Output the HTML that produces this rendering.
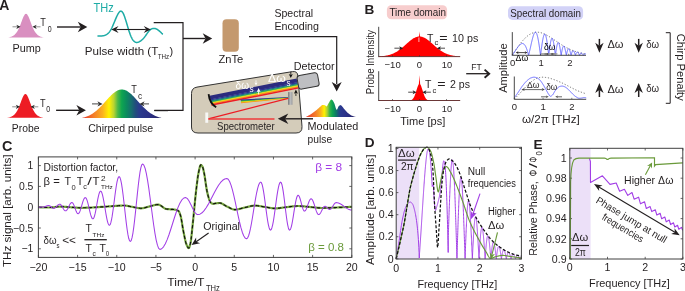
<!DOCTYPE html>
<html><head><meta charset="utf-8"><style>
html,body{margin:0;padding:0;background:#fff;width:685px;height:291px;overflow:hidden}
svg{display:block;will-change:transform}
text{font-family:"Liberation Sans",sans-serif}
</style></head><body>
<svg width="685" height="291" viewBox="0 0 685 291">
<defs><linearGradient id="rb" x1="82" y1="0" x2="161.5" y2="0" gradientUnits="userSpaceOnUse">
<stop offset="0" stop-color="#e6332a"/><stop offset="0.15" stop-color="#f4802a"/><stop offset="0.26" stop-color="#fbb21f"/>
<stop offset="0.34" stop-color="#fff200"/><stop offset="0.4" stop-color="#b9d432"/><stop offset="0.45" stop-color="#4cb848"/>
<stop offset="0.5" stop-color="#0ea550"/><stop offset="0.56" stop-color="#0b8b5d"/><stop offset="0.62" stop-color="#176e6e"/>
<stop offset="0.67" stop-color="#214f7c"/><stop offset="0.72" stop-color="#2a3b8d"/><stop offset="0.85" stop-color="#2b2f84"/>
<stop offset="1" stop-color="#262462"/></linearGradient>
<linearGradient id="gm" x1="0" y1="0" x2="1" y2="0"><stop offset="0" stop-color="#77787a"/><stop offset="0.55" stop-color="#b9babc"/><stop offset="1" stop-color="#9a9b9e"/></linearGradient>
<linearGradient id="rb2" x1="305.9" y1="0" x2="355.6" y2="0" gradientUnits="userSpaceOnUse">
<stop offset="0" stop-color="#e6332a"/><stop offset="0.2" stop-color="#f4802a"/><stop offset="0.3" stop-color="#fbb21f"/>
<stop offset="0.37" stop-color="#fff200"/><stop offset="0.43" stop-color="#a6cf38"/><stop offset="0.48" stop-color="#39b54a"/>
<stop offset="0.53" stop-color="#0ea550"/><stop offset="0.6" stop-color="#0b7d64"/><stop offset="0.66" stop-color="#1f4f80"/>
<stop offset="0.7" stop-color="#2b3990"/><stop offset="0.85" stop-color="#2b2f84"/>
<stop offset="1" stop-color="#262462"/></linearGradient></defs>
<text x="-0.8" y="9.5" font-size="14" fill="#231f20" font-weight="bold" >A</text>
<path d="M8.00 37.48 L8.30 37.43 L8.61 37.38 L8.91 37.33 L9.21 37.27 L9.51 37.20 L9.82 37.13 L10.12 37.05 L10.42 36.96 L10.72 36.87 L11.03 36.77 L11.33 36.66 L11.63 36.54 L11.93 36.41 L12.24 36.27 L12.54 36.12 L12.84 35.96 L13.14 35.78 L13.45 35.58 L13.75 35.38 L14.05 35.15 L14.35 34.91 L14.66 34.64 L14.96 34.36 L15.26 34.05 L15.56 33.73 L15.87 33.37 L16.17 33.00 L16.47 32.59 L16.77 32.16 L17.08 31.70 L17.38 31.21 L17.68 30.69 L17.98 30.14 L18.29 29.56 L18.59 28.94 L18.89 28.30 L19.19 27.63 L19.50 26.92 L19.80 26.20 L20.10 25.44 L20.40 24.67 L20.71 23.88 L21.01 23.07 L21.31 22.26 L21.61 21.44 L21.92 20.63 L22.22 19.83 L22.52 19.04 L22.82 18.28 L23.13 17.56 L23.43 16.87 L23.73 16.24 L24.03 15.66 L24.34 15.15 L24.64 14.72 L24.94 14.36 L25.24 14.09 L25.55 13.90 L25.85 13.81 L26.15 13.81 L26.45 13.90 L26.76 14.09 L27.06 14.36 L27.36 14.72 L27.66 15.15 L27.97 15.66 L28.27 16.24 L28.57 16.87 L28.87 17.56 L29.18 18.28 L29.48 19.04 L29.78 19.83 L30.08 20.63 L30.39 21.44 L30.69 22.26 L30.99 23.07 L31.29 23.88 L31.60 24.67 L31.90 25.44 L32.20 26.20 L32.50 26.92 L32.81 27.63 L33.11 28.30 L33.41 28.94 L33.71 29.56 L34.02 30.14 L34.32 30.69 L34.62 31.21 L34.92 31.70 L35.23 32.16 L35.53 32.59 L35.83 33.00 L36.13 33.37 L36.44 33.73 L36.74 34.05 L37.04 34.36 L37.34 34.64 L37.65 34.91 L37.95 35.15 L38.25 35.38 L38.55 35.58 L38.86 35.78 L39.16 35.96 L39.46 36.12 L39.76 36.27 L40.07 36.41 L40.37 36.54 L40.67 36.66 L40.97 36.77 L41.28 36.87 L41.58 36.96 L41.88 37.05 L42.18 37.13 L42.49 37.20 L42.79 37.27 L43.09 37.33 L43.39 37.38 L43.70 37.43 L44.00 37.48 Z" fill="#d98fc0" stroke="none" stroke-width="1" />
<line x1="12.5" y1="26.8" x2="17.5" y2="26.8" stroke="#777" stroke-width="0.8" />
<path d="M20.5 26.8 L16.3 28.9 L17.56 26.8 L16.3 24.7 Z" fill="#222" stroke="none" stroke-width="1" />
<line x1="40.5" y1="26.8" x2="35.5" y2="26.8" stroke="#777" stroke-width="0.8" />
<path d="M32.5 26.8 L36.7 24.7 L35.44 26.8 L36.7 28.9 Z" fill="#222" stroke="none" stroke-width="1" />
<text x="40.2" y="26.4" font-size="10.8" fill="#231f20" textLength="5.6" lengthAdjust="spacingAndGlyphs" >T</text>
<text x="47.7" y="31.8" font-size="8.2" fill="#231f20" textLength="3.9" lengthAdjust="spacingAndGlyphs" >0</text>
<text x="12.6" y="51.9" font-size="11.4" fill="#231f20" textLength="28.3" lengthAdjust="spacingAndGlyphs" >Pump</text>
<line x1="57" y1="27" x2="80.65" y2="27" stroke="#231f20" stroke-width="1.4" />
<path d="M87.3 27 L77.8 32.25 L80.65 27 L77.8 21.75 Z" fill="#231f20" stroke="none" stroke-width="1" />
<text x="93.6" y="11.9" font-size="12.2" fill="#1eaca6" textLength="20.2" lengthAdjust="spacingAndGlyphs" >THz</text>
<path d="M98.00 35.90 L98.32 35.91 L98.65 35.93 L98.97 35.94 L99.29 35.95 L99.62 35.96 L99.94 35.97 L100.27 35.97 L100.59 35.97 L100.91 35.97 L101.24 35.96 L101.56 35.95 L101.88 35.93 L102.21 35.90 L102.53 35.87 L102.85 35.82 L103.18 35.77 L103.50 35.71 L103.83 35.63 L104.15 35.55 L104.47 35.45 L104.80 35.34 L105.12 35.22 L105.44 35.08 L105.77 34.93 L106.09 34.76 L106.41 34.58 L106.74 34.38 L107.06 34.16 L107.38 33.92 L107.71 33.66 L108.03 33.38 L108.36 33.08 L108.68 32.75 L109.00 32.40 L109.33 32.01 L109.65 31.60 L109.97 31.15 L110.30 30.67 L110.62 30.15 L110.94 29.60 L111.27 29.01 L111.59 28.38 L111.92 27.71 L112.24 27.02 L112.56 26.31 L112.89 25.57 L113.21 24.82 L113.53 24.05 L113.86 23.27 L114.18 22.49 L114.50 21.70 L114.83 20.92 L115.15 20.13 L115.48 19.36 L115.80 18.60 L116.12 17.86 L116.45 17.13 L116.77 16.43 L117.09 15.75 L117.42 15.09 L117.74 14.47 L118.06 13.89 L118.39 13.34 L118.71 12.84 L119.04 12.38 L119.36 11.99 L119.68 11.66 L120.01 11.41 L120.33 11.23 L120.65 11.13 L120.98 11.12 L121.30 11.20 L121.62 11.36 L121.95 11.61 L122.27 11.94 L122.59 12.36 L122.92 12.86 L123.24 13.45 L123.57 14.11 L123.89 14.85 L124.21 15.66 L124.54 16.52 L124.86 17.44 L125.18 18.41 L125.51 19.41 L125.83 20.45 L126.15 21.51 L126.48 22.59 L126.80 23.69 L127.13 24.80 L127.45 25.90 L127.77 27.00 L128.10 28.09 L128.42 29.15 L128.74 30.20 L129.07 31.21 L129.39 32.18 L129.71 33.12 L130.04 34.02 L130.36 34.87 L130.69 35.68 L131.01 36.45 L131.33 37.17 L131.66 37.84 L131.98 38.46 L132.30 39.03 L132.63 39.55 L132.95 40.02 L133.27 40.45 L133.60 40.83 L133.92 41.16 L134.25 41.45 L134.57 41.70 L134.89 41.91 L135.22 42.09 L135.54 42.22 L135.86 42.33 L136.19 42.40 L136.51 42.44 L136.83 42.45 L137.16 42.43 L137.48 42.38 L137.81 42.31 L138.13 42.22 L138.45 42.10 L138.78 41.97 L139.10 41.81 L139.42 41.64 L139.75 41.45 L140.07 41.26 L140.39 41.04 L140.72 40.82 L141.04 40.58 L141.36 40.33 L141.69 40.07 L142.01 39.79 L142.34 39.49 L142.66 39.19 L142.98 38.87 L143.31 38.53 L143.63 38.17 L143.95 37.81 L144.28 37.42 L144.60 37.02 L144.92 36.60 L145.25 36.16 L145.57 35.71 L145.90 35.25 L146.22 34.79 L146.54 34.31 L146.87 33.84 L147.19 33.38 L147.51 32.92 L147.84 32.47 L148.16 32.03 L148.48 31.62 L148.81 31.22 L149.13 30.85 L149.46 30.51 L149.78 30.20 L150.10 29.91 L150.43 29.65 L150.75 29.42 L151.07 29.21 L151.40 29.02 L151.72 28.86 L152.04 28.72 L152.37 28.61 L152.69 28.52 L153.02 28.45 L153.34 28.41 L153.66 28.38 L153.99 28.38 L154.31 28.40 L154.63 28.44 L154.96 28.49 L155.28 28.57 L155.60 28.67 L155.93 28.79 L156.25 28.92 L156.57 29.07 L156.90 29.24 L157.22 29.43 L157.55 29.63 L157.87 29.85 L158.19 30.09 L158.52 30.33 L158.84 30.59 L159.16 30.86 L159.49 31.14 L159.81 31.43 L160.13 31.72 L160.46 32.02 L160.78 32.33 L161.11 32.64 L161.43 32.95 L161.75 33.27 L162.08 33.58 L162.40 33.90" fill="none" stroke="#1eaca6" stroke-width="1.5" stroke-linecap="round" stroke-linejoin="round"/>
<line x1="116.34" y1="29.5" x2="145.86" y2="29.5" stroke="#231f20" stroke-width="1.1" />
<path d="M150.9 29.5 L143.7 32.9 L146.22 29.5 L143.7 26.1 Z" fill="#231f20" stroke="none" stroke-width="1" />
<path d="M111.3 29.5 L118.5 26.1 L115.98 29.5 L118.5 32.9 Z" fill="#231f20" stroke="none" stroke-width="1" />
<text x="84.7" y="54.7" font-size="10.9" fill="#231f20" textLength="73.6" lengthAdjust="spacingAndGlyphs" >Pulse width (T</text>
<text x="157.8" y="58.6" font-size="6.9" fill="#231f20" textLength="11.4" lengthAdjust="spacingAndGlyphs" >THz</text>
<text x="169.4" y="54.7" font-size="10.9" fill="#231f20" >)</text>
<path d="M153.7 22.7 L183 22.7 L183 110.4 L154.3 110.4" fill="none" stroke="#231f20" stroke-width="1.2" />
<line x1="183" y1="38.5" x2="205.55" y2="38.5" stroke="#231f20" stroke-width="1.4" />
<path d="M212.2 38.5 L202.7 43.75 L205.55 38.5 L202.7 33.25 Z" fill="#231f20" stroke="none" stroke-width="1" />
<path d="M7.50 117.67 L7.80 117.62 L8.11 117.56 L8.41 117.51 L8.71 117.44 L9.01 117.38 L9.32 117.30 L9.62 117.22 L9.92 117.13 L10.22 117.04 L10.53 116.94 L10.83 116.82 L11.13 116.70 L11.43 116.57 L11.74 116.42 L12.04 116.27 L12.34 116.10 L12.64 115.92 L12.95 115.72 L13.25 115.50 L13.55 115.27 L13.85 115.02 L14.16 114.75 L14.46 114.46 L14.76 114.15 L15.06 113.81 L15.37 113.45 L15.67 113.06 L15.97 112.65 L16.27 112.21 L16.58 111.74 L16.88 111.24 L17.18 110.71 L17.48 110.15 L17.79 109.56 L18.09 108.93 L18.39 108.28 L18.69 107.60 L19.00 106.89 L19.30 106.15 L19.60 105.39 L19.90 104.61 L20.21 103.81 L20.51 103.00 L20.81 102.19 L21.11 101.37 L21.42 100.56 L21.72 99.77 L22.02 98.99 L22.32 98.24 L22.63 97.53 L22.93 96.86 L23.23 96.24 L23.53 95.69 L23.84 95.20 L24.14 94.79 L24.44 94.46 L24.74 94.22 L25.05 94.06 L25.35 94.00 L25.65 94.03 L25.95 94.16 L26.26 94.37 L26.56 94.67 L26.86 95.05 L27.16 95.51 L27.47 96.05 L27.77 96.64 L28.07 97.29 L28.37 97.99 L28.68 98.73 L28.98 99.50 L29.28 100.29 L29.58 101.10 L29.89 101.91 L30.19 102.73 L30.49 103.54 L30.79 104.34 L31.10 105.13 L31.40 105.90 L31.70 106.64 L32.00 107.36 L32.31 108.05 L32.61 108.72 L32.91 109.35 L33.21 109.95 L33.52 110.52 L33.82 111.06 L34.12 111.57 L34.42 112.05 L34.73 112.51 L35.03 112.93 L35.33 113.32 L35.63 113.69 L35.94 114.04 L36.24 114.36 L36.54 114.66 L36.84 114.93 L37.15 115.19 L37.45 115.43 L37.75 115.65 L38.05 115.85 L38.36 116.04 L38.66 116.21 L38.96 116.37 L39.26 116.52 L39.57 116.66 L39.87 116.78 L40.17 116.90 L40.47 117.01 L40.78 117.10 L41.08 117.19 L41.38 117.28 L41.68 117.35 L41.99 117.42 L42.29 117.49 L42.59 117.55 L42.89 117.60 L43.20 117.65 L43.50 117.70 Z" fill="#ed1c24" stroke="none" stroke-width="1" />
<line x1="12.2" y1="106.8" x2="17" y2="106.8" stroke="#777" stroke-width="0.8" />
<path d="M20 106.8 L15.8 108.9 L17.06 106.8 L15.8 104.7 Z" fill="#222" stroke="none" stroke-width="1" />
<line x1="38.3" y1="106.8" x2="33.6" y2="106.8" stroke="#777" stroke-width="0.8" />
<path d="M30.6 106.8 L34.8 104.7 L33.54 106.8 L34.8 108.9 Z" fill="#222" stroke="none" stroke-width="1" />
<text x="40" y="106.6" font-size="10.8" fill="#231f20" textLength="5.6" lengthAdjust="spacingAndGlyphs" >T</text>
<text x="46.3" y="112.2" font-size="8.2" fill="#231f20" textLength="3.9" lengthAdjust="spacingAndGlyphs" >0</text>
<text x="11.8" y="132" font-size="11" fill="#231f20" textLength="27.6" lengthAdjust="spacingAndGlyphs" >Probe</text>
<line x1="56.1" y1="110.3" x2="79.25" y2="110.3" stroke="#231f20" stroke-width="1.4" />
<path d="M85.9 110.3 L76.4 115.55 L79.25 110.3 L76.4 105.05 Z" fill="#231f20" stroke="none" stroke-width="1" />
<path d="M82.00 117.94 L82.67 117.78 L83.34 117.62 L84.00 117.43 L84.67 117.24 L85.34 117.02 L86.01 116.80 L86.68 116.55 L87.34 116.29 L88.01 116.00 L88.68 115.70 L89.35 115.38 L90.02 115.04 L90.68 114.67 L91.35 114.29 L92.02 113.88 L92.69 113.45 L93.36 113.00 L94.03 112.52 L94.69 112.03 L95.36 111.51 L96.03 110.96 L96.70 110.40 L97.37 109.81 L98.03 109.21 L98.70 108.58 L99.37 107.93 L100.04 107.27 L100.71 106.59 L101.37 105.90 L102.04 105.19 L102.71 104.47 L103.38 103.74 L104.05 103.00 L104.71 102.26 L105.38 101.51 L106.05 100.76 L106.72 100.01 L107.39 99.27 L108.05 98.54 L108.72 97.81 L109.39 97.10 L110.06 96.41 L110.73 95.73 L111.39 95.07 L112.06 94.44 L112.73 93.84 L113.40 93.26 L114.07 92.72 L114.74 92.21 L115.40 91.74 L116.07 91.31 L116.74 90.92 L117.41 90.58 L118.08 90.28 L118.74 90.03 L119.41 89.82 L120.08 89.67 L120.75 89.56 L121.42 89.51 L122.08 89.50 L122.75 89.55 L123.42 89.65 L124.09 89.80 L124.76 89.99 L125.42 90.24 L126.09 90.53 L126.76 90.87 L127.43 91.25 L128.10 91.68 L128.76 92.14 L129.43 92.64 L130.10 93.18 L130.77 93.75 L131.44 94.35 L132.11 94.98 L132.77 95.63 L133.44 96.30 L134.11 97.00 L134.78 97.71 L135.45 98.43 L136.11 99.16 L136.78 99.90 L137.45 100.65 L138.12 101.40 L138.79 102.14 L139.45 102.89 L140.12 103.63 L140.79 104.36 L141.46 105.08 L142.13 105.79 L142.79 106.49 L143.46 107.17 L144.13 107.84 L144.80 108.48 L145.47 109.11 L146.13 109.72 L146.80 110.31 L147.47 110.88 L148.14 111.43 L148.81 111.95 L149.47 112.45 L150.14 112.93 L150.81 113.38 L151.48 113.82 L152.15 114.23 L152.82 114.62 L153.48 114.98 L154.15 115.33 L154.82 115.65 L155.49 115.96 L156.16 116.24 L156.82 116.51 L157.49 116.76 L158.16 116.99 L158.83 117.21 L159.50 117.41 L160.16 117.59 L160.83 117.76 L161.50 117.92 Z" fill="url(#rb)" stroke="none" stroke-width="1" />
<line x1="92" y1="103.9" x2="98.96" y2="103.9" stroke="#333" stroke-width="0.9" />
<path d="M102.6 103.9 L97.4 106.6 L98.96 103.9 L97.4 101.2 Z" fill="#333" stroke="none" stroke-width="1" />
<line x1="149" y1="103.9" x2="143.04" y2="103.9" stroke="#333" stroke-width="0.9" />
<path d="M139.4 103.9 L144.6 101.2 L143.04 103.9 L144.6 106.6 Z" fill="#333" stroke="none" stroke-width="1" />
<text x="131.2" y="92.8" font-size="10.8" fill="#231f20" textLength="5.6" lengthAdjust="spacingAndGlyphs" >T</text>
<text x="137.9" y="99.2" font-size="8.6" fill="#231f20" textLength="4.2" lengthAdjust="spacingAndGlyphs" >c</text>
<text x="88.2" y="132" font-size="11" fill="#231f20" textLength="65" lengthAdjust="spacingAndGlyphs" >Chirped pulse</text>
<line x1="154.3" y1="110.6" x2="168" y2="110.6" stroke="#231f20" stroke-width="1.2" />
<rect x="222.5" y="19.2" width="16.3" height="32.5" rx="4" fill="#c4996e"/>
<text x="218.4" y="63" font-size="10.8" fill="#231f20" textLength="24.8" lengthAdjust="spacingAndGlyphs" >ZnTe</text>
<path d="M249 36.6 L336.7 36.6 L336.7 84" fill="none" stroke="#231f20" stroke-width="1.2" />
<path d="M336.7 91.4 L331.7 81.9 L336.7 84.75 L341.7 81.9 Z" fill="#231f20" stroke="none" stroke-width="1" />
<text x="274.4" y="16.8" font-size="11" fill="#231f20" textLength="38.8" lengthAdjust="spacingAndGlyphs" >Spectral</text>
<text x="274.4" y="30.2" font-size="11" fill="#231f20" textLength="44.6" lengthAdjust="spacingAndGlyphs" >Encoding</text>
<text x="293.8" y="70" font-size="11" fill="#231f20" textLength="40.8" lengthAdjust="spacingAndGlyphs" >Detector</text>
<path d="M197 87.1 L292.5 71.6 Q297.6 70.9 297.9 76 L302 126.5 Q302.4 133 296 133 L198 133 Q191.5 133 191.5 127 L191.5 93.5 Q191.5 88 197 87.1 Z" fill="#d4ccba" stroke="#333" stroke-width="1" />
<g transform="translate(210.5 100.6) rotate(-11.17)">
<rect x="0" y="-5" width="88.78" height="3.9" fill="#2b2b7e"/>
<rect x="0" y="-1.4" width="88.78" height="1.4" fill="#2e3192"/>
<rect x="0" y="-0.3" width="88.78" height="1.1" fill="#1f5f8f"/>
<rect x="0" y="0.5" width="88.78" height="1.1" fill="#1d9a6c"/>
<rect x="0" y="1.3" width="88.78" height="0.9" fill="#39b54a"/>
<rect x="0" y="1.9" width="88.78" height="0.8" fill="#d7df23"/>
<rect x="0" y="2.4" width="88.78" height="0.7" fill="#fff200"/>
<rect x="0" y="2.8" width="88.78" height="1.3" fill="#f7941d"/>
<rect x="0" y="3.8" width="88.78" height="1.5" fill="#ed1c24"/>
</g>
<path d="M208.6 94.2 Q209.5 103.5 216.2 107.2" fill="none" stroke="#111" stroke-width="1.8" />
<rect x="288.0" y="92.1" width="4.5" height="12.7" fill="url(#gm)"/>
<path d="M240.5 99.6 L288 97.0 L288 97.8 L241 101.6 Z" fill="#2e3192" stroke="none" stroke-width="1" />
<path d="M241 100.6 L288 97.6 L288 98.2 L241 102.2 Z" fill="#39b54a" stroke="none" stroke-width="1" />
<path d="M241 101.5 L288 98.0 L288 98.4 L241 102.8 Z" fill="#fff200" stroke="none" stroke-width="1" opacity="0.9"/>
<path d="M241 102.2 L288 98.3 L288 98.6 L241 103.3 Z" fill="#f7941d" stroke="none" stroke-width="1" />
<line x1="208.2" y1="118.9" x2="288.2" y2="98.4" stroke="#ed1c24" stroke-width="1.1" />
<line x1="208.2" y1="118.9" x2="274.5" y2="118.9" stroke="#ef3b3b" stroke-width="1.5" />
<rect x="205.3" y="112.5" width="2.9" height="10.3" fill="#f7f7f5"/>
<text x="235.6" y="88.5" font-size="10.5" fill="#fff" textLength="13.4" lengthAdjust="spacingAndGlyphs" >δω</text>
<text x="249.6" y="92.2" font-size="8.8" fill="#fff" textLength="4.2" lengthAdjust="spacingAndGlyphs" >s</text>
<text x="268" y="81.6" font-size="10.5" fill="#fff" textLength="17.8" lengthAdjust="spacingAndGlyphs" >Δω</text>
<text x="286.4" y="85.7" font-size="8.8" fill="#fff" textLength="4" lengthAdjust="spacingAndGlyphs" >s</text>
<line x1="256" y1="80.3" x2="256" y2="83.36" stroke="#fff" stroke-width="0.8" />
<path d="M256 85.6 L254.4 82.4 L256 83.2 L257.6 82.4 Z" fill="#fff" stroke="none" stroke-width="1" />
<line x1="258.6" y1="94.5" x2="258.6" y2="90.94" stroke="#fff" stroke-width="0.9" />
<path d="M258.6 88 L260.6 92.2 L258.6 91.15 L256.6 92.2 Z" fill="#fff" stroke="none" stroke-width="1" />
<line x1="290.8" y1="71.8" x2="290.8" y2="75.1" stroke="#111" stroke-width="0.8" />
<path d="M290.8 77.9 L288.8 73.9 L290.8 74.9 L292.8 73.9 Z" fill="#111" stroke="none" stroke-width="1" />
<line x1="295.9" y1="96" x2="295.9" y2="92.54" stroke="#111" stroke-width="0.8" />
<path d="M295.9 89.6 L297.9 93.8 L295.9 92.75 L293.9 93.8 Z" fill="#111" stroke="none" stroke-width="1" />
<rect x="-10.4" y="-6.9" width="20.8" height="13.8" rx="2.8" transform="translate(308.1 80.9) rotate(-10.5)" fill="#bebfc2" stroke="#333" stroke-width="1"/>
<text x="217" y="129.8" font-size="10.2" fill="#231f20" textLength="57.6" lengthAdjust="spacingAndGlyphs" >Spectrometer</text>
<path d="M305.90 116.90 L306.23 116.75 L306.57 116.59 L306.90 116.43 L307.23 116.26 L307.57 116.09 L307.90 115.92 L308.23 115.74 L308.57 115.56 L308.90 115.37 L309.24 115.18 L309.57 114.99 L309.90 114.79 L310.24 114.60 L310.57 114.39 L310.90 114.19 L311.24 113.98 L311.57 113.76 L311.90 113.54 L312.24 113.32 L312.57 113.08 L312.90 112.85 L313.24 112.60 L313.57 112.36 L313.91 112.11 L314.24 111.85 L314.57 111.59 L314.91 111.33 L315.24 111.07 L315.57 110.80 L315.91 110.54 L316.24 110.27 L316.57 109.99 L316.91 109.70 L317.24 109.41 L317.57 109.10 L317.91 108.80 L318.24 108.50 L318.58 108.19 L318.91 107.90 L319.24 107.61 L319.58 107.34 L319.91 107.04 L320.24 106.71 L320.58 106.38 L320.91 106.04 L321.24 105.73 L321.58 105.44 L321.91 105.20 L322.24 105.03 L322.58 104.92 L322.91 104.90 L323.24 104.92 L323.58 104.97 L323.91 105.03 L324.25 105.11 L324.58 105.20 L324.91 105.30 L325.25 105.50 L325.58 105.80 L325.91 106.11 L326.25 106.34 L326.58 106.39 L326.91 106.17 L327.25 105.71 L327.58 105.11 L327.91 104.43 L328.25 103.78 L328.58 103.23 L328.92 102.73 L329.25 102.18 L329.58 101.61 L329.92 101.06 L330.25 100.54 L330.58 100.10 L330.92 99.76 L331.25 99.55 L331.58 99.51 L331.92 99.64 L332.25 99.91 L332.58 100.31 L332.92 100.79 L333.25 101.32 L333.59 101.88 L333.92 102.43 L334.25 103.14 L334.59 104.09 L334.92 105.20 L335.25 106.35 L335.59 107.48 L335.92 108.47 L336.25 109.25 L336.59 109.71 L336.92 109.76 L337.25 109.31 L337.59 108.53 L337.92 107.65 L338.26 106.87 L338.59 106.41 L338.92 106.07 L339.26 105.75 L339.59 105.47 L339.92 105.26 L340.26 105.13 L340.59 105.10 L340.92 105.20 L341.26 105.39 L341.59 105.68 L341.92 106.03 L342.26 106.44 L342.59 106.88 L342.92 107.35 L343.26 107.81 L343.59 108.27 L343.93 108.69 L344.26 109.06 L344.59 109.43 L344.93 109.81 L345.26 110.19 L345.59 110.58 L345.93 110.96 L346.26 111.34 L346.59 111.72 L346.93 112.08 L347.26 112.42 L347.59 112.74 L347.93 113.04 L348.26 113.32 L348.60 113.59 L348.93 113.85 L349.26 114.10 L349.60 114.35 L349.93 114.58 L350.26 114.80 L350.60 115.01 L350.93 115.21 L351.26 115.39 L351.60 115.55 L351.93 115.70 L352.26 115.85 L352.60 115.99 L352.93 116.12 L353.27 116.25 L353.60 116.37 L353.93 116.49 L354.27 116.59 L354.60 116.69 L354.93 116.77 L355.27 116.84 L355.60 116.90 Z" fill="url(#rb2)" stroke="none" stroke-width="1" />
<line x1="313" y1="118.8" x2="285.15" y2="118.8" stroke="#231f20" stroke-width="1.4" />
<path d="M277.8 118.8 L288.3 113.55 L285.15 118.8 L288.3 124.05 Z" fill="#231f20" stroke="none" stroke-width="1" />
<text x="307.6" y="129.7" font-size="11" fill="#231f20" textLength="50.6" lengthAdjust="spacingAndGlyphs" >Modulated</text>
<text x="307.6" y="143" font-size="11" fill="#231f20" textLength="24.5" lengthAdjust="spacingAndGlyphs" >pulse</text>
<text x="364.6" y="13.6" font-size="13.6" fill="#231f20" font-weight="bold" >B</text>
<rect x="386.9" y="5.2" width="60.2" height="14.1" rx="4.5" fill="#f7cdcd"/>
<text x="389.4" y="16.2" font-size="10.6" fill="#231f20" textLength="56.6" lengthAdjust="spacingAndGlyphs" >Time domain</text>
<rect x="508" y="6.2" width="75.1" height="13.7" rx="4.5" fill="#d2d2f7"/>
<text x="510.2" y="17" font-size="10.8" fill="#231f20" textLength="70.7" lengthAdjust="spacingAndGlyphs" >Spectral domain</text>
<path d="M378.70 56.38 L379.11 56.36 L379.52 56.33 L379.93 56.31 L380.34 56.28 L380.75 56.25 L381.16 56.22 L381.57 56.19 L381.98 56.15 L382.39 56.11 L382.80 56.07 L383.21 56.03 L383.61 55.98 L384.02 55.93 L384.43 55.88 L384.84 55.82 L385.25 55.76 L385.66 55.69 L386.07 55.62 L386.48 55.55 L386.89 55.47 L387.30 55.38 L387.71 55.29 L388.12 55.20 L388.53 55.10 L388.94 54.99 L389.35 54.88 L389.76 54.76 L390.17 54.64 L390.58 54.51 L390.99 54.37 L391.40 54.22 L391.81 54.07 L392.22 53.91 L392.62 53.75 L393.03 53.57 L393.44 53.39 L393.85 53.20 L394.26 53.01 L394.67 52.80 L395.08 52.59 L395.49 52.37 L395.90 52.14 L396.31 51.90 L396.72 51.66 L397.13 51.40 L397.54 51.14 L397.95 50.87 L398.36 50.60 L398.77 50.31 L399.18 50.02 L399.59 49.72 L400.00 49.41 L400.41 49.10 L400.82 48.78 L401.23 48.45 L401.63 48.12 L402.04 47.78 L402.45 47.44 L402.86 47.09 L403.27 46.74 L403.68 46.38 L404.09 46.02 L404.50 45.66 L404.91 45.29 L405.32 44.93 L405.73 44.56 L406.14 44.19 L406.55 43.83 L406.96 43.46 L407.37 43.10 L407.78 42.74 L408.19 42.38 L408.60 42.02 L409.01 41.67 L409.42 41.33 L409.83 40.99 L410.24 40.66 L410.64 40.34 L411.05 40.03 L411.46 39.72 L411.87 39.42 L412.28 39.14 L412.69 38.87 L413.10 38.61 L413.51 38.36 L413.92 38.12 L414.33 37.90 L414.74 37.69 L415.15 37.50 L415.56 37.33 L415.97 37.17 L416.38 37.02 L416.79 36.90 L417.20 36.79 L417.61 36.69 L418.02 36.62 L418.43 36.56 L418.84 36.52 L419.25 36.50 L419.65 36.50 L420.06 36.52 L420.47 36.55 L420.88 36.60 L421.29 36.67 L421.70 36.76 L422.11 36.87 L422.52 36.99 L422.93 37.13 L423.34 37.29 L423.75 37.46 L424.16 37.65 L424.57 37.85 L424.98 38.07 L425.39 38.30 L425.80 38.54 L426.21 38.80 L426.62 39.07 L427.03 39.35 L427.44 39.65 L427.85 39.95 L428.26 40.26 L428.66 40.58 L429.07 40.91 L429.48 41.25 L429.89 41.59 L430.30 41.94 L430.71 42.29 L431.12 42.65 L431.53 43.01 L431.94 43.37 L432.35 43.74 L432.76 44.10 L433.17 44.47 L433.58 44.84 L433.99 45.20 L434.40 45.57 L434.81 45.93 L435.22 46.29 L435.63 46.65 L436.04 47.00 L436.45 47.35 L436.86 47.70 L437.27 48.04 L437.67 48.37 L438.08 48.70 L438.49 49.02 L438.90 49.34 L439.31 49.64 L439.72 49.95 L440.13 50.24 L440.54 50.53 L440.95 50.81 L441.36 51.08 L441.77 51.34 L442.18 51.60 L442.59 51.84 L443.00 52.08 L443.41 52.31 L443.82 52.54 L444.23 52.75 L444.64 52.96 L445.05 53.16 L445.46 53.35 L445.87 53.53 L446.28 53.71 L446.68 53.87 L447.09 54.03 L447.50 54.19 L447.91 54.33 L448.32 54.47 L448.73 54.61 L449.14 54.73 L449.55 54.85 L449.96 54.96 L450.37 55.07 L450.78 55.17 L451.19 55.27 L451.60 55.36 L452.01 55.45 L452.42 55.53 L452.83 55.60 L453.24 55.67 L453.65 55.74 L454.06 55.80 L454.47 55.86 L454.88 55.92 L455.29 55.97 L455.69 56.02 L456.10 56.06 L456.51 56.10 L456.92 56.14 L457.33 56.18 L457.74 56.21 L458.15 56.25 L458.56 56.28 L458.97 56.30 L459.38 56.33 L459.79 56.35 L460.20 56.37 Z" fill="#ff0000" stroke="none" stroke-width="1" />
<path d="M418.6 40.5 L419.5 31.4 L420.4 40.5 Z" fill="#ff0000" stroke="none" stroke-width="1" />
<line x1="378.7" y1="26.8" x2="378.7" y2="57.1" stroke="#333" stroke-width="0.9" />
<line x1="378.7" y1="56.6" x2="460.2" y2="56.6" stroke="#5a2020" stroke-width="0.9" />
<line x1="392.5" y1="56.6" x2="392.5" y2="55.1" stroke="#333" stroke-width="0.6" />
<line x1="419.5" y1="56.6" x2="419.5" y2="55.1" stroke="#333" stroke-width="0.6" />
<line x1="446.5" y1="56.6" x2="446.5" y2="55.1" stroke="#333" stroke-width="0.6" />
<path d="M378.70 100.50 L379.11 100.50 L379.52 100.50 L379.93 100.50 L380.34 100.50 L380.75 100.50 L381.16 100.50 L381.57 100.50 L381.98 100.50 L382.39 100.50 L382.80 100.50 L383.21 100.50 L383.61 100.50 L384.02 100.50 L384.43 100.50 L384.84 100.50 L385.25 100.50 L385.66 100.50 L386.07 100.50 L386.48 100.50 L386.89 100.50 L387.30 100.50 L387.71 100.50 L388.12 100.50 L388.53 100.50 L388.94 100.50 L389.35 100.50 L389.76 100.50 L390.17 100.50 L390.58 100.50 L390.99 100.50 L391.40 100.50 L391.81 100.50 L392.22 100.50 L392.62 100.50 L393.03 100.50 L393.44 100.50 L393.85 100.50 L394.26 100.50 L394.67 100.50 L395.08 100.50 L395.49 100.50 L395.90 100.50 L396.31 100.50 L396.72 100.50 L397.13 100.50 L397.54 100.50 L397.95 100.50 L398.36 100.50 L398.77 100.50 L399.18 100.50 L399.59 100.50 L400.00 100.50 L400.41 100.50 L400.82 100.50 L401.23 100.50 L401.63 100.50 L402.04 100.50 L402.45 100.50 L402.86 100.50 L403.27 100.50 L403.68 100.50 L404.09 100.50 L404.50 100.50 L404.91 100.50 L405.32 100.50 L405.73 100.50 L406.14 100.50 L406.55 100.50 L406.96 100.50 L407.37 100.49 L407.78 100.49 L408.19 100.48 L408.60 100.47 L409.01 100.45 L409.42 100.42 L409.83 100.37 L410.24 100.31 L410.64 100.22 L411.05 100.10 L411.46 99.93 L411.87 99.70 L412.28 99.40 L412.69 99.02 L413.10 98.54 L413.51 97.95 L413.92 97.23 L414.33 96.39 L414.74 95.42 L415.15 94.34 L415.56 93.14 L415.97 91.88 L416.38 90.56 L416.79 89.25 L417.20 87.98 L417.61 86.81 L418.02 85.78 L418.43 84.96 L418.84 84.37 L419.25 84.06 L419.65 84.02 L420.06 84.27 L420.47 84.79 L420.88 85.56 L421.29 86.54 L421.70 87.68 L422.11 88.93 L422.52 90.24 L422.93 91.56 L423.34 92.84 L423.75 94.05 L424.16 95.17 L424.57 96.17 L424.98 97.04 L425.39 97.78 L425.80 98.40 L426.21 98.91 L426.62 99.32 L427.03 99.63 L427.44 99.88 L427.85 100.06 L428.26 100.19 L428.66 100.29 L429.07 100.36 L429.48 100.41 L429.89 100.44 L430.30 100.46 L430.71 100.48 L431.12 100.49 L431.53 100.49 L431.94 100.49 L432.35 100.50 L432.76 100.50 L433.17 100.50 L433.58 100.50 L433.99 100.50 L434.40 100.50 L434.81 100.50 L435.22 100.50 L435.63 100.50 L436.04 100.50 L436.45 100.50 L436.86 100.50 L437.27 100.50 L437.67 100.50 L438.08 100.50 L438.49 100.50 L438.90 100.50 L439.31 100.50 L439.72 100.50 L440.13 100.50 L440.54 100.50 L440.95 100.50 L441.36 100.50 L441.77 100.50 L442.18 100.50 L442.59 100.50 L443.00 100.50 L443.41 100.50 L443.82 100.50 L444.23 100.50 L444.64 100.50 L445.05 100.50 L445.46 100.50 L445.87 100.50 L446.28 100.50 L446.68 100.50 L447.09 100.50 L447.50 100.50 L447.91 100.50 L448.32 100.50 L448.73 100.50 L449.14 100.50 L449.55 100.50 L449.96 100.50 L450.37 100.50 L450.78 100.50 L451.19 100.50 L451.60 100.50 L452.01 100.50 L452.42 100.50 L452.83 100.50 L453.24 100.50 L453.65 100.50 L454.06 100.50 L454.47 100.50 L454.88 100.50 L455.29 100.50 L455.69 100.50 L456.10 100.50 L456.51 100.50 L456.92 100.50 L457.33 100.50 L457.74 100.50 L458.15 100.50 L458.56 100.50 L458.97 100.50 L459.38 100.50 L459.79 100.50 L460.20 100.50 Z" fill="#ff0000" stroke="none" stroke-width="1" />
<path d="M418.6 88 L419.5 75.3 L420.4 88 Z" fill="#ff0000" stroke="none" stroke-width="1" />
<line x1="378.7" y1="71.2" x2="378.7" y2="101" stroke="#333" stroke-width="0.9" />
<line x1="378.7" y1="100.5" x2="460.2" y2="100.5" stroke="#5a2020" stroke-width="0.9" />
<line x1="392.5" y1="100.5" x2="392.5" y2="99" stroke="#333" stroke-width="0.6" />
<line x1="419.5" y1="100.5" x2="419.5" y2="99" stroke="#333" stroke-width="0.6" />
<line x1="446.5" y1="100.5" x2="446.5" y2="99" stroke="#333" stroke-width="0.6" />
<line x1="418.9" y1="37.5" x2="418.9" y2="42" stroke="#fff" stroke-width="0.7" />
<text x="392.6" y="67.6" font-size="9.5" fill="#231f20" text-anchor="middle" textLength="16.2" lengthAdjust="spacingAndGlyphs" >−10</text>
<text x="419.5" y="67.6" font-size="9.5" fill="#231f20" text-anchor="middle" >0</text>
<text x="446.9" y="67.6" font-size="9.5" fill="#231f20" text-anchor="middle" textLength="10.3" lengthAdjust="spacingAndGlyphs" >10</text>
<text x="392.6" y="112" font-size="9.5" fill="#231f20" text-anchor="middle" textLength="16.2" lengthAdjust="spacingAndGlyphs" >−10</text>
<text x="419.5" y="112" font-size="9.5" fill="#231f20" text-anchor="middle" >0</text>
<text x="446.9" y="112" font-size="9.5" fill="#231f20" text-anchor="middle" textLength="10.3" lengthAdjust="spacingAndGlyphs" >10</text>
<line x1="394.4" y1="48.2" x2="400.4" y2="48.2" stroke="#231f20" stroke-width="0.8" />
<path d="M403.2 48.2 L399.2 50.2 L400.2 48.2 L399.2 46.2 Z" fill="#231f20" stroke="none" stroke-width="1" />
<line x1="445" y1="48.2" x2="439.7" y2="48.2" stroke="#231f20" stroke-width="0.8" />
<path d="M436.9 48.2 L440.9 46.2 L439.9 48.2 L440.9 50.2 Z" fill="#231f20" stroke="none" stroke-width="1" />
<line x1="408.2" y1="92.2" x2="413.8" y2="92.2" stroke="#231f20" stroke-width="0.8" />
<path d="M416.6 92.2 L412.6 94.2 L413.6 92.2 L412.6 90.2 Z" fill="#231f20" stroke="none" stroke-width="1" />
<line x1="430.9" y1="92.2" x2="425.2" y2="92.2" stroke="#231f20" stroke-width="0.8" />
<path d="M422.4 92.2 L426.4 90.2 L425.4 92.2 L426.4 94.2 Z" fill="#231f20" stroke="none" stroke-width="1" />
<text x="426.9" y="41.7" font-size="10.8" fill="#231f20" textLength="6.4" lengthAdjust="spacingAndGlyphs" >T</text>
<text x="434.6" y="45.1" font-size="8" fill="#231f20" textLength="3.8" lengthAdjust="spacingAndGlyphs" >c</text>
<text x="439.3" y="41.9" font-size="11" fill="#231f20" textLength="8.4" lengthAdjust="spacingAndGlyphs" >=</text>
<text x="452.1" y="41.9" font-size="11" fill="#231f20" textLength="26.2" lengthAdjust="spacingAndGlyphs" >10 ps</text>
<text x="424.9" y="88" font-size="10.8" fill="#231f20" textLength="6.4" lengthAdjust="spacingAndGlyphs" >T</text>
<text x="432.6" y="92.6" font-size="8" fill="#231f20" textLength="3.8" lengthAdjust="spacingAndGlyphs" >c</text>
<text x="437.3" y="88.2" font-size="11" fill="#231f20" textLength="8.4" lengthAdjust="spacingAndGlyphs" >=</text>
<text x="450" y="88.2" font-size="11" fill="#231f20" textLength="20" lengthAdjust="spacingAndGlyphs" >2 ps</text>
<text x="400.2" y="124.6" font-size="11.2" fill="#231f20" textLength="45.1" lengthAdjust="spacingAndGlyphs" >Time [ps]</text>
<text x="0" y="0" font-size="10.4" fill="#231f20" text-anchor="middle" textLength="64.2" lengthAdjust="spacingAndGlyphs" transform="translate(373.8 62.1) rotate(-90)">Probe Intensity</text>
<text x="471.2" y="70.2" font-size="9.2" fill="#231f20" textLength="10.4" lengthAdjust="spacingAndGlyphs" >FT</text>
<line x1="466.2" y1="73.7" x2="488.6" y2="73.7" stroke="#231f20" stroke-width="1.3" />
<path d="M484.6 69.6 L489.2 73.7 L484.6 77.8" fill="none" stroke="#231f20" stroke-width="1.9" />
<text x="0" y="0" font-size="11" fill="#231f20" text-anchor="middle" textLength="49.4" lengthAdjust="spacingAndGlyphs" transform="translate(507.2 68.1) rotate(-90)">Amplitude</text>
<path d="M512.30 55.30 L512.41 55.14 L512.51 54.98 L512.62 54.81 L512.72 54.65 L512.83 54.49 L512.93 54.33 L513.04 54.17 L513.14 54.01 L513.25 53.85 L513.35 53.68 L513.46 53.52 L513.57 53.36 L513.67 53.20 L513.78 53.04 L513.88 52.88 L513.99 52.72 L514.09 52.56 L514.20 52.40 L514.30 52.24 L514.41 52.08 L514.51 51.92 L514.62 51.76 L514.73 51.60 L514.83 51.44 L514.94 51.28 L515.04 51.12 L515.15 50.96 L515.25 50.80 L515.36 50.65 L515.46 50.49 L515.57 50.33 L515.67 50.17 L515.78 50.02 L515.88 49.86 L515.99 49.70 L516.10 49.55 L516.20 49.39 L516.31 49.23 L516.41 49.08 L516.52 48.92 L516.62 48.77 L516.73 48.62 L516.83 48.46 L516.94 48.31 L517.04 48.16 L517.15 48.00 L517.26 47.85 L517.36 47.70 L517.47 47.55 L517.57 47.40 L517.68 47.24 L517.78 47.09 L517.89 46.94 L517.99 46.79 L518.10 46.65 L518.20 46.50 L518.31 46.35 L518.42 46.20 L518.52 46.05 L518.63 45.91 L518.73 45.76 L518.84 45.62 L518.94 45.47 L519.05 45.33 L519.15 45.18 L519.26 45.04 L519.36 44.90 L519.47 44.75 L519.58 44.61 L519.68 44.47 L519.79 44.33 L519.89 44.19 L520.00 44.05 L520.10 43.91 L520.21 43.77 L520.31 43.63 L520.42 43.50 L520.52 43.36 L520.63 43.23 L520.73 43.09 L520.84 42.96 L520.95 42.82 L521.05 42.69 L521.16 42.56 L521.26 42.42 L521.37 42.29 L521.47 42.16 L521.58 42.03 L521.68 41.90 L521.79 41.77 L521.89 41.64 L522.00 41.52 L522.11 41.39 L522.21 41.27 L522.32 41.14 L522.42 41.02 L522.53 40.89 L522.63 40.77 L522.74 40.65 L522.84 40.53 L522.95 40.40 L523.05 40.28 L523.16 40.17 L523.27 40.05 L523.37 39.93 L523.48 39.81 L523.58 39.70 L523.69 39.58 L523.79 39.47 L523.90 39.35 L524.00 39.24 L524.11 39.13 L524.21 39.02 L524.32 38.91 L524.43 38.80 L524.53 38.69 L524.64 38.58 L524.74 38.47 L524.85 38.37 L524.95 38.26 L525.06 38.16 L525.16 38.05 L525.27 37.95 L525.37 37.85 L525.48 37.75 L525.58 37.65 L525.69 37.55 L525.80 37.45 L525.90 37.35 L526.01 37.25 L526.11 37.16 L526.22 37.06 L526.32 36.97 L526.43 36.87 L526.53 36.78 L526.64 36.69 L526.74 36.60 L526.85 36.51 L526.96 36.42 L527.06 36.33 L527.17 36.25 L527.27 36.16 L527.38 36.07 L527.48 35.99 L527.59 35.91 L527.69 35.82 L527.80 35.74 L527.90 35.66 L528.01 35.58 L528.12 35.50 L528.22 35.42 L528.33 35.35 L528.43 35.27 L528.54 35.20 L528.64 35.12 L528.75 35.05 L528.85 34.98 L528.96 34.91 L529.06 34.83 L529.17 34.77 L529.28 34.70 L529.38 34.63 L529.49 34.56 L529.59 34.50 L529.70 34.43 L529.80 34.37 L529.91 34.31 L530.01 34.24 L530.12 34.18 L530.22 34.12 L530.33 34.06 L530.44 34.00 L530.54 33.95 L530.65 33.89 L530.75 33.84 L530.86 33.78 L530.96 33.73 L531.07 33.68 L531.17 33.62 L531.28 33.57 L531.38 33.52 L531.49 33.48 L531.59 33.43 L531.70 33.38 L531.81 33.34 L531.91 33.29 L532.02 33.25 L532.12 33.20 L532.23 33.16 L532.33 33.12 L532.44 33.08 L532.54 33.04 L532.65 33.00 L532.75 32.96 L532.86 32.93 L532.97 32.89 L533.07 32.86 L533.18 32.82 L533.28 32.79 L533.39 32.76 L533.49 32.73 L533.60 32.70 L533.70 32.67 L533.81 32.64 L533.91 32.62 L534.02 32.59 L534.13 32.56 L534.23 32.54 L534.34 32.52 L534.44 32.49 L534.55 32.47 L534.65 32.45 L534.76 32.43 L534.86 32.41 L534.97 32.39 L535.07 32.38 L535.18 32.36 L535.29 32.34 L535.39 32.33 L535.50 32.32 L535.60 32.30 L535.71 32.29 L535.81 32.28 L535.92 32.27 L536.02 32.26 L536.13 32.25 L536.23 32.25 L536.34 32.24 L536.44 32.23 L536.55 32.23 L536.66 32.22 L536.76 32.22 L536.87 32.22 L536.97 32.22 L537.08 32.22 L537.18 32.22 L537.29 32.22 L537.39 32.22 L537.50 32.22 L537.60 32.22 L537.71 32.23 L537.82 32.23 L537.92 32.24 L538.03 32.25 L538.13 32.25 L538.24 32.26 L538.34 32.27 L538.45 32.28 L538.55 32.29 L538.66 32.30 L538.76 32.32 L538.87 32.33 L538.98 32.34 L539.08 32.36 L539.19 32.37 L539.29 32.39 L539.40 32.40 L539.50 32.42 L539.61 32.44 L539.71 32.46 L539.82 32.48 L539.92 32.50 L540.03 32.52 L540.14 32.54 L540.24 32.57 L540.35 32.59 L540.45 32.61 L540.56 32.64 L540.66 32.66 L540.77 32.69 L540.87 32.72 L540.98 32.74 L541.08 32.77 L541.19 32.80 L541.29 32.83 L541.40 32.86 L541.51 32.89 L541.61 32.92 L541.72 32.95 L541.82 32.99 L541.93 33.02 L542.03 33.05 L542.14 33.09 L542.24 33.12 L542.35 33.16 L542.45 33.20 L542.56 33.23 L542.67 33.27 L542.77 33.31 L542.88 33.35 L542.98 33.39 L543.09 33.43 L543.19 33.47 L543.30 33.51 L543.40 33.55 L543.51 33.59 L543.61 33.64 L543.72 33.68 L543.83 33.73 L543.93 33.77 L544.04 33.81 L544.14 33.86 L544.25 33.91 L544.35 33.95 L544.46 34.00 L544.56 34.05 L544.67 34.10 L544.77 34.14 L544.88 34.19 L544.99 34.24 L545.09 34.29 L545.20 34.34 L545.30 34.40 L545.41 34.45 L545.51 34.50 L545.62 34.55 L545.72 34.60 L545.83 34.66 L545.93 34.71 L546.04 34.77 L546.15 34.82 L546.25 34.88 L546.36 34.93 L546.46 34.99 L546.57 35.04 L546.67 35.10 L546.78 35.16 L546.88 35.21 L546.99 35.27 L547.09 35.33 L547.20 35.39 L547.30 35.45 L547.41 35.51 L547.52 35.57 L547.62 35.63 L547.73 35.69 L547.83 35.75 L547.94 35.81 L548.04 35.87 L548.15 35.93 L548.25 36.00 L548.36 36.06 L548.46 36.12 L548.57 36.18 L548.68 36.25 L548.78 36.31 L548.89 36.37 L548.99 36.44 L549.10 36.50 L549.20 36.57 L549.31 36.63 L549.41 36.70 L549.52 36.76 L549.62 36.83 L549.73 36.89 L549.84 36.96 L549.94 37.03 L550.05 37.09 L550.15 37.16 L550.26 37.23 L550.36 37.30 L550.47 37.36 L550.57 37.43 L550.68 37.50 L550.78 37.57 L550.89 37.64 L551.00 37.70 L551.10 37.77 L551.21 37.84 L551.31 37.91 L551.42 37.98 L551.52 38.05 L551.63 38.12 L551.73 38.19 L551.84 38.26 L551.94 38.33 L552.05 38.40 L552.15 38.47 L552.26 38.54 L552.37 38.61 L552.47 38.68 L552.58 38.75 L552.68 38.82 L552.79 38.89 L552.89 38.96 L553.00 39.03 L553.10 39.11 L553.21 39.18 L553.31 39.25 L553.42 39.32 L553.53 39.39 L553.63 39.46 L553.74 39.54 L553.84 39.61 L553.95 39.68 L554.05 39.75 L554.16 39.82 L554.26 39.89 L554.37 39.97 L554.47 40.04 L554.58 40.11 L554.69 40.18 L554.79 40.25 L554.90 40.33 L555.00 40.40 L555.11 40.47 L555.21 40.54 L555.32 40.62 L555.42 40.69 L555.53 40.76 L555.63 40.83 L555.74 40.90 L555.85 40.98 L555.95 41.05 L556.06 41.12 L556.16 41.19 L556.27 41.26 L556.37 41.34 L556.48 41.41 L556.58 41.48 L556.69 41.55 L556.79 41.62 L556.90 41.70 L557.01 41.77 L557.11 41.84 L557.22 41.91 L557.32 41.98 L557.43 42.05 L557.53 42.12 L557.64 42.20 L557.74 42.27 L557.85 42.34 L557.95 42.41 L558.06 42.48 L558.16 42.55 L558.27 42.62 L558.38 42.69 L558.48 42.76 L558.59 42.83 L558.69 42.90 L558.80 42.97 L558.90 43.04 L559.01 43.11 L559.11 43.18 L559.22 43.25 L559.32 43.32 L559.43 43.39 L559.54 43.46 L559.64 43.53 L559.75 43.60 L559.85 43.67 L559.96 43.74 L560.06 43.81 L560.17 43.88 L560.27 43.94 L560.38 44.01 L560.48 44.08 L560.59 44.15 L560.70 44.22 L560.80 44.28 L560.91 44.35 L561.01 44.42 L561.12 44.49 L561.22 44.55 L561.33 44.62 L561.43 44.69 L561.54 44.75 L561.64 44.82 L561.75 44.88 L561.86 44.95 L561.96 45.02 L562.07 45.08 L562.17 45.15 L562.28 45.21 L562.38 45.28 L562.49 45.34 L562.59 45.41 L562.70 45.47 L562.80 45.53 L562.91 45.60 L563.01 45.66 L563.12 45.73 L563.23 45.79 L563.33 45.85 L563.44 45.92 L563.54 45.98 L563.65 46.04 L563.75 46.10 L563.86 46.17 L563.96 46.23 L564.07 46.29 L564.17 46.35 L564.28 46.41 L564.39 46.47 L564.49 46.53 L564.60 46.59 L564.70 46.65 L564.81 46.71 L564.91 46.77 L565.02 46.83 L565.12 46.89 L565.23 46.95 L565.33 47.01 L565.44 47.07 L565.55 47.13 L565.65 47.19 L565.76 47.24 L565.86 47.30 L565.97 47.36 L566.07 47.42 L566.18 47.47 L566.28 47.53 L566.39 47.59 L566.49 47.64 L566.60 47.70 L566.71 47.75 L566.81 47.81 L566.92 47.87 L567.02 47.92 L567.13 47.98 L567.23 48.03 L567.34 48.08 L567.44 48.14 L567.55 48.19 L567.65 48.25 L567.76 48.30 L567.86 48.35 L567.97 48.40 L568.08 48.46 L568.18 48.51 L568.29 48.56 L568.39 48.61 L568.50 48.66 L568.60 48.72 L568.71 48.77 L568.81 48.82 L568.92 48.87 L569.02 48.92 L569.13 48.97 L569.24 49.02 L569.34 49.07 L569.45 49.12 L569.55 49.17 L569.66 49.21 L569.76 49.26 L569.87 49.31 L569.97 49.36 L570.08 49.41 L570.18 49.45 L570.29 49.50 L570.40 49.55 L570.50 49.59 L570.61 49.64 L570.71 49.69 L570.82 49.73 L570.92 49.78 L571.03 49.82 L571.13 49.87 L571.24 49.91 L571.34 49.96 L571.45 50.00 L571.56 50.05 L571.66 50.09 L571.77 50.13 L571.87 50.18 L571.98 50.22 L572.08 50.26 L572.19 50.31 L572.29 50.35 L572.40 50.39 L572.50 50.43 L572.61 50.47 L572.72 50.52 L572.82 50.56 L572.93 50.60 L573.03 50.64 L573.14 50.68 L573.24 50.72 L573.35 50.76 L573.45 50.80 L573.56 50.84 L573.66 50.88 L573.77 50.91 L573.87 50.95 L573.98 50.99 L574.09 51.03 L574.19 51.07 L574.30 51.10 L574.40 51.14 L574.51 51.18 L574.61 51.22 L574.72 51.25 L574.82 51.29 L574.93 51.32 L575.03 51.36 L575.14 51.40 L575.25 51.43 L575.35 51.47 L575.46 51.50 L575.56 51.54 L575.67 51.57 L575.77 51.60 L575.88 51.64 L575.98 51.67 L576.09 51.70 L576.19 51.74 L576.30 51.77 L576.41 51.80 L576.51 51.84 L576.62 51.87 L576.72 51.90 L576.83 51.93 L576.93 51.96 L577.04 52.00 L577.14 52.03 L577.25 52.06 L577.35 52.09 L577.46 52.12 L577.57 52.15 L577.67 52.18 L577.78 52.21 L577.88 52.24 L577.99 52.27 L578.09 52.30 L578.20 52.33 L578.30 52.35 L578.41 52.38 L578.51 52.41 L578.62 52.44 L578.72 52.47 L578.83 52.49 L578.94 52.52 L579.04 52.55 L579.15 52.58 L579.25 52.60 L579.36 52.63 L579.46 52.66 L579.57 52.68 L579.67 52.71 L579.78 52.73 L579.88 52.76 L579.99 52.78 L580.10 52.81 L580.20 52.83 L580.31 52.86 L580.41 52.88 L580.52 52.91 L580.62 52.93 L580.73 52.96 L580.83 52.98 L580.94 53.00 L581.04 53.03 L581.15 53.05 L581.26 53.07 L581.36 53.10 L581.47 53.12 L581.57 53.14 L581.68 53.16 L581.78 53.19 L581.89 53.21 L581.99 53.23 L582.10 53.25 L582.20 53.27 L582.31 53.29 L582.42 53.31 L582.52 53.33 L582.63 53.35 L582.73 53.38 L582.84 53.40 L582.94 53.42 L583.05 53.44 L583.15 53.46 L583.26 53.47 L583.36 53.49 L583.47 53.51 L583.57 53.53 L583.68 53.55 L583.79 53.57 L583.89 53.59 L584.00 53.61 L584.10 53.63 L584.21 53.64 L584.31 53.66 L584.42 53.68 L584.52 53.70 L584.63 53.71 L584.73 53.73 L584.84 53.75 L584.95 53.77 L585.05 53.78 L585.16 53.80 L585.26 53.81 L585.37 53.83 L585.47 53.85 L585.58 53.86 L585.68 53.88 L585.79 53.90 L585.89 53.91 L586.00 53.93" fill="none" stroke="#444" stroke-width="0.8" stroke-dasharray="1.2 1.8"/>
<path d="M512.30 55.30 L512.41 55.14 L512.51 54.97 L512.62 54.81 L512.72 54.65 L512.83 54.49 L512.93 54.33 L513.04 54.16 L513.14 54.00 L513.25 53.84 L513.35 53.68 L513.46 53.51 L513.57 53.35 L513.67 53.19 L513.78 53.03 L513.88 52.87 L513.99 52.71 L514.09 52.54 L514.20 52.38 L514.30 52.22 L514.41 52.06 L514.51 51.90 L514.62 51.74 L514.73 51.58 L514.83 51.42 L514.94 51.26 L515.04 51.10 L515.15 50.95 L515.25 50.79 L515.36 50.63 L515.46 50.47 L515.57 50.32 L515.67 50.16 L515.78 50.00 L515.88 49.85 L515.99 49.69 L516.10 49.54 L516.20 49.38 L516.31 49.23 L516.41 49.08 L516.52 48.93 L516.62 48.78 L516.73 48.63 L516.83 48.48 L516.94 48.33 L517.04 48.18 L517.15 48.04 L517.26 47.89 L517.36 47.75 L517.47 47.60 L517.57 47.46 L517.68 47.32 L517.78 47.18 L517.89 47.05 L517.99 46.91 L518.10 46.77 L518.20 46.64 L518.31 46.51 L518.42 46.38 L518.52 46.25 L518.63 46.12 L518.73 46.00 L518.84 45.88 L518.94 45.76 L519.05 45.64 L519.15 45.52 L519.26 45.41 L519.36 45.30 L519.47 45.19 L519.58 45.08 L519.68 44.98 L519.79 44.87 L519.89 44.78 L520.00 44.68 L520.10 44.59 L520.21 44.50 L520.31 44.41 L520.42 44.33 L520.52 44.25 L520.63 44.17 L520.73 44.10 L520.84 44.03 L520.95 43.96 L521.05 43.90 L521.16 43.84 L521.26 43.79 L521.37 43.74 L521.47 43.70 L521.58 43.65 L521.68 43.62 L521.79 43.59 L521.89 43.56 L522.00 43.54 L522.11 43.52 L522.21 43.51 L522.32 43.50 L522.42 43.50 L522.53 43.50 L522.63 43.51 L522.74 43.52 L522.84 43.54 L522.95 43.57 L523.05 43.60 L523.16 43.64 L523.27 43.68 L523.37 43.73 L523.48 43.79 L523.58 43.85 L523.69 43.92 L523.79 44.00 L523.90 44.08 L524.00 44.17 L524.11 44.27 L524.21 44.37 L524.32 44.48 L524.43 44.60 L524.53 44.72 L524.64 44.85 L524.74 44.99 L524.85 45.14 L524.95 45.29 L525.06 45.45 L525.16 45.62 L525.27 45.80 L525.37 45.98 L525.48 46.17 L525.58 46.37 L525.69 46.58 L525.80 46.79 L525.90 47.02 L526.01 47.25 L526.11 47.49 L526.22 47.73 L526.32 47.99 L526.43 48.25 L526.53 48.52 L526.64 48.80 L526.74 49.08 L526.85 49.38 L526.96 49.68 L527.06 49.99 L527.17 50.30 L527.27 50.63 L527.38 50.96 L527.48 51.29 L527.59 51.64 L527.69 51.99 L527.80 52.35 L527.90 52.72 L528.01 53.09 L528.12 53.47 L528.22 53.86 L528.33 54.25 L528.43 54.65 L528.54 55.06 L528.64 55.13 L528.75 54.72 L528.85 54.29 L528.96 53.87 L529.06 53.43 L529.17 53.00 L529.28 52.56 L529.38 52.11 L529.49 51.66 L529.59 51.21 L529.70 50.75 L529.80 50.29 L529.91 49.83 L530.01 49.36 L530.12 48.90 L530.22 48.43 L530.33 47.96 L530.44 47.49 L530.54 47.02 L530.65 46.54 L530.75 46.07 L530.86 45.60 L530.96 45.13 L531.07 44.66 L531.17 44.19 L531.28 43.72 L531.38 43.26 L531.49 42.80 L531.59 42.34 L531.70 41.89 L531.81 41.44 L531.91 41.00 L532.02 40.56 L532.12 40.13 L532.23 39.70 L532.33 39.28 L532.44 38.87 L532.54 38.46 L532.65 38.06 L532.75 37.68 L532.86 37.30 L532.97 36.93 L533.07 36.57 L533.18 36.22 L533.28 35.88 L533.39 35.56 L533.49 35.24 L533.60 34.94 L533.70 34.66 L533.81 34.38 L533.91 34.12 L534.02 33.88 L534.13 33.65 L534.23 33.43 L534.34 33.23 L534.44 33.05 L534.55 32.89 L534.65 32.74 L534.76 32.61 L534.86 32.50 L534.97 32.40 L535.07 32.33 L535.18 32.27 L535.29 32.23 L535.39 32.22 L535.50 32.22 L535.60 32.24 L535.71 32.29 L535.81 32.35 L535.92 32.44 L536.02 32.54 L536.13 32.67 L536.23 32.82 L536.34 32.99 L536.44 33.19 L536.55 33.40 L536.66 33.64 L536.76 33.90 L536.87 34.18 L536.97 34.49 L537.08 34.81 L537.18 35.16 L537.29 35.53 L537.39 35.92 L537.50 36.33 L537.60 36.76 L537.71 37.21 L537.82 37.68 L537.92 38.18 L538.03 38.69 L538.13 39.22 L538.24 39.78 L538.34 40.35 L538.45 40.94 L538.55 41.54 L538.66 42.17 L538.76 42.81 L538.87 43.46 L538.98 44.13 L539.08 44.82 L539.19 45.52 L539.29 46.23 L539.40 46.95 L539.50 47.69 L539.61 48.44 L539.71 49.19 L539.82 49.96 L539.92 50.73 L540.03 51.52 L540.14 52.30 L540.24 53.09 L540.35 53.89 L540.45 54.69 L540.56 55.11 L540.66 54.31 L540.77 53.50 L540.87 52.70 L540.98 51.90 L541.08 51.11 L541.19 50.32 L541.29 49.53 L541.40 48.75 L541.51 47.98 L541.61 47.22 L541.72 46.47 L541.82 45.74 L541.93 45.01 L542.03 44.30 L542.14 43.60 L542.24 42.92 L542.35 42.26 L542.45 41.61 L542.56 40.99 L542.67 40.38 L542.77 39.80 L542.88 39.24 L542.98 38.71 L543.09 38.19 L543.19 37.71 L543.30 37.25 L543.40 36.82 L543.51 36.42 L543.61 36.04 L543.72 35.70 L543.83 35.39 L543.93 35.11 L544.04 34.86 L544.14 34.64 L544.25 34.46 L544.35 34.31 L544.46 34.20 L544.56 34.12 L544.67 34.07 L544.77 34.06 L544.88 34.09 L544.99 34.15 L545.09 34.25 L545.20 34.38 L545.30 34.55 L545.41 34.75 L545.51 34.99 L545.62 35.26 L545.72 35.57 L545.83 35.91 L545.93 36.28 L546.04 36.69 L546.15 37.13 L546.25 37.61 L546.36 38.11 L546.46 38.64 L546.57 39.21 L546.67 39.80 L546.78 40.42 L546.88 41.06 L546.99 41.73 L547.09 42.43 L547.20 43.15 L547.30 43.88 L547.41 44.64 L547.52 45.42 L547.62 46.21 L547.73 47.02 L547.83 47.84 L547.94 48.68 L548.04 49.52 L548.15 50.37 L548.25 51.23 L548.36 52.10 L548.46 52.97 L548.57 53.84 L548.68 54.71 L548.78 55.02 L548.89 54.16 L548.99 53.30 L549.10 52.45 L549.20 51.60 L549.31 50.77 L549.41 49.96 L549.52 49.15 L549.62 48.37 L549.73 47.60 L549.84 46.85 L549.94 46.13 L550.05 45.43 L550.15 44.75 L550.26 44.10 L550.36 43.48 L550.47 42.89 L550.57 42.33 L550.68 41.80 L550.78 41.31 L550.89 40.85 L551.00 40.43 L551.10 40.05 L551.21 39.70 L551.31 39.39 L551.42 39.12 L551.52 38.89 L551.63 38.71 L551.73 38.56 L551.84 38.45 L551.94 38.39 L552.05 38.37 L552.15 38.39 L552.26 38.46 L552.37 38.56 L552.47 38.71 L552.58 38.90 L552.68 39.13 L552.79 39.39 L552.89 39.70 L553.00 40.05 L553.10 40.43 L553.21 40.85 L553.31 41.31 L553.42 41.80 L553.53 42.32 L553.63 42.88 L553.74 43.46 L553.84 44.07 L553.95 44.71 L554.05 45.37 L554.16 46.06 L554.26 46.76 L554.37 47.49 L554.47 48.23 L554.58 48.98 L554.69 49.75 L554.79 50.53 L554.90 51.32 L555.00 52.11 L555.11 52.91 L555.21 53.70 L555.32 54.50 L555.42 55.29 L555.53 54.52 L555.63 53.74 L555.74 52.98 L555.85 52.22 L555.95 51.48 L556.06 50.76 L556.16 50.05 L556.27 49.37 L556.37 48.71 L556.48 48.08 L556.58 47.47 L556.69 46.89 L556.79 46.35 L556.90 45.83 L557.01 45.35 L557.11 44.90 L557.22 44.49 L557.32 44.12 L557.43 43.79 L557.53 43.49 L557.64 43.24 L557.74 43.03 L557.85 42.86 L557.95 42.73 L558.06 42.64 L558.16 42.59 L558.27 42.59 L558.38 42.63 L558.48 42.71 L558.59 42.83 L558.69 43.00 L558.80 43.20 L558.90 43.44 L559.01 43.72 L559.11 44.04 L559.22 44.39 L559.32 44.78 L559.43 45.20 L559.54 45.65 L559.64 46.14 L559.75 46.64 L559.85 47.18 L559.96 47.74 L560.06 48.32 L560.17 48.92 L560.27 49.53 L560.38 50.16 L560.48 50.80 L560.59 51.46 L560.70 52.12 L560.80 52.78 L560.91 53.45 L561.01 54.12 L561.12 54.79 L561.22 55.15 L561.33 54.50 L561.43 53.85 L561.54 53.22 L561.64 52.60 L561.75 52.00 L561.86 51.42 L561.96 50.86 L562.07 50.32 L562.17 49.81 L562.28 49.33 L562.38 48.87 L562.49 48.44 L562.59 48.05 L562.70 47.68 L562.80 47.35 L562.91 47.06 L563.01 46.81 L563.12 46.59 L563.23 46.40 L563.33 46.26 L563.44 46.16 L563.54 46.09 L563.65 46.06 L563.75 46.07 L563.86 46.12 L563.96 46.21 L564.07 46.33 L564.17 46.49 L564.28 46.68 L564.39 46.91 L564.49 47.17 L564.60 47.47 L564.70 47.79 L564.81 48.14 L564.91 48.52 L565.02 48.92 L565.12 49.35 L565.23 49.80 L565.33 50.26 L565.44 50.75 L565.55 51.24 L565.65 51.75 L565.76 52.27 L565.86 52.80 L565.97 53.33 L566.07 53.86 L566.18 54.39 L566.28 54.92 L566.39 55.16 L566.49 54.64 L566.60 54.13 L566.71 53.63 L566.81 53.15 L566.92 52.69 L567.02 52.24 L567.13 51.81 L567.23 51.40 L567.34 51.02 L567.44 50.67 L567.55 50.34 L567.65 50.03 L567.76 49.76 L567.86 49.52 L567.97 49.31 L568.08 49.13 L568.18 48.98 L568.29 48.87 L568.39 48.78 L568.50 48.74 L568.60 48.72 L568.71 48.74 L568.81 48.79 L568.92 48.87 L569.02 48.98 L569.13 49.13 L569.24 49.30 L569.34 49.50 L569.45 49.73 L569.55 49.98 L569.66 50.26 L569.76 50.56 L569.87 50.87 L569.97 51.21 L570.08 51.57 L570.18 51.93 L570.29 52.31 L570.40 52.71 L570.50 53.10 L570.61 53.51 L570.71 53.92 L570.82 54.33 L570.92 54.74 L571.03 55.14 L571.13 55.06 L571.24 54.66 L571.34 54.28 L571.45 53.90 L571.56 53.54 L571.66 53.20 L571.77 52.87 L571.87 52.56 L571.98 52.27 L572.08 52.00 L572.19 51.75 L572.29 51.53 L572.40 51.33 L572.50 51.16 L572.61 51.01 L572.72 50.89 L572.82 50.80 L572.93 50.73 L573.03 50.69 L573.14 50.68 L573.24 50.70 L573.35 50.74 L573.45 50.81 L573.56 50.90 L573.66 51.02 L573.77 51.16 L573.87 51.32 L573.98 51.50 L574.09 51.71 L574.19 51.93 L574.30 52.17 L574.40 52.42 L574.51 52.69 L574.61 52.97 L574.72 53.25 L574.82 53.55 L574.93 53.85 L575.03 54.16 L575.14 54.46 L575.25 54.77 L575.35 55.08 L575.46 55.22 L575.56 54.92 L575.67 54.63 L575.77 54.35 L575.88 54.08 L575.98 53.82 L576.09 53.58 L576.19 53.35 L576.30 53.14 L576.41 52.94 L576.51 52.77 L576.62 52.61 L576.72 52.47 L576.83 52.35 L576.93 52.26 L577.04 52.18 L577.14 52.13 L577.25 52.10 L577.35 52.09 L577.46 52.10 L577.57 52.14 L577.67 52.19 L577.78 52.26 L577.88 52.36 L577.99 52.47 L578.09 52.60 L578.20 52.74 L578.30 52.90 L578.41 53.07 L578.51 53.25 L578.62 53.45 L578.72 53.65 L578.83 53.87 L578.94 54.08 L579.04 54.31 L579.15 54.53 L579.25 54.76 L579.36 54.99 L579.46 55.21 L579.57 55.17 L579.67 54.95 L579.78 54.74 L579.88 54.54 L579.99 54.35 L580.10 54.16 L580.20 53.99 L580.31 53.83 L580.41 53.69 L580.52 53.56 L580.62 53.44 L580.73 53.34 L580.83 53.26 L580.94 53.19 L581.04 53.14 L581.15 53.11 L581.26 53.09 L581.36 53.09 L581.47 53.11 L581.57 53.14 L581.68 53.19 L581.78 53.25 L581.89 53.33 L581.99 53.42 L582.10 53.52 L582.20 53.64 L582.31 53.76 L582.42 53.90 L582.52 54.04 L582.63 54.19 L582.73 54.35 L582.84 54.51 L582.94 54.67 L583.05 54.83 L583.15 55.00 L583.26 55.16 L583.36 55.28 L583.47 55.12 L583.57 54.96 L583.68 54.81 L583.79 54.67 L583.89 54.54 L584.00 54.41 L584.10 54.30 L584.21 54.19 L584.31 54.10 L584.42 54.02 L584.52 53.95 L584.63 53.89 L584.73 53.84 L584.84 53.81 L584.95 53.79 L585.05 53.79 L585.16 53.79 L585.26 53.81 L585.37 53.84 L585.47 53.88 L585.58 53.94 L585.68 54.00 L585.79 54.07 L585.89 54.15 L586.00 54.24" fill="none" stroke="#5d5fff" stroke-width="0.95" />
<line x1="512.3" y1="32.1" x2="512.3" y2="55.3" stroke="#333" stroke-width="0.9" />
<line x1="512.3" y1="55.3" x2="586" y2="55.3" stroke="#333" stroke-width="0.9" />
<line x1="512.3" y1="55.3" x2="512.3" y2="53.8" stroke="#333" stroke-width="0.6" />
<line x1="540.5" y1="55.3" x2="540.5" y2="53.8" stroke="#333" stroke-width="0.6" />
<line x1="568.7" y1="55.3" x2="568.7" y2="53.8" stroke="#333" stroke-width="0.6" />
<path d="M514.30 99.00 L514.54 98.76 L514.78 98.53 L515.02 98.29 L515.26 98.05 L515.50 97.81 L515.74 97.57 L515.98 97.33 L516.22 97.09 L516.46 96.85 L516.70 96.61 L516.95 96.36 L517.19 96.12 L517.43 95.88 L517.67 95.63 L517.91 95.38 L518.15 95.13 L518.39 94.89 L518.63 94.64 L518.87 94.39 L519.11 94.14 L519.35 93.88 L519.59 93.63 L519.83 93.38 L520.07 93.12 L520.31 92.87 L520.55 92.61 L520.79 92.34 L521.03 92.08 L521.27 91.81 L521.51 91.54 L521.75 91.27 L521.99 91.00 L522.24 90.72 L522.48 90.45 L522.72 90.17 L522.96 89.90 L523.20 89.63 L523.44 89.35 L523.68 89.08 L523.92 88.81 L524.16 88.54 L524.40 88.28 L524.64 88.02 L524.88 87.76 L525.12 87.50 L525.36 87.25 L525.60 87.00 L525.84 86.76 L526.08 86.52 L526.32 86.28 L526.56 86.04 L526.80 85.80 L527.04 85.57 L527.29 85.33 L527.53 85.09 L527.77 84.86 L528.01 84.63 L528.25 84.39 L528.49 84.16 L528.73 83.94 L528.97 83.71 L529.21 83.49 L529.45 83.27 L529.69 83.06 L529.93 82.84 L530.17 82.64 L530.41 82.43 L530.65 82.23 L530.89 82.04 L531.13 81.84 L531.37 81.66 L531.61 81.48 L531.85 81.30 L532.09 81.13 L532.34 80.96 L532.58 80.80 L532.82 80.63 L533.06 80.46 L533.30 80.30 L533.54 80.13 L533.78 79.97 L534.02 79.81 L534.26 79.66 L534.50 79.51 L534.74 79.36 L534.98 79.22 L535.22 79.09 L535.46 78.96 L535.70 78.83 L535.94 78.72 L536.18 78.61 L536.42 78.51 L536.66 78.42 L536.90 78.33 L537.14 78.25 L537.38 78.18 L537.63 78.10 L537.87 78.03 L538.11 77.95 L538.35 77.88 L538.59 77.81 L538.83 77.74 L539.07 77.67 L539.31 77.61 L539.55 77.55 L539.79 77.49 L540.03 77.44 L540.27 77.39 L540.51 77.35 L540.75 77.31 L540.99 77.27 L541.23 77.25 L541.47 77.22 L541.71 77.21 L541.95 77.20 L542.19 77.20 L542.43 77.20 L542.68 77.21 L542.92 77.22 L543.16 77.23 L543.40 77.24 L543.64 77.26 L543.88 77.27 L544.12 77.29 L544.36 77.32 L544.60 77.34 L544.84 77.36 L545.08 77.39 L545.32 77.42 L545.56 77.45 L545.80 77.48 L546.04 77.51 L546.28 77.55 L546.52 77.58 L546.76 77.61 L547.00 77.65 L547.24 77.69 L547.48 77.72 L547.73 77.76 L547.97 77.79 L548.21 77.83 L548.45 77.88 L548.69 77.92 L548.93 77.97 L549.17 78.03 L549.41 78.09 L549.65 78.15 L549.89 78.22 L550.13 78.29 L550.37 78.36 L550.61 78.43 L550.85 78.51 L551.09 78.59 L551.33 78.67 L551.57 78.75 L551.81 78.83 L552.05 78.91 L552.29 79.00 L552.53 79.08 L552.77 79.17 L553.02 79.26 L553.26 79.34 L553.50 79.43 L553.74 79.51 L553.98 79.59 L554.22 79.68 L554.46 79.76 L554.70 79.85 L554.94 79.93 L555.18 80.02 L555.42 80.11 L555.66 80.20 L555.90 80.29 L556.14 80.39 L556.38 80.48 L556.62 80.58 L556.86 80.67 L557.10 80.77 L557.34 80.87 L557.58 80.97 L557.82 81.07 L558.07 81.17 L558.31 81.27 L558.55 81.37 L558.79 81.47 L559.03 81.58 L559.27 81.68 L559.51 81.79 L559.75 81.89 L559.99 82.00 L560.23 82.10 L560.47 82.21 L560.71 82.32 L560.95 82.43 L561.19 82.54 L561.43 82.65 L561.67 82.76 L561.91 82.88 L562.15 82.99 L562.39 83.11 L562.63 83.22 L562.87 83.34 L563.12 83.46 L563.36 83.58 L563.60 83.70 L563.84 83.82 L564.08 83.94 L564.32 84.06 L564.56 84.18 L564.80 84.30 L565.04 84.42 L565.28 84.54 L565.52 84.66 L565.76 84.78 L566.00 84.90 L566.24 85.02 L566.48 85.14 L566.72 85.26 L566.96 85.39 L567.20 85.51 L567.44 85.64 L567.68 85.76 L567.92 85.89 L568.16 86.01 L568.41 86.14 L568.65 86.26 L568.89 86.39 L569.13 86.52 L569.37 86.64 L569.61 86.77 L569.85 86.89 L570.09 87.02 L570.33 87.15 L570.57 87.27 L570.81 87.40 L571.05 87.52 L571.29 87.64 L571.53 87.76 L571.77 87.89 L572.01 88.01 L572.25 88.13 L572.49 88.25 L572.73 88.37 L572.97 88.49 L573.21 88.61 L573.46 88.74 L573.70 88.86 L573.94 88.98 L574.18 89.10 L574.42 89.22 L574.66 89.34 L574.90 89.46 L575.14 89.58 L575.38 89.70 L575.62 89.82 L575.86 89.94 L576.10 90.05 L576.34 90.17 L576.58 90.28 L576.82 90.39 L577.06 90.50 L577.30 90.60 L577.54 90.71 L577.78 90.81 L578.02 90.91 L578.26 91.01 L578.51 91.11 L578.75 91.20 L578.99 91.30 L579.23 91.40 L579.47 91.49 L579.71 91.59 L579.95 91.68 L580.19 91.77 L580.43 91.87 L580.67 91.96 L580.91 92.05 L581.15 92.14 L581.39 92.23 L581.63 92.32 L581.87 92.40 L582.11 92.49 L582.35 92.58 L582.59 92.66 L582.83 92.74 L583.07 92.83 L583.31 92.91 L583.55 92.99 L583.80 93.07 L584.04 93.15 L584.28 93.22 L584.52 93.30 L584.76 93.38 L585.00 93.45 L585.24 93.52 L585.48 93.59 L585.72 93.66 L585.96 93.73 L586.20 93.80" fill="none" stroke="#444" stroke-width="0.8" stroke-dasharray="1.2 1.8"/>
<path d="M514.30 97.90 L514.54 97.56 L514.78 97.22 L515.02 96.88 L515.26 96.54 L515.50 96.19 L515.74 95.85 L515.98 95.51 L516.22 95.16 L516.46 94.82 L516.70 94.47 L516.95 94.13 L517.19 93.78 L517.43 93.43 L517.67 93.08 L517.91 92.74 L518.15 92.38 L518.39 92.03 L518.63 91.67 L518.87 91.30 L519.11 90.93 L519.35 90.56 L519.59 90.19 L519.83 89.81 L520.07 89.44 L520.31 89.06 L520.55 88.69 L520.79 88.32 L521.03 87.96 L521.27 87.59 L521.51 87.24 L521.75 86.89 L521.99 86.54 L522.24 86.21 L522.48 85.88 L522.72 85.56 L522.96 85.25 L523.20 84.95 L523.44 84.66 L523.68 84.36 L523.92 84.06 L524.16 83.77 L524.40 83.48 L524.64 83.20 L524.88 82.91 L525.12 82.64 L525.36 82.36 L525.60 82.09 L525.84 81.83 L526.08 81.58 L526.32 81.33 L526.56 81.08 L526.80 80.85 L527.04 80.62 L527.29 80.40 L527.53 80.19 L527.77 79.99 L528.01 79.79 L528.25 79.61 L528.49 79.42 L528.73 79.24 L528.97 79.06 L529.21 78.89 L529.45 78.72 L529.69 78.56 L529.93 78.41 L530.17 78.28 L530.41 78.15 L530.65 78.04 L530.89 77.94 L531.13 77.85 L531.37 77.77 L531.61 77.69 L531.85 77.61 L532.09 77.53 L532.34 77.46 L532.58 77.39 L532.82 77.33 L533.06 77.28 L533.30 77.24 L533.54 77.22 L533.78 77.20 L534.02 77.20 L534.26 77.21 L534.50 77.23 L534.74 77.26 L534.98 77.29 L535.22 77.33 L535.46 77.38 L535.70 77.44 L535.94 77.49 L536.18 77.56 L536.42 77.63 L536.66 77.70 L536.90 77.77 L537.14 77.85 L537.38 77.96 L537.63 78.09 L537.87 78.24 L538.11 78.41 L538.35 78.61 L538.59 78.81 L538.83 79.03 L539.07 79.26 L539.31 79.50 L539.55 79.74 L539.79 79.99 L540.03 80.23 L540.27 80.49 L540.51 80.77 L540.75 81.07 L540.99 81.39 L541.23 81.72 L541.47 82.06 L541.71 82.42 L541.95 82.78 L542.19 83.15 L542.43 83.52 L542.68 83.89 L542.92 84.27 L543.16 84.64 L543.40 85.03 L543.64 85.43 L543.88 85.84 L544.12 86.25 L544.36 86.68 L544.60 87.10 L544.84 87.53 L545.08 87.96 L545.32 88.39 L545.56 88.82 L545.80 89.25 L546.04 89.67 L546.28 90.10 L546.52 90.54 L546.76 90.99 L547.00 91.44 L547.24 91.89 L547.48 92.33 L547.73 92.76 L547.97 93.17 L548.21 93.56 L548.45 93.92 L548.69 94.28 L548.93 94.66 L549.17 95.05 L549.41 95.43 L549.65 95.76 L549.89 96.03 L550.13 96.22 L550.37 96.30 L550.61 96.28 L550.85 96.21 L551.09 96.10 L551.33 95.96 L551.57 95.79 L551.81 95.60 L552.05 95.40 L552.29 95.18 L552.53 94.97 L552.77 94.71 L553.02 94.39 L553.26 94.01 L553.50 93.60 L553.74 93.17 L553.98 92.72 L554.22 92.27 L554.46 91.84 L554.70 91.44 L554.94 91.08 L555.18 90.76 L555.42 90.44 L555.66 90.13 L555.90 89.82 L556.14 89.52 L556.38 89.23 L556.62 88.95 L556.86 88.68 L557.10 88.42 L557.34 88.18 L557.58 87.95 L557.82 87.74 L558.07 87.55 L558.31 87.37 L558.55 87.18 L558.79 87.01 L559.03 86.85 L559.27 86.70 L559.51 86.58 L559.75 86.48 L559.99 86.40 L560.23 86.35 L560.47 86.29 L560.71 86.24 L560.95 86.20 L561.19 86.16 L561.43 86.13 L561.67 86.11 L561.91 86.10 L562.15 86.10 L562.39 86.12 L562.63 86.16 L562.87 86.20 L563.12 86.25 L563.36 86.32 L563.60 86.38 L563.84 86.45 L564.08 86.52 L564.32 86.61 L564.56 86.71 L564.80 86.82 L565.04 86.95 L565.28 87.09 L565.52 87.24 L565.76 87.40 L566.00 87.57 L566.24 87.74 L566.48 87.92 L566.72 88.09 L566.96 88.27 L567.20 88.46 L567.44 88.65 L567.68 88.87 L567.92 89.09 L568.16 89.32 L568.41 89.56 L568.65 89.80 L568.89 90.05 L569.13 90.30 L569.37 90.55 L569.61 90.80 L569.85 91.05 L570.09 91.29 L570.33 91.53 L570.57 91.79 L570.81 92.04 L571.05 92.30 L571.29 92.55 L571.53 92.81 L571.77 93.07 L572.01 93.32 L572.25 93.57 L572.49 93.81 L572.73 94.05 L572.97 94.28 L573.21 94.50 L573.46 94.72 L573.70 94.95 L573.94 95.17 L574.18 95.38 L574.42 95.60 L574.66 95.81 L574.90 96.01 L575.14 96.20 L575.38 96.38 L575.62 96.55 L575.86 96.71 L576.10 96.86 L576.34 97.01 L576.58 97.16 L576.82 97.32 L577.06 97.47 L577.30 97.62 L577.54 97.76 L577.78 97.89 L578.02 98.01 L578.26 98.11 L578.51 98.19 L578.75 98.25 L578.99 98.29 L579.23 98.30 L579.47 98.30 L579.71 98.28 L579.95 98.27 L580.19 98.25 L580.43 98.22 L580.67 98.19 L580.91 98.16 L581.15 98.12 L581.39 98.09 L581.63 98.05 L581.87 98.02 L582.11 97.98 L582.35 97.93 L582.59 97.87 L582.83 97.81 L583.07 97.75 L583.31 97.69 L583.55 97.64 L583.80 97.61 L584.04 97.60 L584.28 97.60 L584.52 97.61 L584.76 97.63 L585.00 97.65 L585.24 97.68 L585.48 97.72 L585.72 97.77 L585.96 97.83 L586.20 97.90" fill="none" stroke="#5d5fff" stroke-width="0.95" />
<line x1="514.3" y1="76.5" x2="514.3" y2="99.3" stroke="#333" stroke-width="0.9" />
<line x1="514.3" y1="99.3" x2="586.2" y2="99.3" stroke="#333" stroke-width="0.9" />
<line x1="514.3" y1="99.3" x2="514.3" y2="97.8" stroke="#333" stroke-width="0.6" />
<line x1="543.05" y1="99.3" x2="543.05" y2="97.8" stroke="#333" stroke-width="0.6" />
<line x1="571.8" y1="99.3" x2="571.8" y2="97.8" stroke="#333" stroke-width="0.6" />
<text x="512.6" y="65.8" font-size="9.5" fill="#231f20" text-anchor="middle" >0</text>
<text x="541.2" y="65.8" font-size="9.5" fill="#231f20" text-anchor="middle" >1</text>
<text x="569.8" y="65.8" font-size="9.5" fill="#231f20" text-anchor="middle" >2</text>
<text x="514.3" y="110.1" font-size="9.5" fill="#231f20" text-anchor="middle" >0</text>
<text x="543.05" y="110.1" font-size="9.5" fill="#231f20" text-anchor="middle" >1</text>
<text x="571.8" y="110.1" font-size="9.5" fill="#231f20" text-anchor="middle" >2</text>
<line x1="517.66" y1="52.6" x2="525.54" y2="52.6" stroke="#231f20" stroke-width="0.8" />
<path d="M527.5 52.6 L524.7 53.9 L525.4 52.6 L524.7 51.3 Z" fill="#231f20" stroke="none" stroke-width="1" />
<path d="M515.7 52.6 L518.5 51.3 L517.8 52.6 L518.5 53.9 Z" fill="#231f20" stroke="none" stroke-width="1" />
<text x="515.6" y="60.6" font-size="9.2" fill="#000" textLength="12.6" lengthAdjust="spacingAndGlyphs" >Δω</text>
<text x="543.9" y="50.4" font-size="9.8" fill="#000" textLength="11.4" lengthAdjust="spacingAndGlyphs" >δω</text>
<line x1="541" y1="54" x2="557.4" y2="54" stroke="#9a9a9a" stroke-width="1.6" />
<line x1="544.5" y1="54" x2="547.26" y2="54" stroke="#231f20" stroke-width="0.6" />
<path d="M548.8 54 L546.6 55.1 L547.15 54 L546.6 52.9 Z" fill="#231f20" stroke="none" stroke-width="1" />
<line x1="554.5" y1="54" x2="552.14" y2="54" stroke="#231f20" stroke-width="0.6" />
<path d="M550.6 54 L552.8 52.9 L552.25 54 L552.8 55.1 Z" fill="#231f20" stroke="none" stroke-width="1" />
<line x1="523.74" y1="89.6" x2="542.66" y2="89.6" stroke="#444" stroke-width="0.8" />
<path d="M544.9 89.6 L541.7 91.1 L542.5 89.6 L541.7 88.1 Z" fill="#444" stroke="none" stroke-width="1" />
<path d="M521.5 89.6 L524.7 88.1 L523.9 89.6 L524.7 91.1 Z" fill="#444" stroke="none" stroke-width="1" />
<text x="527" y="87.5" font-size="8.4" fill="#231f20" textLength="12.4" lengthAdjust="spacingAndGlyphs" >Δω</text>
<text x="546.2" y="90.2" font-size="8.8" fill="#231f20" textLength="11" lengthAdjust="spacingAndGlyphs" >δω</text>
<line x1="541" y1="96.8" x2="546.74" y2="96.8" stroke="#444" stroke-width="0.8" />
<path d="M548.7 96.8 L545.9 98.1 L546.6 96.8 L545.9 95.5 Z" fill="#444" stroke="none" stroke-width="1" />
<line x1="562" y1="96.8" x2="557.16" y2="96.8" stroke="#444" stroke-width="0.8" />
<path d="M555.2 96.8 L558 95.5 L557.3 96.8 L558 98.1 Z" fill="#444" stroke="none" stroke-width="1" />
<text x="522" y="122.6" font-size="11.2" fill="#231f20" textLength="57.7" lengthAdjust="spacingAndGlyphs" >ω/2π [THz]</text>
<line x1="599.4" y1="38.9" x2="599.4" y2="45.8" stroke="#231f20" stroke-width="1.5" />
<path d="M599.4 52.8 L595.2 42.8 L599.4 45.8 L603.6 42.8 Z" fill="#231f20" stroke="none" stroke-width="1" />
<line x1="599.4" y1="97" x2="599.4" y2="90.1" stroke="#231f20" stroke-width="1.5" />
<path d="M599.4 83.1 L603.6 93.1 L599.4 90.1 L595.2 93.1 Z" fill="#231f20" stroke="none" stroke-width="1" />
<line x1="638.7" y1="38.9" x2="638.7" y2="45.8" stroke="#231f20" stroke-width="1.5" />
<path d="M638.7 52.8 L634.5 42.8 L638.7 45.8 L642.9 42.8 Z" fill="#231f20" stroke="none" stroke-width="1" />
<line x1="638.7" y1="97" x2="638.7" y2="90.1" stroke="#231f20" stroke-width="1.5" />
<path d="M638.7 83.1 L642.9 93.1 L638.7 90.1 L634.5 93.1 Z" fill="#231f20" stroke="none" stroke-width="1" />
<text x="607.4" y="48.4" font-size="10.8" fill="#231f20" textLength="16.1" lengthAdjust="spacingAndGlyphs" >Δω</text>
<text x="646.2" y="48.4" font-size="10.4" fill="#231f20" textLength="12.9" lengthAdjust="spacingAndGlyphs" >δω</text>
<text x="607.4" y="93.4" font-size="10.8" fill="#231f20" textLength="16.1" lengthAdjust="spacingAndGlyphs" >Δω</text>
<text x="646.2" y="92.2" font-size="10.4" fill="#231f20" textLength="12.9" lengthAdjust="spacingAndGlyphs" >δω</text>
<path d="M665.8 32.7 L670.2 32.7 L670.2 103.3 L665.8 103.3" fill="none" stroke="#231f20" stroke-width="1" />
<text x="0" y="0" font-size="11" fill="#231f20" text-anchor="middle" textLength="67" lengthAdjust="spacingAndGlyphs" transform="translate(677.0 67.3) rotate(90)">Chirp Penalty</text>
<text x="1.9" y="151" font-size="14.4" fill="#231f20" font-weight="bold" >C</text>
<line x1="38.4" y1="257.4" x2="38.4" y2="254.9" stroke="#404040" stroke-width="0.8" />
<line x1="38.4" y1="156.9" x2="38.4" y2="159.4" stroke="#404040" stroke-width="0.8" />
<text x="38.4" y="271" font-size="10.6" fill="#231f20" text-anchor="middle" >−20</text>
<line x1="77.58" y1="257.4" x2="77.58" y2="254.9" stroke="#404040" stroke-width="0.8" />
<line x1="77.58" y1="156.9" x2="77.58" y2="159.4" stroke="#404040" stroke-width="0.8" />
<text x="77.58" y="271" font-size="10.6" fill="#231f20" text-anchor="middle" >−15</text>
<line x1="116.75" y1="257.4" x2="116.75" y2="254.9" stroke="#404040" stroke-width="0.8" />
<line x1="116.75" y1="156.9" x2="116.75" y2="159.4" stroke="#404040" stroke-width="0.8" />
<text x="116.75" y="271" font-size="10.6" fill="#231f20" text-anchor="middle" >−10</text>
<line x1="155.93" y1="257.4" x2="155.93" y2="254.9" stroke="#404040" stroke-width="0.8" />
<line x1="155.93" y1="156.9" x2="155.93" y2="159.4" stroke="#404040" stroke-width="0.8" />
<text x="155.93" y="271" font-size="10.6" fill="#231f20" text-anchor="middle" >−5</text>
<line x1="195.1" y1="257.4" x2="195.1" y2="254.9" stroke="#404040" stroke-width="0.8" />
<line x1="195.1" y1="156.9" x2="195.1" y2="159.4" stroke="#404040" stroke-width="0.8" />
<text x="195.1" y="271" font-size="10.6" fill="#231f20" text-anchor="middle" >0</text>
<line x1="234.28" y1="257.4" x2="234.28" y2="254.9" stroke="#404040" stroke-width="0.8" />
<line x1="234.28" y1="156.9" x2="234.28" y2="159.4" stroke="#404040" stroke-width="0.8" />
<text x="234.28" y="271" font-size="10.6" fill="#231f20" text-anchor="middle" >5</text>
<line x1="273.45" y1="257.4" x2="273.45" y2="254.9" stroke="#404040" stroke-width="0.8" />
<line x1="273.45" y1="156.9" x2="273.45" y2="159.4" stroke="#404040" stroke-width="0.8" />
<text x="273.45" y="271" font-size="10.6" fill="#231f20" text-anchor="middle" >10</text>
<line x1="312.62" y1="257.4" x2="312.62" y2="254.9" stroke="#404040" stroke-width="0.8" />
<line x1="312.62" y1="156.9" x2="312.62" y2="159.4" stroke="#404040" stroke-width="0.8" />
<text x="312.62" y="271" font-size="10.6" fill="#231f20" text-anchor="middle" >15</text>
<line x1="351.8" y1="257.4" x2="351.8" y2="254.9" stroke="#404040" stroke-width="0.8" />
<line x1="351.8" y1="156.9" x2="351.8" y2="159.4" stroke="#404040" stroke-width="0.8" />
<text x="351.8" y="271" font-size="10.6" fill="#231f20" text-anchor="middle" >20</text>
<line x1="38.4" y1="248.8" x2="40.9" y2="248.8" stroke="#404040" stroke-width="0.8" />
<line x1="351.8" y1="248.8" x2="349.3" y2="248.8" stroke="#404040" stroke-width="0.8" />
<text x="33.4" y="252.4" font-size="10.4" fill="#231f20" text-anchor="end" >−1</text>
<line x1="38.4" y1="228" x2="40.9" y2="228" stroke="#404040" stroke-width="0.8" />
<line x1="351.8" y1="228" x2="349.3" y2="228" stroke="#404040" stroke-width="0.8" />
<text x="33.4" y="231.6" font-size="10.4" fill="#231f20" text-anchor="end" >−0.5</text>
<line x1="38.4" y1="207.2" x2="40.9" y2="207.2" stroke="#404040" stroke-width="0.8" />
<line x1="351.8" y1="207.2" x2="349.3" y2="207.2" stroke="#404040" stroke-width="0.8" />
<text x="33.4" y="210.8" font-size="10.4" fill="#231f20" text-anchor="end" >0</text>
<line x1="38.4" y1="186.4" x2="40.9" y2="186.4" stroke="#404040" stroke-width="0.8" />
<line x1="351.8" y1="186.4" x2="349.3" y2="186.4" stroke="#404040" stroke-width="0.8" />
<text x="33.4" y="190" font-size="10.4" fill="#231f20" text-anchor="end" >0.5</text>
<line x1="38.4" y1="165.6" x2="40.9" y2="165.6" stroke="#404040" stroke-width="0.8" />
<line x1="351.8" y1="165.6" x2="349.3" y2="165.6" stroke="#404040" stroke-width="0.8" />
<text x="33.4" y="169.2" font-size="10.4" fill="#231f20" text-anchor="end" >1</text>
<text x="0" y="0" font-size="11.4" fill="#231f20" text-anchor="middle" textLength="112.6" lengthAdjust="spacingAndGlyphs" transform="translate(10.6 210.8) rotate(-90)">THz signal [arb. units]</text>
<text x="167.3" y="286.4" font-size="11.2" fill="#231f20" textLength="37.2" lengthAdjust="spacingAndGlyphs" >Time/T</text>
<text x="205.9" y="290.9" font-size="8.2" fill="#231f20" textLength="13.9" lengthAdjust="spacingAndGlyphs" >THz</text>
<path d="M38.40 207.20 L38.75 207.23 L39.10 207.25 L39.45 207.27 L39.79 207.30 L40.14 207.32 L40.49 207.33 L40.84 207.35 L41.19 207.37 L41.54 207.38 L41.89 207.40 L42.23 207.41 L42.58 207.42 L42.93 207.43 L43.28 207.44 L43.63 207.45 L43.98 207.46 L44.33 207.46 L44.67 207.47 L45.02 207.48 L45.37 207.48 L45.72 207.48 L46.07 207.49 L46.42 207.49 L46.77 207.49 L47.12 207.50 L47.46 207.50 L47.81 207.50 L48.16 207.50 L48.51 207.50 L48.86 207.50 L49.21 207.50 L49.56 207.50 L49.90 207.50 L50.25 207.50 L50.60 207.49 L50.95 207.48 L51.30 207.46 L51.65 207.43 L52.00 207.41 L52.34 207.37 L52.69 207.34 L53.04 207.30 L53.39 207.26 L53.74 207.22 L54.09 207.17 L54.44 207.13 L54.78 207.08 L55.13 207.03 L55.48 206.99 L55.83 206.94 L56.18 206.89 L56.53 206.85 L56.88 206.81 L57.22 206.77 L57.57 206.73 L57.92 206.70 L58.27 206.67 L58.62 206.65 L58.97 206.63 L59.32 206.61 L59.67 206.60 L60.01 206.60 L60.36 206.60 L60.71 206.61 L61.06 206.61 L61.41 206.62 L61.76 206.63 L62.11 206.65 L62.45 206.66 L62.80 206.68 L63.15 206.70 L63.50 206.72 L63.85 206.74 L64.20 206.77 L64.55 206.79 L64.89 206.82 L65.24 206.84 L65.59 206.87 L65.94 206.90 L66.29 206.93 L66.64 206.95 L66.99 206.98 L67.33 207.01 L67.68 207.04 L68.03 207.06 L68.38 207.09 L68.73 207.12 L69.08 207.14 L69.43 207.16 L69.77 207.19 L70.12 207.21 L70.47 207.23 L70.82 207.25 L71.17 207.28 L71.52 207.30 L71.87 207.33 L72.22 207.36 L72.56 207.38 L72.91 207.41 L73.26 207.44 L73.61 207.47 L73.96 207.49 L74.31 207.52 L74.66 207.55 L75.00 207.58 L75.35 207.60 L75.70 207.63 L76.05 207.65 L76.40 207.67 L76.75 207.69 L77.10 207.71 L77.44 207.73 L77.79 207.75 L78.14 207.76 L78.49 207.77 L78.84 207.78 L79.19 207.79 L79.54 207.80 L79.88 207.80 L80.23 207.80 L80.58 207.80 L80.93 207.80 L81.28 207.80 L81.63 207.79 L81.98 207.79 L82.32 207.79 L82.67 207.78 L83.02 207.78 L83.37 207.77 L83.72 207.76 L84.07 207.76 L84.42 207.75 L84.77 207.74 L85.11 207.73 L85.46 207.73 L85.81 207.72 L86.16 207.71 L86.51 207.70 L86.86 207.69 L87.21 207.68 L87.55 207.67 L87.90 207.66 L88.25 207.65 L88.60 207.64 L88.95 207.63 L89.30 207.62 L89.65 207.61 L89.99 207.60 L90.34 207.59 L90.69 207.58 L91.04 207.56 L91.39 207.55 L91.74 207.53 L92.09 207.52 L92.43 207.50 L92.78 207.48 L93.13 207.46 L93.48 207.44 L93.83 207.42 L94.18 207.39 L94.53 207.37 L94.87 207.35 L95.22 207.33 L95.57 207.30 L95.92 207.28 L96.27 207.25 L96.62 207.23 L96.97 207.21 L97.32 207.18 L97.66 207.16 L98.01 207.13 L98.36 207.11 L98.71 207.08 L99.06 207.06 L99.41 207.04 L99.76 207.02 L100.10 206.99 L100.45 206.97 L100.80 206.95 L101.15 206.93 L101.50 206.90 L101.85 206.88 L102.20 206.86 L102.54 206.83 L102.89 206.81 L103.24 206.79 L103.59 206.76 L103.94 206.74 L104.29 206.72 L104.64 206.69 L104.98 206.67 L105.33 206.65 L105.68 206.62 L106.03 206.60 L106.38 206.57 L106.73 206.55 L107.08 206.53 L107.42 206.50 L107.77 206.48 L108.12 206.45 L108.47 206.43 L108.82 206.41 L109.17 206.38 L109.52 206.36 L109.86 206.34 L110.21 206.31 L110.56 206.29 L110.91 206.27 L111.26 206.25 L111.61 206.22 L111.96 206.20 L112.31 206.18 L112.65 206.16 L113.00 206.13 L113.35 206.11 L113.70 206.08 L114.05 206.06 L114.40 206.03 L114.75 206.00 L115.09 205.98 L115.44 205.95 L115.79 205.92 L116.14 205.89 L116.49 205.87 L116.84 205.84 L117.19 205.81 L117.53 205.78 L117.88 205.76 L118.23 205.73 L118.58 205.71 L118.93 205.69 L119.28 205.66 L119.63 205.64 L119.97 205.62 L120.32 205.60 L120.67 205.58 L121.02 205.57 L121.37 205.55 L121.72 205.54 L122.07 205.53 L122.41 205.52 L122.76 205.51 L123.11 205.50 L123.46 205.50 L123.81 205.50 L124.16 205.50 L124.51 205.52 L124.86 205.54 L125.20 205.57 L125.55 205.60 L125.90 205.65 L126.25 205.70 L126.60 205.75 L126.95 205.81 L127.30 205.87 L127.64 205.93 L127.99 206.00 L128.34 206.07 L128.69 206.14 L129.04 206.22 L129.39 206.29 L129.74 206.36 L130.08 206.44 L130.43 206.51 L130.78 206.58 L131.13 206.65 L131.48 206.71 L131.83 206.77 L132.18 206.83 L132.52 206.89 L132.87 206.96 L133.22 207.02 L133.57 207.09 L133.92 207.17 L134.27 207.24 L134.62 207.32 L134.96 207.40 L135.31 207.48 L135.66 207.55 L136.01 207.63 L136.36 207.70 L136.71 207.78 L137.06 207.85 L137.41 207.91 L137.75 207.98 L138.10 208.04 L138.45 208.09 L138.80 208.14 L139.15 208.18 L139.50 208.22 L139.85 208.25 L140.19 208.28 L140.54 208.29 L140.89 208.30 L141.24 208.30 L141.59 208.28 L141.94 208.26 L142.29 208.22 L142.63 208.18 L142.98 208.13 L143.33 208.06 L143.68 208.00 L144.03 207.92 L144.38 207.84 L144.73 207.75 L145.07 207.66 L145.42 207.57 L145.77 207.47 L146.12 207.37 L146.47 207.27 L146.82 207.16 L147.17 207.06 L147.51 206.96 L147.86 206.85 L148.21 206.75 L148.56 206.66 L148.91 206.56 L149.26 206.47 L149.61 206.39 L149.96 206.31 L150.30 206.23 L150.65 206.15 L151.00 206.06 L151.35 205.97 L151.70 205.87 L152.05 205.78 L152.40 205.68 L152.74 205.58 L153.09 205.48 L153.44 205.38 L153.79 205.29 L154.14 205.20 L154.49 205.11 L154.84 205.02 L155.18 204.94 L155.53 204.87 L155.88 204.80 L156.23 204.75 L156.58 204.70 L156.93 204.66 L157.28 204.63 L157.62 204.61 L157.97 204.60 L158.32 204.62 L158.67 204.67 L159.02 204.76 L159.37 204.88 L159.72 205.03 L160.06 205.20 L160.41 205.40 L160.76 205.61 L161.11 205.84 L161.46 206.09 L161.81 206.34 L162.16 206.59 L162.51 206.85 L162.85 207.11 L163.20 207.37 L163.55 207.62 L163.90 207.86 L164.25 208.08 L164.60 208.29 L164.95 208.48 L165.29 208.65 L165.64 208.79 L165.99 208.90 L166.34 208.98 L166.69 209.02 L167.04 209.06 L167.39 209.10 L167.73 209.13 L168.08 209.16 L168.43 209.18 L168.78 209.20 L169.13 209.22 L169.48 209.24 L169.83 209.26 L170.17 209.28 L170.52 209.29 L170.87 209.31 L171.22 209.32 L171.57 209.34 L171.92 209.36 L172.27 209.38 L172.61 209.40 L172.96 209.42 L173.31 209.45 L173.66 209.48 L174.01 209.52 L174.36 209.56 L174.71 209.60 L175.05 209.65 L175.40 209.72 L175.75 209.79 L176.10 209.88 L176.45 209.99 L176.80 210.11 L177.15 210.25 L177.50 210.41 L177.84 210.59 L178.19 210.80 L178.54 211.03 L178.89 211.43 L179.24 212.06 L179.59 212.86 L179.94 213.80 L180.28 214.84 L180.63 215.94 L180.98 217.37 L181.33 219.11 L181.68 221.08 L182.03 223.19 L182.38 225.37 L182.72 227.53 L183.07 229.57 L183.42 231.42 L183.77 233.10 L184.12 234.82 L184.47 236.54 L184.82 238.21 L185.16 239.81 L185.51 241.29 L185.86 242.62 L186.21 243.74 L186.56 244.64 L186.91 245.45 L187.26 246.24 L187.60 246.94 L187.95 247.52 L188.30 247.93 L188.65 248.10 L189.00 247.90 L189.35 247.22 L189.70 246.17 L190.05 244.88 L190.39 243.45 L190.74 241.78 L191.09 239.39 L191.44 236.44 L191.79 233.15 L192.14 229.72 L192.49 226.35 L192.83 223.13 L193.18 219.75 L193.53 216.22 L193.88 212.60 L194.23 208.95 L194.58 205.32 L194.93 201.75 L195.27 198.31 L195.62 195.04 L195.97 191.99 L196.32 188.99 L196.67 185.99 L197.02 183.06 L197.37 180.28 L197.71 177.70 L198.06 175.39 L198.41 173.43 L198.76 171.74 L199.11 170.03 L199.46 168.40 L199.81 166.97 L200.15 165.83 L200.50 165.11 L200.85 164.90 L201.20 165.04 L201.55 165.35 L201.90 165.81 L202.25 166.37 L202.60 166.99 L202.94 167.89 L203.29 169.21 L203.64 170.79 L203.99 172.47 L204.34 174.21 L204.69 176.23 L205.04 178.48 L205.38 180.87 L205.73 183.31 L206.08 185.72 L206.43 188.00 L206.78 190.08 L207.13 191.86 L207.48 193.30 L207.82 194.68 L208.17 196.03 L208.52 197.31 L208.87 198.50 L209.22 199.59 L209.57 200.55 L209.92 201.36 L210.26 201.98 L210.61 202.41 L210.96 202.73 L211.31 203.03 L211.66 203.29 L212.01 203.51 L212.36 203.67 L212.70 203.77 L213.05 203.80 L213.40 203.78 L213.75 203.73 L214.10 203.67 L214.45 203.60 L214.80 203.52 L215.15 203.45 L215.49 203.40 L215.84 203.36 L216.19 203.31 L216.54 203.26 L216.89 203.22 L217.24 203.17 L217.59 203.13 L217.93 203.09 L218.28 203.06 L218.63 203.03 L218.98 203.01 L219.33 203.00 L219.68 203.00 L220.03 203.02 L220.37 203.08 L220.72 203.15 L221.07 203.26 L221.42 203.39 L221.77 203.53 L222.12 203.70 L222.47 203.87 L222.81 204.07 L223.16 204.27 L223.51 204.48 L223.86 204.69 L224.21 204.91 L224.56 205.13 L224.91 205.35 L225.25 205.57 L225.60 205.78 L225.95 205.98 L226.30 206.16 L226.65 206.34 L227.00 206.50 L227.35 206.65 L227.69 206.82 L228.04 206.99 L228.39 207.17 L228.74 207.35 L229.09 207.53 L229.44 207.72 L229.79 207.90 L230.14 208.08 L230.48 208.26 L230.83 208.44 L231.18 208.61 L231.53 208.77 L231.88 208.92 L232.23 209.06 L232.58 209.18 L232.92 209.30 L233.27 209.39 L233.62 209.47 L233.97 209.54 L234.32 209.58 L234.67 209.60 L235.02 209.60 L235.36 209.59 L235.71 209.57 L236.06 209.54 L236.41 209.50 L236.76 209.46 L237.11 209.41 L237.46 209.35 L237.80 209.28 L238.15 209.21 L238.50 209.14 L238.85 209.06 L239.20 208.98 L239.55 208.89 L239.90 208.80 L240.24 208.71 L240.59 208.62 L240.94 208.52 L241.29 208.43 L241.64 208.33 L241.99 208.24 L242.34 208.14 L242.69 208.05 L243.03 207.96 L243.38 207.87 L243.73 207.78 L244.08 207.70 L244.43 207.62 L244.78 207.55 L245.13 207.47 L245.47 207.40 L245.82 207.33 L246.17 207.25 L246.52 207.17 L246.87 207.08 L247.22 207.00 L247.57 206.91 L247.91 206.82 L248.26 206.73 L248.61 206.64 L248.96 206.56 L249.31 206.47 L249.66 206.38 L250.01 206.30 L250.35 206.22 L250.70 206.14 L251.05 206.07 L251.40 206.00 L251.75 205.93 L252.10 205.87 L252.45 205.81 L252.79 205.76 L253.14 205.72 L253.49 205.68 L253.84 205.65 L254.19 205.62 L254.54 205.61 L254.89 205.60 L255.24 205.60 L255.58 205.61 L255.93 205.62 L256.28 205.64 L256.63 205.67 L256.98 205.70 L257.33 205.73 L257.68 205.77 L258.02 205.82 L258.37 205.86 L258.72 205.92 L259.07 205.97 L259.42 206.03 L259.77 206.08 L260.12 206.15 L260.46 206.21 L260.81 206.27 L261.16 206.34 L261.51 206.40 L261.86 206.47 L262.21 206.53 L262.56 206.59 L262.90 206.66 L263.25 206.72 L263.60 206.78 L263.95 206.84 L264.30 206.90 L264.65 206.95 L265.00 207.00 L265.34 207.05 L265.69 207.10 L266.04 207.16 L266.39 207.22 L266.74 207.28 L267.09 207.34 L267.44 207.40 L267.79 207.47 L268.13 207.53 L268.48 207.60 L268.83 207.66 L269.18 207.73 L269.53 207.79 L269.88 207.85 L270.23 207.91 L270.57 207.97 L270.92 208.03 L271.27 208.08 L271.62 208.13 L271.97 208.18 L272.32 208.23 L272.67 208.27 L273.01 208.30 L273.36 208.33 L273.71 208.36 L274.06 208.38 L274.41 208.39 L274.76 208.40 L275.11 208.40 L275.45 208.40 L275.80 208.39 L276.15 208.37 L276.50 208.36 L276.85 208.34 L277.20 208.31 L277.55 208.28 L277.89 208.25 L278.24 208.22 L278.59 208.18 L278.94 208.14 L279.29 208.10 L279.64 208.06 L279.99 208.01 L280.34 207.97 L280.68 207.92 L281.03 207.87 L281.38 207.82 L281.73 207.77 L282.08 207.72 L282.43 207.67 L282.78 207.62 L283.12 207.57 L283.47 207.52 L283.82 207.47 L284.17 207.42 L284.52 207.38 L284.87 207.33 L285.22 207.29 L285.56 207.25 L285.91 207.21 L286.26 207.17 L286.61 207.13 L286.96 207.09 L287.31 207.05 L287.66 207.01 L288.00 206.97 L288.35 206.92 L288.70 206.88 L289.05 206.83 L289.40 206.78 L289.75 206.74 L290.10 206.69 L290.44 206.64 L290.79 206.60 L291.14 206.55 L291.49 206.51 L291.84 206.46 L292.19 206.42 L292.54 206.38 L292.88 206.34 L293.23 206.30 L293.58 206.26 L293.93 206.23 L294.28 206.19 L294.63 206.16 L294.98 206.13 L295.33 206.10 L295.67 206.08 L296.02 206.06 L296.37 206.04 L296.72 206.03 L297.07 206.01 L297.42 206.01 L297.77 206.00 L298.11 206.00 L298.46 206.00 L298.81 206.01 L299.16 206.02 L299.51 206.03 L299.86 206.04 L300.21 206.06 L300.55 206.08 L300.90 206.10 L301.25 206.13 L301.60 206.15 L301.95 206.18 L302.30 206.21 L302.65 206.24 L302.99 206.27 L303.34 206.31 L303.69 206.34 L304.04 206.38 L304.39 206.42 L304.74 206.45 L305.09 206.49 L305.43 206.53 L305.78 206.57 L306.13 206.61 L306.48 206.65 L306.83 206.68 L307.18 206.72 L307.53 206.76 L307.88 206.80 L308.22 206.83 L308.57 206.87 L308.92 206.90 L309.27 206.94 L309.62 206.97 L309.97 207.00 L310.32 207.03 L310.66 207.06 L311.01 207.09 L311.36 207.12 L311.71 207.16 L312.06 207.20 L312.41 207.23 L312.76 207.27 L313.10 207.31 L313.45 207.35 L313.80 207.39 L314.15 207.42 L314.50 207.46 L314.85 207.50 L315.20 207.54 L315.54 207.58 L315.89 207.61 L316.24 207.65 L316.59 207.69 L316.94 207.72 L317.29 207.75 L317.64 207.78 L317.98 207.81 L318.33 207.84 L318.68 207.87 L319.03 207.89 L319.38 207.92 L319.73 207.94 L320.08 207.95 L320.43 207.97 L320.77 207.98 L321.12 207.99 L321.47 208.00 L321.82 208.00 L322.17 208.00 L322.52 208.00 L322.87 208.00 L323.21 207.99 L323.56 207.99 L323.91 207.99 L324.26 207.98 L324.61 207.97 L324.96 207.97 L325.31 207.96 L325.65 207.95 L326.00 207.94 L326.35 207.93 L326.70 207.92 L327.05 207.91 L327.40 207.90 L327.75 207.89 L328.09 207.88 L328.44 207.86 L328.79 207.85 L329.14 207.84 L329.49 207.82 L329.84 207.81 L330.19 207.80 L330.53 207.78 L330.88 207.77 L331.23 207.75 L331.58 207.74 L331.93 207.72 L332.28 207.70 L332.63 207.69 L332.98 207.67 L333.32 207.66 L333.67 207.64 L334.02 207.63 L334.37 207.61 L334.72 207.60 L335.07 207.58 L335.42 207.57 L335.76 207.55 L336.11 207.54 L336.46 207.52 L336.81 207.51 L337.16 207.49 L337.51 207.48 L337.86 207.47 L338.20 207.45 L338.55 207.44 L338.90 207.42 L339.25 207.41 L339.60 207.39 L339.95 207.38 L340.30 207.36 L340.64 207.35 L340.99 207.33 L341.34 207.32 L341.69 207.30 L342.04 207.29 L342.39 207.27 L342.74 207.26 L343.08 207.24 L343.43 207.22 L343.78 207.21 L344.13 207.19 L344.48 207.17 L344.83 207.16 L345.18 207.14 L345.53 207.12 L345.87 207.11 L346.22 207.09 L346.57 207.07 L346.92 207.05 L347.27 207.04 L347.62 207.02 L347.97 207.00 L348.31 206.98 L348.66 206.97 L349.01 206.95 L349.36 206.93 L349.71 206.91 L350.06 206.89 L350.41 206.87 L350.75 206.86 L351.10 206.84 L351.45 206.82 L351.80 206.80" fill="none" stroke="#76a640" stroke-width="2.2" stroke-linejoin="round"/>
<path d="M38.40 207.20 L38.75 207.23 L39.10 207.25 L39.45 207.27 L39.79 207.30 L40.14 207.32 L40.49 207.33 L40.84 207.35 L41.19 207.37 L41.54 207.38 L41.89 207.40 L42.23 207.41 L42.58 207.42 L42.93 207.43 L43.28 207.44 L43.63 207.45 L43.98 207.46 L44.33 207.46 L44.67 207.47 L45.02 207.48 L45.37 207.48 L45.72 207.48 L46.07 207.49 L46.42 207.49 L46.77 207.49 L47.12 207.50 L47.46 207.50 L47.81 207.50 L48.16 207.50 L48.51 207.50 L48.86 207.50 L49.21 207.50 L49.56 207.50 L49.90 207.50 L50.25 207.50 L50.60 207.49 L50.95 207.48 L51.30 207.46 L51.65 207.43 L52.00 207.41 L52.34 207.37 L52.69 207.34 L53.04 207.30 L53.39 207.26 L53.74 207.22 L54.09 207.17 L54.44 207.13 L54.78 207.08 L55.13 207.03 L55.48 206.99 L55.83 206.94 L56.18 206.89 L56.53 206.85 L56.88 206.81 L57.22 206.77 L57.57 206.73 L57.92 206.70 L58.27 206.67 L58.62 206.65 L58.97 206.63 L59.32 206.61 L59.67 206.60 L60.01 206.60 L60.36 206.60 L60.71 206.61 L61.06 206.61 L61.41 206.62 L61.76 206.63 L62.11 206.65 L62.45 206.66 L62.80 206.68 L63.15 206.70 L63.50 206.72 L63.85 206.74 L64.20 206.77 L64.55 206.79 L64.89 206.82 L65.24 206.84 L65.59 206.87 L65.94 206.90 L66.29 206.93 L66.64 206.95 L66.99 206.98 L67.33 207.01 L67.68 207.04 L68.03 207.06 L68.38 207.09 L68.73 207.12 L69.08 207.14 L69.43 207.16 L69.77 207.19 L70.12 207.21 L70.47 207.23 L70.82 207.25 L71.17 207.28 L71.52 207.30 L71.87 207.33 L72.22 207.36 L72.56 207.38 L72.91 207.41 L73.26 207.44 L73.61 207.47 L73.96 207.49 L74.31 207.52 L74.66 207.55 L75.00 207.58 L75.35 207.60 L75.70 207.63 L76.05 207.65 L76.40 207.67 L76.75 207.69 L77.10 207.71 L77.44 207.73 L77.79 207.75 L78.14 207.76 L78.49 207.77 L78.84 207.78 L79.19 207.79 L79.54 207.80 L79.88 207.80 L80.23 207.80 L80.58 207.80 L80.93 207.80 L81.28 207.80 L81.63 207.79 L81.98 207.79 L82.32 207.79 L82.67 207.78 L83.02 207.78 L83.37 207.77 L83.72 207.76 L84.07 207.76 L84.42 207.75 L84.77 207.74 L85.11 207.73 L85.46 207.73 L85.81 207.72 L86.16 207.71 L86.51 207.70 L86.86 207.69 L87.21 207.68 L87.55 207.67 L87.90 207.66 L88.25 207.65 L88.60 207.64 L88.95 207.63 L89.30 207.62 L89.65 207.61 L89.99 207.60 L90.34 207.59 L90.69 207.58 L91.04 207.56 L91.39 207.55 L91.74 207.53 L92.09 207.52 L92.43 207.50 L92.78 207.48 L93.13 207.46 L93.48 207.44 L93.83 207.42 L94.18 207.39 L94.53 207.37 L94.87 207.35 L95.22 207.33 L95.57 207.30 L95.92 207.28 L96.27 207.25 L96.62 207.23 L96.97 207.21 L97.32 207.18 L97.66 207.16 L98.01 207.13 L98.36 207.11 L98.71 207.08 L99.06 207.06 L99.41 207.04 L99.76 207.02 L100.10 206.99 L100.45 206.97 L100.80 206.95 L101.15 206.93 L101.50 206.90 L101.85 206.88 L102.20 206.86 L102.54 206.83 L102.89 206.81 L103.24 206.79 L103.59 206.76 L103.94 206.74 L104.29 206.72 L104.64 206.69 L104.98 206.67 L105.33 206.65 L105.68 206.62 L106.03 206.60 L106.38 206.57 L106.73 206.55 L107.08 206.53 L107.42 206.50 L107.77 206.48 L108.12 206.45 L108.47 206.43 L108.82 206.41 L109.17 206.38 L109.52 206.36 L109.86 206.34 L110.21 206.31 L110.56 206.29 L110.91 206.27 L111.26 206.25 L111.61 206.22 L111.96 206.20 L112.31 206.18 L112.65 206.16 L113.00 206.13 L113.35 206.11 L113.70 206.08 L114.05 206.06 L114.40 206.03 L114.75 206.00 L115.09 205.98 L115.44 205.95 L115.79 205.92 L116.14 205.89 L116.49 205.87 L116.84 205.84 L117.19 205.81 L117.53 205.78 L117.88 205.76 L118.23 205.73 L118.58 205.71 L118.93 205.69 L119.28 205.66 L119.63 205.64 L119.97 205.62 L120.32 205.60 L120.67 205.58 L121.02 205.57 L121.37 205.55 L121.72 205.54 L122.07 205.53 L122.41 205.52 L122.76 205.51 L123.11 205.50 L123.46 205.50 L123.81 205.50 L124.16 205.50 L124.51 205.52 L124.86 205.54 L125.20 205.57 L125.55 205.60 L125.90 205.65 L126.25 205.70 L126.60 205.75 L126.95 205.81 L127.30 205.87 L127.64 205.93 L127.99 206.00 L128.34 206.07 L128.69 206.14 L129.04 206.22 L129.39 206.29 L129.74 206.36 L130.08 206.44 L130.43 206.51 L130.78 206.58 L131.13 206.65 L131.48 206.71 L131.83 206.77 L132.18 206.83 L132.52 206.89 L132.87 206.96 L133.22 207.02 L133.57 207.09 L133.92 207.17 L134.27 207.24 L134.62 207.32 L134.96 207.40 L135.31 207.48 L135.66 207.55 L136.01 207.63 L136.36 207.70 L136.71 207.78 L137.06 207.85 L137.41 207.91 L137.75 207.98 L138.10 208.04 L138.45 208.09 L138.80 208.14 L139.15 208.18 L139.50 208.22 L139.85 208.25 L140.19 208.28 L140.54 208.29 L140.89 208.30 L141.24 208.30 L141.59 208.28 L141.94 208.26 L142.29 208.22 L142.63 208.18 L142.98 208.13 L143.33 208.06 L143.68 208.00 L144.03 207.92 L144.38 207.84 L144.73 207.75 L145.07 207.66 L145.42 207.57 L145.77 207.47 L146.12 207.37 L146.47 207.27 L146.82 207.16 L147.17 207.06 L147.51 206.96 L147.86 206.85 L148.21 206.75 L148.56 206.66 L148.91 206.56 L149.26 206.47 L149.61 206.39 L149.96 206.31 L150.30 206.23 L150.65 206.15 L151.00 206.06 L151.35 205.97 L151.70 205.87 L152.05 205.78 L152.40 205.68 L152.74 205.58 L153.09 205.48 L153.44 205.38 L153.79 205.29 L154.14 205.20 L154.49 205.11 L154.84 205.02 L155.18 204.94 L155.53 204.87 L155.88 204.80 L156.23 204.75 L156.58 204.70 L156.93 204.66 L157.28 204.63 L157.62 204.61 L157.97 204.60 L158.32 204.62 L158.67 204.67 L159.02 204.76 L159.37 204.88 L159.72 205.03 L160.06 205.20 L160.41 205.40 L160.76 205.61 L161.11 205.84 L161.46 206.09 L161.81 206.34 L162.16 206.59 L162.51 206.85 L162.85 207.11 L163.20 207.37 L163.55 207.62 L163.90 207.86 L164.25 208.08 L164.60 208.29 L164.95 208.48 L165.29 208.65 L165.64 208.79 L165.99 208.90 L166.34 208.98 L166.69 209.02 L167.04 209.06 L167.39 209.10 L167.73 209.13 L168.08 209.16 L168.43 209.18 L168.78 209.20 L169.13 209.22 L169.48 209.24 L169.83 209.26 L170.17 209.28 L170.52 209.29 L170.87 209.31 L171.22 209.32 L171.57 209.34 L171.92 209.36 L172.27 209.38 L172.61 209.40 L172.96 209.42 L173.31 209.45 L173.66 209.48 L174.01 209.52 L174.36 209.56 L174.71 209.60 L175.05 209.65 L175.40 209.72 L175.75 209.79 L176.10 209.88 L176.45 209.99 L176.80 210.11 L177.15 210.25 L177.50 210.41 L177.84 210.59 L178.19 210.80 L178.54 211.03 L178.89 211.43 L179.24 212.06 L179.59 212.86 L179.94 213.80 L180.28 214.84 L180.63 215.94 L180.98 217.37 L181.33 219.11 L181.68 221.08 L182.03 223.19 L182.38 225.37 L182.72 227.53 L183.07 229.57 L183.42 231.42 L183.77 233.10 L184.12 234.82 L184.47 236.54 L184.82 238.21 L185.16 239.81 L185.51 241.29 L185.86 242.62 L186.21 243.74 L186.56 244.64 L186.91 245.45 L187.26 246.24 L187.60 246.94 L187.95 247.52 L188.30 247.93 L188.65 248.10 L189.00 247.90 L189.35 247.22 L189.70 246.17 L190.05 244.88 L190.39 243.45 L190.74 241.78 L191.09 239.39 L191.44 236.44 L191.79 233.15 L192.14 229.72 L192.49 226.35 L192.83 223.13 L193.18 219.75 L193.53 216.22 L193.88 212.60 L194.23 208.95 L194.58 205.32 L194.93 201.75 L195.27 198.31 L195.62 195.04 L195.97 191.99 L196.32 188.99 L196.67 185.99 L197.02 183.06 L197.37 180.28 L197.71 177.70 L198.06 175.39 L198.41 173.43 L198.76 171.74 L199.11 170.03 L199.46 168.40 L199.81 166.97 L200.15 165.83 L200.50 165.11 L200.85 164.90 L201.20 165.04 L201.55 165.35 L201.90 165.81 L202.25 166.37 L202.60 166.99 L202.94 167.89 L203.29 169.21 L203.64 170.79 L203.99 172.47 L204.34 174.21 L204.69 176.23 L205.04 178.48 L205.38 180.87 L205.73 183.31 L206.08 185.72 L206.43 188.00 L206.78 190.08 L207.13 191.86 L207.48 193.30 L207.82 194.68 L208.17 196.03 L208.52 197.31 L208.87 198.50 L209.22 199.59 L209.57 200.55 L209.92 201.36 L210.26 201.98 L210.61 202.41 L210.96 202.73 L211.31 203.03 L211.66 203.29 L212.01 203.51 L212.36 203.67 L212.70 203.77 L213.05 203.80 L213.40 203.78 L213.75 203.73 L214.10 203.67 L214.45 203.60 L214.80 203.52 L215.15 203.45 L215.49 203.40 L215.84 203.36 L216.19 203.31 L216.54 203.26 L216.89 203.22 L217.24 203.17 L217.59 203.13 L217.93 203.09 L218.28 203.06 L218.63 203.03 L218.98 203.01 L219.33 203.00 L219.68 203.00 L220.03 203.02 L220.37 203.08 L220.72 203.15 L221.07 203.26 L221.42 203.39 L221.77 203.53 L222.12 203.70 L222.47 203.87 L222.81 204.07 L223.16 204.27 L223.51 204.48 L223.86 204.69 L224.21 204.91 L224.56 205.13 L224.91 205.35 L225.25 205.57 L225.60 205.78 L225.95 205.98 L226.30 206.16 L226.65 206.34 L227.00 206.50 L227.35 206.65 L227.69 206.82 L228.04 206.99 L228.39 207.17 L228.74 207.35 L229.09 207.53 L229.44 207.72 L229.79 207.90 L230.14 208.08 L230.48 208.26 L230.83 208.44 L231.18 208.61 L231.53 208.77 L231.88 208.92 L232.23 209.06 L232.58 209.18 L232.92 209.30 L233.27 209.39 L233.62 209.47 L233.97 209.54 L234.32 209.58 L234.67 209.60 L235.02 209.60 L235.36 209.59 L235.71 209.57 L236.06 209.54 L236.41 209.50 L236.76 209.46 L237.11 209.41 L237.46 209.35 L237.80 209.28 L238.15 209.21 L238.50 209.14 L238.85 209.06 L239.20 208.98 L239.55 208.89 L239.90 208.80 L240.24 208.71 L240.59 208.62 L240.94 208.52 L241.29 208.43 L241.64 208.33 L241.99 208.24 L242.34 208.14 L242.69 208.05 L243.03 207.96 L243.38 207.87 L243.73 207.78 L244.08 207.70 L244.43 207.62 L244.78 207.55 L245.13 207.47 L245.47 207.40 L245.82 207.33 L246.17 207.25 L246.52 207.17 L246.87 207.08 L247.22 207.00 L247.57 206.91 L247.91 206.82 L248.26 206.73 L248.61 206.64 L248.96 206.56 L249.31 206.47 L249.66 206.38 L250.01 206.30 L250.35 206.22 L250.70 206.14 L251.05 206.07 L251.40 206.00 L251.75 205.93 L252.10 205.87 L252.45 205.81 L252.79 205.76 L253.14 205.72 L253.49 205.68 L253.84 205.65 L254.19 205.62 L254.54 205.61 L254.89 205.60 L255.24 205.60 L255.58 205.61 L255.93 205.62 L256.28 205.64 L256.63 205.67 L256.98 205.70 L257.33 205.73 L257.68 205.77 L258.02 205.82 L258.37 205.86 L258.72 205.92 L259.07 205.97 L259.42 206.03 L259.77 206.08 L260.12 206.15 L260.46 206.21 L260.81 206.27 L261.16 206.34 L261.51 206.40 L261.86 206.47 L262.21 206.53 L262.56 206.59 L262.90 206.66 L263.25 206.72 L263.60 206.78 L263.95 206.84 L264.30 206.90 L264.65 206.95 L265.00 207.00 L265.34 207.05 L265.69 207.10 L266.04 207.16 L266.39 207.22 L266.74 207.28 L267.09 207.34 L267.44 207.40 L267.79 207.47 L268.13 207.53 L268.48 207.60 L268.83 207.66 L269.18 207.73 L269.53 207.79 L269.88 207.85 L270.23 207.91 L270.57 207.97 L270.92 208.03 L271.27 208.08 L271.62 208.13 L271.97 208.18 L272.32 208.23 L272.67 208.27 L273.01 208.30 L273.36 208.33 L273.71 208.36 L274.06 208.38 L274.41 208.39 L274.76 208.40 L275.11 208.40 L275.45 208.40 L275.80 208.39 L276.15 208.37 L276.50 208.36 L276.85 208.34 L277.20 208.31 L277.55 208.28 L277.89 208.25 L278.24 208.22 L278.59 208.18 L278.94 208.14 L279.29 208.10 L279.64 208.06 L279.99 208.01 L280.34 207.97 L280.68 207.92 L281.03 207.87 L281.38 207.82 L281.73 207.77 L282.08 207.72 L282.43 207.67 L282.78 207.62 L283.12 207.57 L283.47 207.52 L283.82 207.47 L284.17 207.42 L284.52 207.38 L284.87 207.33 L285.22 207.29 L285.56 207.25 L285.91 207.21 L286.26 207.17 L286.61 207.13 L286.96 207.09 L287.31 207.05 L287.66 207.01 L288.00 206.97 L288.35 206.92 L288.70 206.88 L289.05 206.83 L289.40 206.78 L289.75 206.74 L290.10 206.69 L290.44 206.64 L290.79 206.60 L291.14 206.55 L291.49 206.51 L291.84 206.46 L292.19 206.42 L292.54 206.38 L292.88 206.34 L293.23 206.30 L293.58 206.26 L293.93 206.23 L294.28 206.19 L294.63 206.16 L294.98 206.13 L295.33 206.10 L295.67 206.08 L296.02 206.06 L296.37 206.04 L296.72 206.03 L297.07 206.01 L297.42 206.01 L297.77 206.00 L298.11 206.00 L298.46 206.00 L298.81 206.01 L299.16 206.02 L299.51 206.03 L299.86 206.04 L300.21 206.06 L300.55 206.08 L300.90 206.10 L301.25 206.13 L301.60 206.15 L301.95 206.18 L302.30 206.21 L302.65 206.24 L302.99 206.27 L303.34 206.31 L303.69 206.34 L304.04 206.38 L304.39 206.42 L304.74 206.45 L305.09 206.49 L305.43 206.53 L305.78 206.57 L306.13 206.61 L306.48 206.65 L306.83 206.68 L307.18 206.72 L307.53 206.76 L307.88 206.80 L308.22 206.83 L308.57 206.87 L308.92 206.90 L309.27 206.94 L309.62 206.97 L309.97 207.00 L310.32 207.03 L310.66 207.06 L311.01 207.09 L311.36 207.12 L311.71 207.16 L312.06 207.20 L312.41 207.23 L312.76 207.27 L313.10 207.31 L313.45 207.35 L313.80 207.39 L314.15 207.42 L314.50 207.46 L314.85 207.50 L315.20 207.54 L315.54 207.58 L315.89 207.61 L316.24 207.65 L316.59 207.69 L316.94 207.72 L317.29 207.75 L317.64 207.78 L317.98 207.81 L318.33 207.84 L318.68 207.87 L319.03 207.89 L319.38 207.92 L319.73 207.94 L320.08 207.95 L320.43 207.97 L320.77 207.98 L321.12 207.99 L321.47 208.00 L321.82 208.00 L322.17 208.00 L322.52 208.00 L322.87 208.00 L323.21 207.99 L323.56 207.99 L323.91 207.99 L324.26 207.98 L324.61 207.97 L324.96 207.97 L325.31 207.96 L325.65 207.95 L326.00 207.94 L326.35 207.93 L326.70 207.92 L327.05 207.91 L327.40 207.90 L327.75 207.89 L328.09 207.88 L328.44 207.86 L328.79 207.85 L329.14 207.84 L329.49 207.82 L329.84 207.81 L330.19 207.80 L330.53 207.78 L330.88 207.77 L331.23 207.75 L331.58 207.74 L331.93 207.72 L332.28 207.70 L332.63 207.69 L332.98 207.67 L333.32 207.66 L333.67 207.64 L334.02 207.63 L334.37 207.61 L334.72 207.60 L335.07 207.58 L335.42 207.57 L335.76 207.55 L336.11 207.54 L336.46 207.52 L336.81 207.51 L337.16 207.49 L337.51 207.48 L337.86 207.47 L338.20 207.45 L338.55 207.44 L338.90 207.42 L339.25 207.41 L339.60 207.39 L339.95 207.38 L340.30 207.36 L340.64 207.35 L340.99 207.33 L341.34 207.32 L341.69 207.30 L342.04 207.29 L342.39 207.27 L342.74 207.26 L343.08 207.24 L343.43 207.22 L343.78 207.21 L344.13 207.19 L344.48 207.17 L344.83 207.16 L345.18 207.14 L345.53 207.12 L345.87 207.11 L346.22 207.09 L346.57 207.07 L346.92 207.05 L347.27 207.04 L347.62 207.02 L347.97 207.00 L348.31 206.98 L348.66 206.97 L349.01 206.95 L349.36 206.93 L349.71 206.91 L350.06 206.89 L350.41 206.87 L350.75 206.86 L351.10 206.84 L351.45 206.82 L351.80 206.80" fill="none" stroke="#111" stroke-width="1.15" stroke-dasharray="3.4 2.2" stroke-linejoin="round"/>
<path d="M38.40 207.20 L38.76 207.20 L39.13 207.19 L39.49 207.17 L39.86 207.14 L40.22 207.12 L40.59 207.08 L40.95 207.05 L41.31 207.02 L41.68 206.98 L42.04 206.96 L42.41 206.93 L42.77 206.91 L43.14 206.90 L43.50 206.90 L43.86 206.88 L44.21 206.83 L44.57 206.75 L44.93 206.64 L45.29 206.50 L45.64 206.36 L46.00 206.20 L46.36 206.04 L46.71 205.90 L47.07 205.76 L47.43 205.65 L47.79 205.57 L48.14 205.52 L48.50 205.50 L48.88 205.54 L49.26 205.64 L49.64 205.82 L50.01 206.05 L50.39 206.32 L50.77 206.63 L51.15 206.95 L51.53 207.27 L51.91 207.58 L52.29 207.85 L52.66 208.08 L53.04 208.26 L53.42 208.36 L53.80 208.40 L54.22 208.35 L54.64 208.19 L55.06 207.94 L55.49 207.61 L55.91 207.21 L56.33 206.77 L56.75 206.30 L57.17 205.83 L57.59 205.39 L58.01 204.99 L58.44 204.66 L58.86 204.41 L59.28 204.25 L59.70 204.20 L60.12 204.28 L60.54 204.53 L60.96 204.92 L61.39 205.44 L61.81 206.07 L62.23 206.77 L62.65 207.50 L63.07 208.23 L63.49 208.93 L63.91 209.56 L64.34 210.08 L64.76 210.47 L65.18 210.72 L65.60 210.80 L66.05 210.70 L66.50 210.39 L66.95 209.89 L67.40 209.24 L67.85 208.45 L68.30 207.57 L68.75 206.65 L69.20 205.73 L69.65 204.85 L70.10 204.06 L70.55 203.41 L71.00 202.91 L71.45 202.60 L71.90 202.50 L72.34 202.64 L72.79 203.05 L73.23 203.72 L73.67 204.61 L74.11 205.67 L74.56 206.85 L75.00 208.10 L75.44 209.35 L75.89 210.53 L76.33 211.59 L76.77 212.48 L77.21 213.15 L77.66 213.56 L78.10 213.70 L78.61 213.50 L79.13 212.90 L79.64 211.94 L80.16 210.67 L80.67 209.14 L81.19 207.44 L81.70 205.65 L82.21 203.86 L82.73 202.16 L83.24 200.63 L83.76 199.36 L84.27 198.40 L84.79 197.80 L85.30 197.60 L85.84 197.87 L86.39 198.65 L86.93 199.92 L87.47 201.61 L88.01 203.63 L88.56 205.88 L89.10 208.25 L89.64 210.62 L90.19 212.87 L90.73 214.89 L91.27 216.58 L91.81 217.85 L92.36 218.63 L92.90 218.90 L93.45 218.55 L94.00 217.52 L94.55 215.87 L95.10 213.67 L95.65 211.03 L96.20 208.09 L96.75 205.00 L97.30 201.91 L97.85 198.97 L98.40 196.33 L98.95 194.13 L99.50 192.48 L100.05 191.45 L100.60 191.10 L101.23 191.53 L101.86 192.79 L102.49 194.83 L103.11 197.54 L103.74 200.78 L104.37 204.39 L105.00 208.20 L105.63 212.01 L106.26 215.62 L106.89 218.86 L107.51 221.57 L108.14 223.61 L108.77 224.87 L109.40 225.30 L110.09 224.69 L110.79 222.89 L111.48 219.99 L112.17 216.13 L112.86 211.52 L113.56 206.37 L114.25 200.95 L114.94 195.53 L115.64 190.38 L116.33 185.77 L117.02 181.91 L117.71 179.01 L118.41 177.21 L119.10 176.60 L119.90 177.41 L120.70 179.81 L121.50 183.68 L122.30 188.82 L123.10 194.97 L123.90 201.83 L124.70 209.05 L125.50 216.27 L126.30 223.13 L127.10 229.28 L127.90 234.42 L128.70 238.29 L129.50 240.69 L130.30 241.50 L131.18 240.53 L132.06 237.66 L132.94 233.05 L133.81 226.91 L134.69 219.56 L135.57 211.37 L136.45 202.75 L137.33 194.13 L138.21 185.94 L139.09 178.59 L139.96 172.45 L140.84 167.84 L141.72 164.97 L142.60 164.00 L143.84 165.07 L145.07 168.23 L146.31 173.32 L147.54 180.08 L148.78 188.17 L150.01 197.20 L151.25 206.70 L152.49 216.20 L153.72 225.23 L154.96 233.32 L156.19 240.08 L157.43 245.17 L158.66 248.33 L159.90 249.40 L161.71 248.75 L163.53 246.84 L165.34 243.75 L167.16 239.65 L168.97 234.74 L170.79 229.26 L172.60 223.50 L174.41 217.74 L176.23 212.26 L178.04 207.35 L179.86 203.25 L181.67 200.16 L183.49 198.25 L185.30 197.60 L186.20 197.81 L187.10 198.44 L188.00 199.45 L188.90 200.80 L189.80 202.41 L190.70 204.21 L191.60 206.10 L192.50 207.99 L193.40 209.79 L194.30 211.40 L195.20 212.75 L196.10 213.76 L197.00 214.39 L197.90 214.60 L199.96 214.15 L202.03 212.81 L204.09 210.66 L206.16 207.80 L208.22 204.38 L210.29 200.57 L212.35 196.55 L214.41 192.53 L216.48 188.72 L218.54 185.30 L220.61 182.44 L222.67 180.29 L224.74 178.95 L226.80 178.50 L228.21 179.26 L229.61 181.49 L231.02 185.08 L232.43 189.85 L233.84 195.57 L235.24 201.94 L236.65 208.65 L238.06 215.36 L239.46 221.73 L240.87 227.45 L242.28 232.22 L243.69 235.81 L245.09 238.04 L246.50 238.80 L247.51 238.09 L248.53 235.99 L249.54 232.61 L250.56 228.13 L251.57 222.75 L252.59 216.76 L253.60 210.45 L254.61 204.14 L255.63 198.15 L256.64 192.77 L257.66 188.29 L258.67 184.91 L259.69 182.81 L260.70 182.10 L261.40 182.70 L262.10 184.48 L262.80 187.34 L263.50 191.14 L264.20 195.69 L264.90 200.76 L265.60 206.10 L266.30 211.44 L267.00 216.51 L267.70 221.06 L268.40 224.86 L269.10 227.72 L269.80 229.50 L270.50 230.10 L271.22 229.50 L271.94 227.72 L272.66 224.86 L273.39 221.06 L274.11 216.51 L274.83 211.44 L275.55 206.10 L276.27 200.76 L276.99 195.69 L277.71 191.14 L278.44 187.34 L279.16 184.48 L279.88 182.70 L280.60 182.10 L281.24 182.70 L281.89 184.48 L282.53 187.34 L283.17 191.14 L283.81 195.69 L284.46 200.76 L285.10 206.10 L285.74 211.44 L286.39 216.51 L287.03 221.06 L287.67 224.86 L288.31 227.72 L288.96 229.50 L289.60 230.10 L290.21 229.66 L290.81 228.38 L291.42 226.30 L292.03 223.55 L292.64 220.25 L293.24 216.57 L293.85 212.70 L294.46 208.83 L295.06 205.15 L295.67 201.85 L296.28 199.10 L296.89 197.02 L297.49 195.74 L298.10 195.30 L298.56 195.50 L299.01 196.08 L299.47 197.02 L299.93 198.27 L300.39 199.77 L300.84 201.44 L301.30 203.20 L301.76 204.96 L302.21 206.63 L302.67 208.13 L303.13 209.38 L303.59 210.32 L304.04 210.90 L304.50 211.10 L304.97 210.95 L305.44 210.49 L305.91 209.76 L306.39 208.78 L306.86 207.62 L307.33 206.32 L307.80 204.95 L308.27 203.58 L308.74 202.28 L309.21 201.12 L309.69 200.14 L310.16 199.41 L310.63 198.95 L311.10 198.80 L311.64 199.00 L312.19 199.58 L312.73 200.52 L313.27 201.77 L313.81 203.27 L314.36 204.94 L314.90 206.70 L315.44 208.46 L315.99 210.13 L316.53 211.63 L317.07 212.88 L317.61 213.82 L318.16 214.40 L318.70 214.60 L319.14 214.50 L319.59 214.19 L320.03 213.69 L320.47 213.04 L320.91 212.25 L321.36 211.37 L321.80 210.45 L322.24 209.53 L322.69 208.65 L323.13 207.86 L323.57 207.21 L324.01 206.71 L324.46 206.40 L324.90 206.30 L325.24 206.34 L325.59 206.46 L325.93 206.65 L326.27 206.90 L326.61 207.21 L326.96 207.54 L327.30 207.90 L327.64 208.26 L327.99 208.59 L328.33 208.90 L328.67 209.15 L329.01 209.34 L329.36 209.46 L329.70 209.50 L330.16 209.41 L330.63 209.16 L331.09 208.75 L331.56 208.20 L332.02 207.55 L332.49 206.82 L332.95 206.05 L333.41 205.28 L333.88 204.55 L334.34 203.90 L334.81 203.35 L335.27 202.94 L335.74 202.69 L336.20 202.60 L337.31 202.69 L338.43 202.97 L339.54 203.41 L340.66 203.99 L341.77 204.69 L342.89 205.48 L344.00 206.30 L345.11 207.12 L346.23 207.91 L347.34 208.61 L348.46 209.19 L349.57 209.63 L350.69 209.91 L351.80 210.00" fill="none" stroke="#a23ee6" stroke-width="1.05" stroke-linejoin="round"/>
<rect x="38.4" y="156.9" width="313.4" height="100.5" fill="none" stroke="#404040" stroke-width="1"/>
<text x="43.6" y="170.5" font-size="10.2" fill="#231f20" textLength="74.5" lengthAdjust="spacingAndGlyphs" >Distortion factor,</text>
<text x="43.6" y="185.1" font-size="10.2" fill="#231f20" textLength="16.2" lengthAdjust="spacingAndGlyphs" >β =</text>
<text x="64.4" y="185.1" font-size="10.6" fill="#231f20" textLength="6.6" lengthAdjust="spacingAndGlyphs" >T</text>
<text x="71.6" y="189.7" font-size="7.6" fill="#231f20" textLength="4.2" lengthAdjust="spacingAndGlyphs" >0</text>
<text x="76.8" y="185.1" font-size="10.6" fill="#231f20" textLength="6.6" lengthAdjust="spacingAndGlyphs" >T</text>
<text x="83.2" y="189.2" font-size="7.6" fill="#231f20" textLength="3.6" lengthAdjust="spacingAndGlyphs" >c</text>
<text x="87.2" y="185.1" font-size="10.6" fill="#231f20" textLength="4.6" lengthAdjust="spacingAndGlyphs" >/</text>
<text x="92.4" y="185.1" font-size="10.6" fill="#231f20" textLength="7" lengthAdjust="spacingAndGlyphs" >T</text>
<text x="101" y="180.6" font-size="7.6" fill="#231f20" textLength="4.6" lengthAdjust="spacingAndGlyphs" >2</text>
<text x="101" y="188.9" font-size="6.2" fill="#231f20" textLength="11.8" lengthAdjust="spacingAndGlyphs" >THz</text>
<text x="43.6" y="243.6" font-size="10.6" fill="#231f20" textLength="13" lengthAdjust="spacingAndGlyphs" >δω</text>
<text x="56.4" y="247.6" font-size="7.4" fill="#231f20" textLength="3" lengthAdjust="spacingAndGlyphs" >s</text>
<text x="62.2" y="243.6" font-size="10.6" fill="#231f20" textLength="13.8" lengthAdjust="spacingAndGlyphs" >&lt;&lt;</text>
<text x="85.6" y="232" font-size="10.6" fill="#231f20" textLength="6.4" lengthAdjust="spacingAndGlyphs" >T</text>
<text x="92.6" y="236.6" font-size="6.2" fill="#231f20" textLength="11.8" lengthAdjust="spacingAndGlyphs" >THz</text>
<line x1="84.4" y1="239.7" x2="106.8" y2="239.7" stroke="#231f20" stroke-width="1.3" />
<text x="85.6" y="252.1" font-size="10.6" fill="#231f20" textLength="6.4" lengthAdjust="spacingAndGlyphs" >T</text>
<text x="92.6" y="256" font-size="7.4" fill="#231f20" textLength="3.3" lengthAdjust="spacingAndGlyphs" >c</text>
<text x="99.6" y="252.1" font-size="10.6" fill="#231f20" textLength="6.4" lengthAdjust="spacingAndGlyphs" >T</text>
<text x="105.8" y="255.6" font-size="7" fill="#231f20" textLength="3.4" lengthAdjust="spacingAndGlyphs" >0</text>
<text x="315.2" y="170.6" font-size="11.4" fill="#a23ee6" textLength="27" lengthAdjust="spacingAndGlyphs" >β = 8</text>
<text x="308.2" y="250.6" font-size="11.4" fill="#6a9a3a" textLength="35.8" lengthAdjust="spacingAndGlyphs" >β = 0.8</text>
<text x="203.2" y="229.7" font-size="10.8" fill="#231f20" textLength="36.8" lengthAdjust="spacingAndGlyphs" >Original</text>
<line x1="208.6" y1="233" x2="196.18" y2="241.77" stroke="#231f20" stroke-width="1.1" />
<path d="M191.6 245 L196.12 237.53 L196.18 241.77 L200.15 243.25 Z" fill="#231f20" stroke="none" stroke-width="1" />
<text x="364.8" y="147.2" font-size="13.6" fill="#231f20" font-weight="bold" >D</text>
<rect x="396.2" y="147.3" width="23" height="111.7" fill="#ece0f8"/>
<line x1="396.2" y1="259" x2="396.2" y2="256.8" stroke="#404040" stroke-width="0.8" />
<line x1="396.2" y1="147.3" x2="396.2" y2="149.5" stroke="#404040" stroke-width="0.8" />
<text x="396.2" y="271.9" font-size="10.6" fill="#231f20" text-anchor="middle" >0</text>
<line x1="437.95" y1="259" x2="437.95" y2="256.8" stroke="#404040" stroke-width="0.8" />
<line x1="437.95" y1="147.3" x2="437.95" y2="149.5" stroke="#404040" stroke-width="0.8" />
<text x="437.95" y="271.9" font-size="10.6" fill="#231f20" text-anchor="middle" >1</text>
<line x1="479.7" y1="259" x2="479.7" y2="256.8" stroke="#404040" stroke-width="0.8" />
<line x1="479.7" y1="147.3" x2="479.7" y2="149.5" stroke="#404040" stroke-width="0.8" />
<text x="479.7" y="271.9" font-size="10.6" fill="#231f20" text-anchor="middle" >2</text>
<line x1="521.45" y1="259" x2="521.45" y2="256.8" stroke="#404040" stroke-width="0.8" />
<line x1="521.45" y1="147.3" x2="521.45" y2="149.5" stroke="#404040" stroke-width="0.8" />
<text x="521.45" y="271.9" font-size="10.6" fill="#231f20" text-anchor="middle" >3</text>
<line x1="396.2" y1="258.8" x2="398.4" y2="258.8" stroke="#404040" stroke-width="0.8" />
<line x1="521.4" y1="258.8" x2="519.2" y2="258.8" stroke="#404040" stroke-width="0.8" />
<text x="393.6" y="262.5" font-size="10.6" fill="#231f20" text-anchor="end" >0</text>
<line x1="396.2" y1="236.74" x2="398.4" y2="236.74" stroke="#404040" stroke-width="0.8" />
<line x1="521.4" y1="236.74" x2="519.2" y2="236.74" stroke="#404040" stroke-width="0.8" />
<text x="393.6" y="240.44" font-size="10.6" fill="#231f20" text-anchor="end" >0.2</text>
<line x1="396.2" y1="214.68" x2="398.4" y2="214.68" stroke="#404040" stroke-width="0.8" />
<line x1="521.4" y1="214.68" x2="519.2" y2="214.68" stroke="#404040" stroke-width="0.8" />
<text x="393.6" y="218.38" font-size="10.6" fill="#231f20" text-anchor="end" >0.4</text>
<line x1="396.2" y1="192.62" x2="398.4" y2="192.62" stroke="#404040" stroke-width="0.8" />
<line x1="521.4" y1="192.62" x2="519.2" y2="192.62" stroke="#404040" stroke-width="0.8" />
<text x="393.6" y="196.32" font-size="10.6" fill="#231f20" text-anchor="end" >0.6</text>
<line x1="396.2" y1="170.56" x2="398.4" y2="170.56" stroke="#404040" stroke-width="0.8" />
<line x1="521.4" y1="170.56" x2="519.2" y2="170.56" stroke="#404040" stroke-width="0.8" />
<text x="393.6" y="174.26" font-size="10.6" fill="#231f20" text-anchor="end" >0.8</text>
<line x1="396.2" y1="148.5" x2="398.4" y2="148.5" stroke="#404040" stroke-width="0.8" />
<line x1="521.4" y1="148.5" x2="519.2" y2="148.5" stroke="#404040" stroke-width="0.8" />
<text x="393.6" y="152.2" font-size="10.6" fill="#231f20" text-anchor="end" >1</text>
<text x="0" y="0" font-size="11.6" fill="#231f20" text-anchor="middle" textLength="110.5" lengthAdjust="spacingAndGlyphs" transform="translate(373.9 209.8) rotate(-90)">Amplitude [arb. units]</text>
<text x="417.4" y="287.8" font-size="11.2" fill="#231f20" textLength="79.8" lengthAdjust="spacingAndGlyphs" >Frequency [THz]</text>
<path d="M396.20 258.80 L396.43 257.44 L396.67 256.08 L396.90 254.70 L397.13 253.31 L397.37 251.91 L397.60 250.50 L397.83 249.08 L398.07 247.65 L398.30 246.21 L398.53 244.76 L398.77 243.30 L399.00 241.83 L399.23 240.34 L399.47 238.79 L399.70 237.18 L399.93 235.53 L400.17 233.85 L400.40 232.17 L400.63 230.50 L400.87 228.84 L401.10 227.23 L401.33 225.67 L401.57 224.18 L401.80 222.77 L402.03 221.46 L402.27 220.27 L402.50 219.12 L402.73 217.99 L402.97 216.89 L403.20 215.82 L403.43 214.79 L403.67 213.79 L403.90 212.83 L404.13 211.93 L404.37 211.07 L404.60 210.26 L404.83 209.51 L405.07 208.82 L405.30 208.20 L405.53 207.62 L405.77 207.05 L406.00 206.50 L406.23 205.98 L406.47 205.48 L406.70 205.03 L406.93 204.61 L407.17 204.24 L407.40 203.92 L407.63 203.65 L407.87 203.45 L408.10 203.26 L408.33 203.08 L408.57 202.90 L408.80 202.74 L409.03 202.59 L409.27 202.46 L409.50 202.34 L409.73 202.25 L409.97 202.17 L410.20 202.12 L410.43 202.10 L410.67 202.12 L410.90 202.20 L411.13 202.34 L411.37 202.54 L411.60 202.78 L411.83 203.06 L412.07 203.38 L412.30 203.72 L412.53 204.08 L412.77 204.45 L413.00 204.88 L413.23 205.43 L413.47 206.11 L413.70 206.87 L413.93 207.71 L414.17 208.59 L414.40 209.51 L414.63 210.43 L414.87 211.40 L415.10 212.43 L415.33 213.54 L415.57 214.73 L415.80 215.99 L416.03 217.34 L416.27 218.79 L416.50 220.35 L416.73 222.06 L416.97 223.94 L417.20 225.98 L417.43 228.18 L417.67 230.55 L417.90 233.13 L418.13 236.04 L418.37 239.32 L418.60 243.00 L418.83 247.33 L419.07 252.39 L419.30 258.00 L419.36 255.98 L419.43 255.06 L419.49 254.14 L419.56 253.21 L419.62 252.28 L419.69 251.35 L419.75 250.41 L419.82 249.46 L419.88 248.51 L419.95 247.56 L420.01 246.60 L420.08 245.64 L420.14 244.67 L420.21 243.70 L420.27 242.73 L420.34 241.75 L420.40 240.77 L420.47 239.79 L420.53 238.80 L420.60 237.81 L420.66 236.82 L420.73 235.82 L420.79 234.82 L420.86 233.82 L420.92 232.82 L420.99 231.81 L421.05 230.80 L421.12 229.79 L421.18 228.78 L421.24 227.77 L421.31 226.76 L421.37 225.74 L421.44 224.73 L421.50 223.71 L421.57 222.70 L421.63 221.68 L421.70 220.66 L421.76 219.64 L421.83 218.62 L421.89 217.60 L421.96 216.58 L422.02 215.56 L422.09 214.54 L422.15 213.52 L422.22 212.50 L422.28 211.48 L422.35 210.46 L422.41 209.44 L422.48 208.42 L422.54 207.41 L422.61 206.39 L422.67 205.38 L422.74 204.37 L422.80 203.36 L422.87 202.35 L422.93 201.34 L422.99 200.34 L423.06 199.34 L423.12 198.34 L423.19 197.35 L423.25 196.36 L423.32 195.37 L423.38 194.39 L423.45 193.41 L423.51 192.44 L423.58 191.47 L423.64 190.51 L423.71 189.55 L423.77 188.59 L423.84 187.64 L423.90 186.70 L423.97 185.77 L424.03 184.84 L424.10 183.92 L424.16 183.00 L424.23 182.09 L424.29 181.19 L424.36 180.30 L424.42 179.41 L424.49 178.54 L424.55 177.67 L424.62 176.81 L424.68 175.96 L424.75 175.12 L424.81 174.29 L424.87 173.47 L424.94 172.66 L425.00 171.86 L425.07 171.07 L425.13 170.29 L425.20 169.53 L425.26 168.77 L425.33 168.03 L425.39 167.29 L425.46 166.56 L425.52 165.85 L425.59 165.14 L425.65 164.45 L425.72 163.76 L425.78 163.09 L425.85 162.43 L425.91 161.78 L425.98 161.14 L426.04 160.51 L426.11 159.90 L426.17 159.30 L426.24 158.71 L426.30 158.13 L426.37 157.57 L426.43 157.02 L426.50 156.48 L426.56 155.96 L426.63 155.45 L426.69 154.96 L426.75 154.48 L426.82 154.02 L426.88 153.57 L426.95 153.14 L427.01 152.72 L427.08 152.31 L427.14 151.93 L427.21 151.56 L427.27 151.22 L427.34 150.90 L427.40 150.60 L427.47 150.33 L427.53 150.07 L427.60 149.84 L427.66 149.62 L427.73 149.43 L427.79 149.26 L427.86 149.11 L427.92 148.98 L427.99 148.88 L428.05 148.79 L428.12 148.72 L428.18 148.67 L428.25 148.65 L428.31 148.64 L428.38 148.65 L428.44 148.68 L428.51 148.73 L428.57 148.80 L428.63 148.89 L428.70 148.99 L428.76 149.12 L428.83 149.26 L428.89 149.42 L428.96 149.60 L429.02 149.79 L429.09 150.01 L429.15 150.26 L429.22 150.54 L429.28 150.84 L429.35 151.17 L429.41 151.53 L429.48 151.91 L429.54 152.31 L429.61 152.74 L429.67 153.19 L429.74 153.66 L429.80 154.16 L429.87 154.67 L429.93 155.21 L430.00 155.77 L430.06 156.35 L430.13 156.95 L430.19 157.56 L430.26 158.20 L430.32 158.85 L430.38 159.52 L430.45 160.21 L430.51 160.91 L430.58 161.64 L430.64 162.39 L430.71 163.15 L430.77 163.94 L430.84 164.74 L430.90 165.57 L430.97 166.41 L431.03 167.28 L431.10 168.17 L431.16 169.08 L431.23 170.00 L431.29 170.95 L431.36 171.92 L431.42 172.91 L431.49 173.93 L431.55 174.96 L431.62 176.01 L431.68 177.09 L431.75 178.18 L431.81 179.29 L431.88 180.43 L431.94 181.59 L432.01 182.77 L432.07 183.99 L432.14 185.23 L432.20 186.50 L432.33 185.97 L432.47 185.59 L432.60 185.32 L432.74 185.15 L432.87 185.05 L433.01 185.01 L433.14 185.00 L433.28 185.16 L433.41 186.18 L433.54 187.94 L433.68 190.24 L433.81 192.87 L433.95 195.62 L434.08 198.28 L434.22 200.64 L434.35 202.50 L434.49 203.81 L434.62 205.09 L434.75 206.35 L434.89 207.54 L435.02 208.59 L435.16 209.46 L435.29 210.10 L435.43 210.45 L435.56 210.48 L435.70 210.34 L435.83 210.06 L435.96 209.68 L436.10 209.22 L436.23 208.71 L436.37 208.16 L436.50 207.61 L436.64 207.08 L436.77 206.60 L436.91 206.15 L437.04 205.71 L437.17 205.26 L437.31 204.81 L437.44 204.35 L437.58 203.88 L437.71 203.39 L437.85 202.89 L437.98 202.37 L438.12 201.84 L438.25 201.31 L438.38 200.78 L438.52 200.25 L438.65 199.70 L438.79 199.15 L438.92 198.58 L439.06 197.99 L439.19 197.39 L439.33 196.77 L439.46 196.12 L439.59 195.45 L439.73 194.74 L439.86 194.00 L440.00 193.23 L440.13 192.42 L440.27 191.56 L440.40 190.61 L440.54 189.56 L440.67 188.43 L440.81 187.22 L440.94 185.96 L441.07 184.64 L441.21 183.28 L441.34 181.89 L441.48 180.48 L441.61 179.06 L441.75 177.64 L441.88 176.23 L442.02 174.84 L442.15 173.35 L442.28 171.72 L442.42 170.03 L442.55 168.36 L442.69 166.80 L442.82 165.41 L442.96 164.29 L443.09 163.42 L443.23 162.57 L443.36 161.80 L443.49 161.20 L443.63 160.85 L443.76 160.81 L443.90 160.89 L444.03 161.05 L444.17 161.27 L444.30 161.54 L444.44 161.84 L444.57 162.21 L444.70 162.84 L444.84 163.72 L444.97 164.83 L445.11 166.13 L445.24 167.59 L445.38 169.17 L445.51 170.85 L445.65 172.62 L445.78 174.73 L445.91 177.24 L446.05 180.10 L446.18 183.25 L446.32 186.64 L446.45 190.22 L446.59 193.94 L446.72 197.74 L446.86 201.61 L446.99 205.69 L447.12 210.02 L447.26 214.59 L447.39 219.39 L447.53 224.41 L447.66 229.64 L447.80 235.08 L447.93 240.71 L448.07 246.52 L448.20 252.50 L448.25 237.13 L448.30 235.54 L448.36 233.95 L448.41 232.37 L448.46 230.80 L448.51 229.23 L448.57 227.67 L448.62 226.12 L448.67 224.57 L448.72 223.03 L448.78 221.50 L448.83 219.98 L448.88 218.46 L448.93 216.96 L448.98 215.46 L449.04 213.98 L449.09 212.50 L449.14 211.04 L449.19 209.59 L449.25 208.15 L449.30 206.72 L449.35 205.31 L449.40 203.91 L449.46 202.52 L449.51 201.15 L449.56 199.79 L449.61 198.45 L449.67 197.12 L449.72 195.81 L449.77 194.51 L449.82 193.24 L449.87 191.97 L449.93 190.73 L449.98 189.50 L450.03 188.29 L450.08 187.11 L450.14 185.93 L450.19 184.78 L450.24 183.65 L450.29 182.54 L450.35 181.45 L450.40 180.38 L450.45 179.33 L450.50 178.31 L450.55 177.30 L450.61 176.32 L450.66 175.36 L450.71 174.43 L450.76 173.52 L450.82 172.63 L450.87 171.76 L450.92 170.92 L450.97 170.11 L451.03 169.32 L451.08 168.55 L451.13 167.82 L451.18 167.10 L451.23 166.42 L451.29 165.76 L451.34 165.12 L451.39 164.52 L451.44 163.94 L451.50 163.39 L451.55 162.86 L451.60 162.37 L451.65 161.90 L451.71 161.46 L451.76 161.05 L451.81 160.67 L451.86 160.32 L451.91 160.00 L451.97 159.71 L452.02 161.39 L452.07 161.21 L452.12 161.05 L452.18 160.93 L452.23 160.83 L452.28 160.77 L452.33 160.73 L452.39 160.72 L452.44 160.75 L452.49 160.80 L452.54 160.89 L452.60 161.00 L452.65 161.15 L452.70 161.33 L452.75 161.54 L452.80 161.78 L452.86 162.05 L452.91 162.35 L452.96 162.69 L453.01 163.05 L453.07 163.45 L453.12 163.87 L453.17 164.33 L453.22 164.82 L453.28 165.34 L453.33 165.88 L453.38 166.46 L453.43 167.07 L453.48 167.71 L453.54 168.38 L453.59 169.08 L453.64 169.80 L453.69 170.56 L453.75 171.34 L453.80 172.15 L453.85 173.00 L453.90 173.86 L453.96 174.76 L454.01 175.69 L454.06 176.64 L454.11 177.61 L454.16 178.62 L454.22 179.65 L454.27 180.71 L454.32 181.79 L454.37 182.90 L454.43 184.03 L454.48 185.19 L454.53 186.37 L454.58 187.57 L454.64 188.80 L454.69 190.05 L454.74 191.32 L454.79 192.61 L454.85 193.93 L454.90 195.27 L454.95 196.63 L455.00 198.00 L455.05 199.40 L455.11 200.82 L455.16 202.25 L455.21 203.71 L455.26 205.18 L455.32 206.67 L455.37 208.17 L455.42 209.69 L455.47 211.23 L455.53 212.78 L455.58 214.35 L455.63 215.93 L455.68 217.52 L455.73 219.13 L455.79 220.75 L455.84 222.38 L455.89 224.02 L455.94 225.68 L456.00 227.34 L456.05 229.01 L456.10 230.69 L456.15 232.38 L456.21 234.08 L456.26 235.79 L456.31 237.50 L456.36 239.21 L456.41 240.94 L456.47 242.66 L456.52 244.39 L456.57 246.13 L456.62 247.86 L456.68 249.60 L456.73 251.34 L456.78 253.08 L456.83 254.82 L456.89 256.56 L456.94 258.30 L456.99 257.57 L457.04 255.83 L457.09 254.10 L457.15 252.38 L457.20 250.66 L457.25 248.95 L457.30 247.24 L457.36 245.54 L457.41 243.84 L457.46 242.16 L457.51 240.48 L457.57 238.81 L457.62 237.16 L457.67 235.51 L457.72 233.88 L457.78 232.25 L457.83 230.64 L457.88 229.05 L457.93 227.46 L457.98 225.90 L458.04 224.34 L458.09 222.81 L458.14 221.29 L458.19 219.79 L458.25 218.30 L458.30 216.83 L458.35 215.38 L458.40 213.96 L458.46 212.55 L458.51 211.16 L458.56 209.79 L458.61 208.45 L458.66 207.12 L458.72 205.82 L458.77 204.54 L458.82 203.29 L458.87 202.06 L458.93 200.85 L458.98 199.67 L459.03 198.52 L459.08 197.39 L459.14 196.29 L459.19 195.21 L459.24 194.16 L459.29 193.14 L459.34 192.15 L459.40 191.18 L459.45 190.25 L459.50 189.34 L459.55 188.46 L459.61 187.61 L459.66 186.80 L459.71 186.01 L459.76 185.25 L459.82 184.53 L459.87 183.84 L459.92 183.18 L459.97 182.55 L460.03 181.96 L460.08 181.39 L460.13 180.87 L460.18 180.37 L460.23 179.91 L460.29 179.48 L460.34 179.09 L460.39 178.73 L460.44 178.40 L460.50 178.11 L460.55 177.86 L460.60 177.64 L460.65 177.45 L460.71 177.29 L460.76 177.18 L460.81 177.09 L460.86 177.04 L460.91 177.03 L460.97 177.05 L461.02 177.10 L461.07 177.19 L461.12 177.31 L461.18 177.47 L461.23 177.66 L461.28 177.88 L461.33 178.14 L461.39 178.43 L461.44 178.76 L461.49 179.11 L461.54 179.50 L461.59 179.93 L461.65 180.38 L461.70 180.87 L461.75 181.39 L461.80 181.94 L461.86 182.52 L461.91 183.14 L461.96 183.78 L462.01 184.45 L462.07 185.16 L462.12 185.89 L462.17 186.65 L462.22 187.45 L462.27 188.27 L462.33 189.11 L462.38 189.99 L462.43 190.89 L462.48 191.82 L462.54 192.77 L462.59 193.75 L462.64 194.76 L462.69 195.79 L462.75 196.84 L462.80 197.92 L462.85 199.02 L462.90 200.14 L462.96 201.28 L463.01 202.45 L463.06 203.63 L463.11 204.84 L463.16 206.06 L463.22 207.31 L463.27 208.57 L463.32 209.85 L463.37 211.15 L463.43 212.46 L463.48 213.79 L463.53 215.14 L463.58 216.49 L463.64 217.87 L463.69 219.25 L463.74 220.65 L463.79 222.06 L463.84 223.48 L463.90 224.91 L463.95 226.36 L464.00 227.81 L464.05 229.27 L464.11 230.73 L464.16 232.21 L464.21 233.69 L464.26 235.17 L464.32 236.66 L464.37 238.16 L464.42 239.66 L464.47 241.16 L464.52 242.66 L464.58 244.17 L464.63 245.68 L464.68 247.18 L464.73 248.69 L464.79 250.20 L464.84 251.70 L464.89 253.20 L464.94 254.70 L465.00 256.19 L465.05 257.68 L465.10 258.44 L465.15 256.96 L465.21 255.49 L465.26 254.02 L465.31 252.57 L465.36 251.12 L465.41 249.68 L465.47 248.25 L465.52 246.83 L465.57 245.42 L465.62 244.03 L465.68 242.64 L465.73 241.27 L465.78 239.91 L465.83 238.57 L465.89 237.24 L465.94 235.93 L465.99 234.64 L466.04 233.36 L466.09 232.10 L466.15 230.85 L466.20 229.63 L466.25 228.42 L466.30 227.24 L466.36 226.07 L466.41 224.93 L466.46 223.80 L466.51 222.70 L466.57 221.62 L466.62 220.57 L466.67 219.53 L466.72 218.52 L466.77 217.54 L466.83 216.58 L466.88 215.64 L466.93 214.73 L466.98 213.85 L467.04 212.99 L467.09 212.16 L467.14 211.35 L467.19 210.57 L467.25 209.82 L467.30 209.10 L467.35 208.41 L467.40 207.74 L467.45 207.10 L467.51 206.49 L467.56 205.91 L467.61 205.36 L467.66 204.84 L467.72 204.35 L467.77 203.89 L467.82 203.46 L467.87 203.05 L467.93 202.68 L467.98 202.34 L468.03 202.03 L468.08 201.75 L468.14 201.50 L468.19 201.28 L468.24 201.09 L468.29 200.93 L468.34 200.80 L468.40 200.70 L468.45 200.63 L468.50 200.59 L468.55 200.58 L468.61 200.61 L468.66 200.66 L468.71 200.74 L468.76 200.85 L468.82 200.99 L468.87 201.16 L468.92 201.36 L468.97 201.59 L469.02 201.85 L469.08 202.13 L469.13 202.45 L469.18 202.79 L469.23 203.16 L469.29 203.55 L469.34 203.98 L469.39 204.43 L469.44 204.90 L469.50 205.41 L469.55 205.93 L469.60 206.49 L469.65 207.07 L469.70 207.67 L469.76 208.30 L469.81 208.95 L469.86 209.62 L469.91 210.32 L469.97 211.04 L470.02 211.78 L470.07 212.55 L470.12 213.33 L470.18 214.14 L470.23 214.96 L470.28 215.81 L470.33 216.67 L470.38 217.55 L470.44 218.45 L470.49 219.37 L470.54 220.31 L470.59 221.26 L470.65 222.23 L470.70 223.21 L470.75 224.21 L470.80 225.22 L470.86 226.24 L470.91 227.28 L470.96 228.33 L471.01 229.39 L471.07 230.46 L471.12 231.55 L471.17 232.64 L471.22 233.74 L471.27 234.86 L471.33 235.98 L471.38 237.10 L471.43 238.24 L471.48 239.38 L471.54 240.52 L471.59 241.67 L471.64 242.83 L471.69 243.99 L471.75 245.15 L471.80 246.32 L471.85 247.49 L471.90 248.66 L471.95 249.83 L472.01 251.00 L472.06 252.16 L472.11 253.33 L472.16 254.50 L472.22 255.66 L472.27 256.83 L472.32 257.98 L472.37 258.46 L472.43 257.32 L472.48 256.17 L472.53 255.04 L472.58 253.91 L472.63 252.78 L472.69 251.67 L472.74 250.56 L472.79 249.47 L472.84 248.38 L472.90 247.30 L472.95 246.24 L473.00 245.18 L473.05 244.14 L473.11 243.11 L473.16 242.09 L473.21 241.09 L473.26 240.10 L473.32 239.13 L473.37 238.17 L473.42 237.22 L473.47 236.30 L473.52 235.39 L473.58 234.50 L473.63 233.62 L473.68 232.76 L473.73 231.93 L473.79 231.11 L473.84 230.31 L473.89 229.53 L473.94 228.77 L474.00 228.03 L474.05 227.31 L474.10 226.61 L474.15 225.94 L474.20 225.29 L474.26 224.66 L474.31 224.05 L474.36 223.47 L474.41 222.91 L474.47 222.37 L474.52 221.85 L474.57 221.36 L474.62 220.90 L474.68 220.46 L474.73 220.04 L474.78 219.65 L474.83 219.29 L474.88 218.95 L474.94 218.63 L474.99 218.34 L475.04 218.08 L475.09 217.84 L475.15 217.63 L475.20 217.44 L475.25 217.28 L475.30 217.14 L475.36 217.03 L475.41 216.95 L475.46 216.89 L475.51 216.86 L475.56 216.86 L475.62 216.88 L475.67 216.92 L475.72 217.00 L475.77 217.09 L475.83 217.22 L475.88 217.36 L475.93 217.54 L475.98 217.73 L476.04 217.96 L476.09 218.20 L476.14 218.48 L476.19 218.77 L476.25 219.09 L476.30 219.43 L476.35 219.80 L476.40 220.19 L476.45 220.60 L476.51 221.04 L476.56 221.50 L476.61 221.97 L476.66 222.47 L476.72 222.99 L476.77 223.54 L476.82 224.10 L476.87 224.68 L476.93 225.28 L476.98 225.90 L477.03 226.54 L477.08 227.20 L477.13 227.87 L477.19 228.56 L477.24 229.27 L477.29 230.00 L477.34 230.74 L477.40 231.49 L477.45 232.26 L477.50 233.05 L477.55 233.84 L477.61 234.65 L477.66 235.48 L477.71 236.31 L477.76 237.16 L477.81 238.01 L477.87 238.88 L477.92 239.76 L477.97 240.64 L478.02 241.54 L478.08 242.44 L478.13 243.35 L478.18 244.26 L478.23 245.18 L478.29 246.11 L478.34 247.04 L478.39 247.97 L478.44 248.91 L478.50 249.85 L478.55 250.79 L478.60 251.73 L478.65 252.68 L478.70 253.62 L478.76 254.57 L478.81 255.51 L478.86 256.45 L478.91 257.39 L478.97 258.33 L479.02 258.34 L479.07 257.41 L479.12 256.49 L479.18 255.57 L479.23 254.66 L479.28 253.75 L479.33 252.85 L479.38 251.96 L479.44 251.08 L479.49 250.20 L479.54 249.34 L479.59 248.48 L479.65 247.64 L479.70 246.81 L479.75 245.98 L479.80 245.18 L479.86 244.38 L479.91 243.59 L479.96 242.83 L480.01 242.07 L480.06 241.33 L480.12 240.60 L480.17 239.89 L480.22 239.20 L480.27 238.52 L480.33 237.86 L480.38 237.21 L480.43 236.59 L480.48 235.98 L480.54 235.39 L480.59 234.82 L480.64 234.26 L480.69 233.73 L480.74 233.22 L480.80 232.72 L480.85 232.25 L480.90 231.80 L480.95 231.37 L481.01 230.96 L481.06 230.57 L481.11 230.20 L481.16 229.86 L481.22 229.53 L481.27 229.23 L481.32 228.95 L481.37 228.69 L481.43 228.46 L481.48 228.25 L481.53 228.06 L481.58 227.89 L481.63 227.75 L481.69 227.62 L481.74 227.53 L481.79 227.45 L481.84 227.40 L481.90 227.37 L481.95 227.36 L482.00 227.37 L482.05 227.41 L482.11 227.47 L482.16 227.56 L482.21 227.66 L482.26 227.79 L482.31 227.94 L482.37 228.11 L482.42 228.30 L482.47 228.51 L482.52 228.75 L482.58 229.00 L482.63 229.28 L482.68 229.58 L482.73 229.90 L482.79 230.23 L482.84 230.59 L482.89 230.96 L482.94 231.36 L482.99 231.77 L483.05 232.20 L483.10 232.65 L483.15 233.12 L483.20 233.60 L483.26 234.10 L483.31 234.62 L483.36 235.15 L483.41 235.70 L483.47 236.26 L483.52 236.84 L483.57 237.43 L483.62 238.03 L483.68 238.64 L483.73 239.27 L483.78 239.91 L483.83 240.57 L483.88 241.23 L483.94 241.90 L483.99 242.58 L484.04 243.28 L484.09 243.98 L484.15 244.68 L484.20 245.40 L484.25 246.12 L484.30 246.85 L484.36 247.59 L484.41 248.33 L484.46 249.07 L484.51 249.82 L484.56 250.57 L484.62 251.33 L484.67 252.08 L484.72 252.84 L484.77 253.60 L484.83 254.36 L484.88 255.12 L484.93 255.88 L484.98 256.64 L485.04 257.39 L485.09 258.15 L485.14 258.70 L485.19 257.96 L485.24 257.22 L485.30 256.48 L485.35 255.75 L485.40 255.02 L485.45 254.30 L485.51 253.59 L485.56 252.89 L485.61 252.19 L485.66 251.51 L485.72 250.83 L485.77 250.16 L485.82 249.50 L485.87 248.86 L485.92 248.22 L485.98 247.60 L486.03 246.98 L486.08 246.38 L486.13 245.80 L486.19 245.22 L486.24 244.66 L486.29 244.12 L486.34 243.59 L486.40 243.07 L486.45 242.57 L486.50 242.09 L486.55 241.62 L486.61 241.17 L486.66 240.73 L486.71 240.31 L486.76 239.91 L486.81 239.52 L486.87 239.16 L486.92 238.81 L486.97 238.48 L487.02 238.16 L487.08 237.87 L487.13 237.59 L487.18 237.33 L487.23 237.10 L487.29 236.88 L487.34 236.68 L487.39 236.49 L487.44 236.33 L487.49 236.19 L487.55 236.07 L487.60 235.96 L487.65 235.88 L487.70 235.81 L487.76 235.76 L487.81 235.74 L487.86 235.73 L487.91 235.74 L487.97 235.77 L488.02 235.82 L488.07 235.89 L488.12 235.97 L488.17 236.08 L488.23 236.20 L488.28 236.34 L488.33 236.50 L488.38 236.68 L488.44 236.87 L488.49 237.08 L488.54 237.31 L488.59 237.55 L488.65 237.81 L488.70 238.09 L488.75 238.39 L488.80 238.69 L488.86 239.02 L488.91 239.36 L488.96 239.71 L489.01 240.08 L489.06 240.46 L489.12 240.85 L489.17 241.26 L489.22 241.68 L489.27 242.11 L489.33 242.56 L489.38 243.01 L489.43 243.48 L489.48 243.95 L489.54 244.44 L489.59 244.93 L489.64 245.44 L489.69 245.95 L489.74 246.47 L489.80 247.00 L489.85 247.54 L489.90 248.08 L489.95 248.63 L490.01 249.19 L490.06 249.75 L490.11 250.31 L490.16 250.88 L490.22 251.45 L490.27 252.03 L490.32 252.61 L490.37 253.19 L490.42 253.77 L490.48 254.36 L490.53 254.94 L490.58 255.52 L490.63 256.11 L490.69 256.69 L490.74 257.27 L490.79 257.85 L490.84 258.43 L490.90 258.59 L490.95 258.02 L491.00 257.45 L491.05 256.89 L491.10 256.33 L491.16 255.78 L491.21 255.23 L491.26 254.69 L491.31 254.15 L491.37 253.62 L491.42 253.10 L491.47 252.59 L491.52 252.08 L491.58 251.58 L491.63 251.09 L491.68 250.62 L491.73 250.15 L491.79 249.69 L491.84 249.24 L491.89 248.80 L491.94 248.38 L491.99 247.96 L492.05 247.56 L492.10 247.17 L492.15 246.79 L492.20 246.42 L492.26 246.07 L492.31 245.73 L492.36 245.41 L492.41 245.10 L492.47 244.80 L492.52 244.51 L492.57 244.25 L492.62 243.99 L492.67 243.75 L492.73 243.53 L492.78 243.32 L492.83 243.12 L492.88 242.94 L492.94 242.78 L492.99 242.63 L493.04 242.50 L493.09 242.38 L493.15 242.28 L493.20 242.20 L493.25 242.13 L493.30 242.07 L493.35 242.03 L493.41 242.01 L493.46 242.00 L493.51 242.01 L493.56 242.04 L493.62 242.08 L493.67 242.13 L493.72 242.20 L493.77 242.29 L493.83 242.38 L493.88 242.50 L493.93 242.63 L493.98 242.77 L494.04 242.93 L494.09 243.10 L494.14 243.29 L494.19 243.49 L494.24 243.70 L494.30 243.92 L494.35 244.16 L494.40 244.41 L494.45 244.68 L494.51 244.95 L494.56 245.24 L494.61 245.54 L494.66 245.85 L494.72 246.17 L494.77 246.50 L494.82 246.84 L494.87 247.19 L494.92 247.54 L494.98 247.91 L495.03 248.29 L495.08 248.67 L495.13 249.06 L495.19 249.46 L495.24 249.87 L495.29 250.28 L495.34 250.70 L495.40 251.12 L495.45 251.55 L495.50 251.98 L495.55 252.42 L495.60 252.86 L495.66 253.31 L495.71 253.75 L495.76 254.20 L495.81 254.66 L495.87 255.11 L495.92 255.57 L495.97 256.02 L496.02 256.48 L496.08 256.93 L496.13 257.39 L496.18 257.84 L496.23 258.30 L496.28 258.75 L496.34 258.41 L496.39 257.96 L496.44 257.52 L496.49 257.08 L496.55 256.65 L496.60 256.22 L496.65 255.79 L496.70 255.37 L496.76 254.96 L496.81 254.55 L496.86 254.15 L496.91 253.75 L496.97 253.36 L497.02 252.98 L497.07 252.61 L497.12 252.25 L497.17 251.89 L497.23 251.54 L497.28 251.21 L497.33 250.88 L497.38 250.56 L497.44 250.25 L497.49 249.95 L497.54 249.67 L497.59 249.39 L497.65 249.12 L497.70 248.87 L497.75 248.63 L497.80 248.39 L497.85 248.17 L497.91 247.97 L497.96 247.77 L498.01 247.59 L498.06 247.42 L498.12 247.26 L498.17 247.11 L498.22 246.98 L498.27 246.86 L498.33 246.75 L498.38 246.66 L498.43 246.57 L498.48 246.51 L498.53 246.45 L498.59 246.41 L498.64 246.38 L498.69 246.36 L498.74 246.36 L498.80 246.37 L498.85 246.39 L498.90 246.42 L498.95 246.47 L499.01 246.53 L499.06 246.60 L499.11 246.68 L499.16 246.78 L499.22 246.89 L499.27 247.01 L499.32 247.14 L499.37 247.28 L499.42 247.44 L499.48 247.60 L499.53 247.78 L499.58 247.97 L499.63 248.16 L499.69 248.37 L499.74 248.58 L499.79 248.81 L499.84 249.05 L499.90 249.29 L499.95 249.54 L500.00 249.80 L500.05 250.07 L500.10 250.35 L500.16 250.63 L500.21 250.93 L500.26 251.22 L500.31 251.53 L500.37 251.84 L500.42 252.15 L500.47 252.47 L500.52 252.80 L500.58 253.13 L500.63 253.46 L500.68 253.80 L500.73 254.14 L500.78 254.49 L500.84 254.83 L500.89 255.18 L500.94 255.53 L500.99 255.88 L501.05 256.24 L501.10 256.59 L501.15 256.94 L501.20 257.30 L501.26 257.65 L501.31 258.00 L501.36 258.35 L501.41 258.70 L501.46 258.55 L501.52 258.21 L501.57 257.87 L501.62 257.53 L501.67 257.19 L501.73 256.86 L501.78 256.53 L501.83 256.21 L501.88 255.89 L501.94 255.58 L501.99 255.28 L502.04 254.97 L502.09 254.68 L502.15 254.39 L502.20 254.11 L502.25 253.83 L502.30 253.57 L502.35 253.31 L502.41 253.06 L502.46 252.81 L502.51 252.58 L502.56 252.35 L502.62 252.13 L502.67 251.92 L502.72 251.72 L502.77 251.53 L502.83 251.34 L502.88 251.17 L502.93 251.01 L502.98 250.85 L503.03 250.71 L503.09 250.58 L503.14 250.45 L503.19 250.34 L503.24 250.24 L503.30 250.14 L503.35 250.06 L503.40 249.99 L503.45 249.93 L503.51 249.88 L503.56 249.84 L503.61 249.81 L503.66 249.79 L503.71 249.78 L503.77 249.78 L503.82 249.79 L503.87 249.81 L503.92 249.84 L503.98 249.88 L504.03 249.93 L504.08 249.99 L504.13 250.06 L504.19 250.14 L504.24 250.23 L504.29 250.33 L504.34 250.44 L504.39 250.56 L504.45 250.68 L504.50 250.81 L504.55 250.96 L504.60 251.11 L504.66 251.26 L504.71 251.43 L504.76 251.60 L504.81 251.78 L504.87 251.97 L504.92 252.16 L504.97 252.36 L505.02 252.57 L505.08 252.78 L505.13 253.00 L505.18 253.22 L505.23 253.45 L505.28 253.68 L505.34 253.92 L505.39 254.16 L505.44 254.40 L505.49 254.65 L505.55 254.90 L505.60 255.15 L505.65 255.41 L505.70 255.67 L505.76 255.93 L505.81 256.19 L505.86 256.46 L505.91 256.72 L505.96 256.99 L506.02 257.25 L506.07 257.52 L506.12 257.78 L506.17 258.05 L506.23 258.31 L506.28 258.57 L506.33 258.77 L506.38 258.51 L506.44 258.25 L506.49 258.00 L506.54 257.74 L506.59 257.49 L506.64 257.25 L506.70 257.01 L506.75 256.77 L506.80 256.53 L506.85 256.30 L506.91 256.08 L506.96 255.86 L507.01 255.64 L507.06 255.43 L507.12 255.22 L507.17 255.02 L507.22 254.83 L507.27 254.64 L507.33 254.46 L507.38 254.28 L507.43 254.12 L507.48 253.95 L507.53 253.80 L507.59 253.65 L507.64 253.51 L507.69 253.38 L507.74 253.25 L507.80 253.13 L507.85 253.02 L507.90 252.92 L507.95 252.82 L508.01 252.74 L508.06 252.66 L508.11 252.59 L508.16 252.52 L508.21 252.47 L508.27 252.42 L508.32 252.39 L508.37 252.36 L508.42 252.33 L508.48 252.32 L508.53 252.31 L508.58 252.32 L508.63 252.33 L508.69 252.35 L508.74 252.37 L508.79 252.41 L508.84 252.45 L508.89 252.50 L508.95 252.55 L509.00 252.62 L509.05 252.69 L509.10 252.77 L509.16 252.86 L509.21 252.95 L509.26 253.05 L509.31 253.15 L509.37 253.27 L509.42 253.38 L509.47 253.51 L509.52 253.64 L509.57 253.78 L509.63 253.92 L509.68 254.06 L509.73 254.21 L509.78 254.37 L509.84 254.53 L509.89 254.70 L509.94 254.87 L509.99 255.04 L510.05 255.21 L510.10 255.39 L510.15 255.58 L510.20 255.76 L510.26 255.95 L510.31 256.14 L510.36 256.33 L510.41 256.53 L510.46 256.72 L510.52 256.92 L510.57 257.12 L510.62 257.32 L510.67 257.52 L510.73 257.72 L510.78 257.91 L510.83 258.11 L510.88 258.31 L510.94 258.51 L510.99 258.71 L511.04 258.70 L511.09 258.50 L511.14 258.31 L511.20 258.12 L511.25 257.93 L511.30 257.75 L511.35 257.56 L511.41 257.38 L511.46 257.21 L511.51 257.03 L511.56 256.87 L511.62 256.70 L511.67 256.54 L511.72 256.38 L511.77 256.22 L511.82 256.08 L511.88 255.93 L511.93 255.79 L511.98 255.66 L512.03 255.53 L512.09 255.40 L512.14 255.28 L512.19 255.17 L512.24 255.06 L512.30 254.96 L512.35 254.86 L512.40 254.77 L512.45 254.69 L512.51 254.61 L512.56 254.53 L512.61 254.47 L512.66 254.41 L512.71 254.35 L512.77 254.31 L512.82 254.26 L512.87 254.23 L512.92 254.20 L512.98 254.18 L513.03 254.16 L513.08 254.15 L513.13 254.15 L513.19 254.15 L513.24 254.16 L513.29 254.17 L513.34 254.19 L513.39 254.22 L513.45 254.25 L513.50 254.29 L513.55 254.34 L513.60 254.39 L513.66 254.44 L513.71 254.50 L513.76 254.57 L513.81 254.64 L513.87 254.72 L513.92 254.80 L513.97 254.89 L514.02 254.98 L514.07 255.07 L514.13 255.17 L514.18 255.28 L514.23 255.39 L514.28 255.50 L514.34 255.62 L514.39 255.74 L514.44 255.86 L514.49 255.98 L514.55 256.11 L514.60 256.24 L514.65 256.38 L514.70 256.52 L514.75 256.65 L514.81 256.80 L514.86 256.94 L514.91 257.08 L514.96 257.23 L515.02 257.38 L515.07 257.52 L515.12 257.67 L515.17 257.82 L515.23 257.97 L515.28 258.12 L515.33 258.27 L515.38 258.42 L515.44 258.57 L515.49 258.72 L515.54 258.73 L515.59 258.59 L515.64 258.44 L515.70 258.30 L515.75 258.16 L515.80 258.02 L515.85 257.88 L515.91 257.74 L515.96 257.61 L516.01 257.47 L516.06 257.35 L516.12 257.22 L516.17 257.10 L516.22 256.98 L516.27 256.86 L516.32 256.75 L516.38 256.64 L516.43 256.53 L516.48 256.43 L516.53 256.33 L516.59 256.24 L516.64 256.15 L516.69 256.06 L516.74 255.98 L516.80 255.91 L516.85 255.83 L516.90 255.77 L516.95 255.71 L517.00 255.65 L517.06 255.59 L517.11 255.55 L517.16 255.50 L517.21 255.47 L517.27 255.43 L517.32 255.41 L517.37 255.38 L517.42 255.36 L517.48 255.35 L517.53 255.34 L517.58 255.34 L517.63 255.34 L517.69 255.35 L517.74 255.36 L517.79 255.38 L517.84 255.40 L517.89 255.43 L517.95 255.46 L518.00 255.49 L518.05 255.53 L518.10 255.58 L518.16 255.63 L518.21 255.68 L518.26 255.74 L518.31 255.80 L518.37 255.87 L518.42 255.94 L518.47 256.01 L518.52 256.09 L518.57 256.17 L518.63 256.25 L518.68 256.34 L518.73 256.43 L518.78 256.52 L518.84 256.61 L518.89 256.71 L518.94 256.81 L518.99 256.92 L519.05 257.02 L519.10 257.13 L519.15 257.24 L519.20 257.35 L519.25 257.46 L519.31 257.57 L519.36 257.69 L519.41 257.80 L519.46 257.92 L519.52 258.04 L519.57 258.15 L519.62 258.27 L519.67 258.39 L519.73 258.51 L519.78 258.62 L519.83 258.74 L519.88 258.74 L519.93 258.63 L519.99 258.51 L520.04 258.40 L520.09 258.28 L520.14 258.17 L520.20 258.06 L520.25 257.96 L520.30 257.85 L520.35 257.74 L520.41 257.64 L520.46 257.54 L520.51 257.44 L520.56 257.35 L520.62 257.26 L520.67 257.17 L520.72 257.08 L520.77 256.99 L520.82 256.91 L520.88 256.84 L520.93 256.76 L520.98 256.69 L521.03 256.62 L521.09 256.56 L521.14 256.50 L521.19 256.44 L521.24 256.39 L521.30 256.34 L521.35 256.29 L521.40 256.25" fill="none" stroke="#a23ee6" stroke-width="1" stroke-linejoin="round"/>
<path d="M396.20 258.80 L396.51 257.49 L396.83 256.18 L397.14 254.85 L397.46 253.52 L397.77 252.18 L398.08 250.84 L398.40 249.48 L398.71 248.12 L399.02 246.75 L399.34 245.38 L399.65 244.00 L399.97 242.61 L400.28 241.22 L400.59 239.82 L400.91 238.42 L401.22 237.01 L401.53 235.60 L401.85 234.21 L402.16 232.82 L402.48 231.42 L402.79 230.01 L403.10 228.57 L403.42 227.09 L403.73 225.58 L404.04 224.02 L404.36 222.39 L404.67 220.68 L404.99 218.89 L405.30 217.03 L405.61 215.11 L405.93 213.17 L406.24 211.21 L406.55 209.25 L406.87 207.30 L407.18 205.39 L407.50 203.53 L407.81 201.64 L408.12 199.72 L408.44 197.80 L408.75 195.89 L409.07 194.02 L409.38 192.23 L409.69 190.53 L410.01 188.94 L410.32 187.49 L410.63 186.11 L410.95 184.79 L411.26 183.53 L411.58 182.32 L411.89 181.14 L412.20 179.98 L412.52 178.84 L412.83 177.71 L413.14 176.58 L413.46 175.47 L413.77 174.38 L414.09 173.30 L414.40 172.25 L414.71 171.21 L415.03 170.19 L415.34 169.17 L415.65 168.16 L415.97 167.16 L416.28 166.16 L416.60 165.15 L416.91 164.15 L417.22 163.17 L417.54 162.21 L417.85 161.28 L418.16 160.38 L418.48 159.52 L418.79 158.70 L419.11 157.89 L419.42 157.09 L419.73 156.32 L420.05 155.57 L420.36 154.85 L420.68 154.17 L420.99 153.53 L421.30 152.94 L421.62 152.40 L421.93 151.88 L422.24 151.35 L422.56 150.83 L422.87 150.33 L423.19 149.86 L423.50 149.41 L423.81 149.00 L424.13 148.63 L424.44 148.31 L424.75 148.05 L425.07 147.86 L425.38 147.73 L425.70 147.61 L426.01 147.50 L426.32 147.41 L426.64 147.34 L426.95 147.30 L427.26 147.31 L427.58 147.40 L427.89 147.56 L428.21 147.79 L428.52 148.09 L428.83 148.43 L429.15 148.82 L429.46 149.25 L429.77 149.70 L430.09 150.17 L430.40 150.67 L430.72 151.28 L431.03 152.03 L431.34 152.92 L431.66 153.92 L431.97 155.03 L432.29 156.24 L432.60 157.53 L432.91 158.88 L433.23 160.30 L433.54 161.76 L433.85 163.27 L434.17 165.01 L434.48 167.03 L434.80 169.25 L435.11 171.58 L435.42 173.92 L435.74 176.20 L436.05 178.34 L436.36 180.68 L436.68 183.28 L436.99 185.89 L437.31 188.29 L437.62 190.25 L437.93 191.52 L438.25 191.89 L438.56 191.42 L438.87 190.35 L439.19 188.84 L439.50 187.07 L439.82 185.18 L440.13 183.36 L440.44 181.75 L440.76 180.34 L441.07 178.83 L441.38 177.29 L441.70 175.78 L442.01 174.34 L442.33 173.04 L442.64 171.94 L442.95 171.10 L443.27 170.45 L443.58 169.82 L443.90 169.22 L444.21 168.65 L444.52 168.14 L444.84 167.68 L445.15 167.29 L445.46 166.98 L445.78 166.75 L446.09 166.62 L446.41 166.61 L446.72 166.69 L447.03 166.86 L447.35 167.11 L447.66 167.43 L447.97 167.82 L448.29 168.26 L448.60 168.75 L448.92 169.27 L449.23 169.81 L449.54 170.38 L449.86 170.95 L450.17 171.52 L450.48 172.09 L450.80 172.63 L451.11 173.16 L451.43 173.72 L451.74 174.31 L452.05 174.93 L452.37 175.57 L452.68 176.24 L452.99 176.92 L453.31 177.62 L453.62 178.34 L453.94 179.07 L454.25 179.81 L454.56 180.56 L454.88 181.31 L455.19 182.06 L455.51 182.82 L455.82 183.57 L456.13 184.32 L456.45 185.07 L456.76 185.84 L457.07 186.62 L457.39 187.40 L457.70 188.19 L458.02 189.00 L458.33 189.80 L458.64 190.62 L458.96 191.44 L459.27 192.27 L459.58 193.10 L459.90 193.94 L460.21 194.78 L460.53 195.63 L460.84 196.48 L461.15 197.33 L461.47 198.18 L461.78 199.04 L462.09 199.89 L462.41 200.75 L462.72 201.61 L463.04 202.49 L463.35 203.39 L463.66 204.30 L463.98 205.22 L464.29 206.15 L464.61 207.10 L464.92 208.04 L465.23 208.99 L465.55 209.94 L465.86 210.88 L466.17 211.83 L466.49 212.76 L466.80 213.69 L467.12 214.60 L467.43 215.50 L467.74 216.39 L468.06 217.25 L468.37 218.10 L468.68 218.92 L469.00 219.72 L469.31 220.49 L469.63 221.23 L469.94 221.96 L470.25 222.69 L470.57 223.40 L470.88 224.10 L471.19 224.79 L471.51 225.47 L471.82 226.14 L472.14 226.80 L472.45 227.46 L472.76 228.10 L473.08 228.74 L473.39 229.38 L473.70 230.00 L474.02 230.62 L474.33 231.24 L474.65 231.84 L474.96 232.45 L475.27 233.05 L475.59 233.64 L475.90 234.23 L476.22 234.82 L476.53 235.40 L476.84 235.98 L477.16 236.56 L477.47 237.14 L477.78 237.71 L478.10 238.29 L478.41 238.86 L478.73 239.43 L479.04 240.01 L479.35 240.58 L479.67 241.15 L479.98 241.72 L480.29 242.28 L480.61 242.84 L480.92 243.40 L481.24 243.95 L481.55 244.50 L481.86 245.04 L482.18 245.59 L482.49 246.12 L482.80 246.66 L483.12 247.19 L483.43 247.71 L483.75 248.23 L484.06 248.75 L484.37 249.26 L484.69 249.77 L485.00 250.27 L485.31 250.77 L485.63 251.27 L485.94 251.76 L486.26 252.25 L486.57 252.78 L486.88 253.35 L487.20 253.93 L487.51 254.53 L487.83 255.13 L488.14 255.71 L488.45 256.26 L488.77 256.78 L489.08 257.23 L489.39 257.63 L489.71 257.94 L490.02 258.16 L490.34 258.28 L490.65 258.30 L490.96 258.27 L491.28 258.23 L491.59 258.17 L491.90 258.09 L492.22 257.99 L492.53 257.88 L492.85 257.77 L493.16 257.64 L493.47 257.52 L493.79 257.39 L494.10 257.25 L494.41 257.13 L494.73 257.00 L495.04 256.89 L495.36 256.78 L495.67 256.68 L495.98 256.60 L496.30 256.53 L496.61 256.46 L496.92 256.38 L497.24 256.30 L497.55 256.23 L497.87 256.15 L498.18 256.07 L498.49 256.00 L498.81 255.93 L499.12 255.86 L499.44 255.79 L499.75 255.73 L500.06 255.67 L500.38 255.61 L500.69 255.56 L501.00 255.52 L501.32 255.48 L501.63 255.45 L501.95 255.42 L502.26 255.41 L502.57 255.40 L502.89 255.40 L503.20 255.41 L503.51 255.42 L503.83 255.44 L504.14 255.47 L504.46 255.50 L504.77 255.54 L505.08 255.58 L505.40 255.62 L505.71 255.67 L506.02 255.72 L506.34 255.77 L506.65 255.83 L506.97 255.88 L507.28 255.94 L507.59 256.00 L507.91 256.05 L508.22 256.11 L508.53 256.17 L508.85 256.22 L509.16 256.27 L509.48 256.32 L509.79 256.37 L510.10 256.41 L510.42 256.46 L510.73 256.50 L511.05 256.54 L511.36 256.59 L511.67 256.63 L511.99 256.68 L512.30 256.72 L512.61 256.76 L512.93 256.81 L513.24 256.85 L513.56 256.89 L513.87 256.94 L514.18 256.98 L514.50 257.03 L514.81 257.07 L515.12 257.11 L515.44 257.16 L515.75 257.20 L516.07 257.25 L516.38 257.29 L516.69 257.33 L517.01 257.38 L517.32 257.42 L517.63 257.47 L517.95 257.51 L518.26 257.56 L518.58 257.60 L518.89 257.64 L519.20 257.69 L519.52 257.73 L519.83 257.78 L520.14 257.82 L520.46 257.87 L520.77 257.91 L521.09 257.96 L521.40 258.00" fill="none" stroke="#6a9a3a" stroke-width="1.15" />
<path d="M396.20 258.80 L396.51 257.49 L396.83 256.18 L397.14 254.85 L397.46 253.52 L397.77 252.18 L398.08 250.84 L398.40 249.48 L398.71 248.12 L399.02 246.75 L399.34 245.38 L399.65 244.00 L399.97 242.61 L400.28 241.22 L400.59 239.82 L400.91 238.42 L401.22 237.01 L401.53 235.60 L401.85 234.21 L402.16 232.82 L402.48 231.42 L402.79 230.01 L403.10 228.57 L403.42 227.09 L403.73 225.58 L404.04 224.02 L404.36 222.39 L404.67 220.68 L404.99 218.89 L405.30 217.03 L405.61 215.11 L405.93 213.17 L406.24 211.21 L406.55 209.25 L406.87 207.30 L407.18 205.39 L407.50 203.53 L407.81 201.64 L408.12 199.72 L408.44 197.80 L408.75 195.89 L409.07 194.02 L409.38 192.23 L409.69 190.53 L410.01 188.94 L410.32 187.49 L410.63 186.11 L410.95 184.79 L411.26 183.53 L411.58 182.32 L411.89 181.14 L412.20 179.98 L412.52 178.84 L412.83 177.71 L413.14 176.58 L413.46 175.47 L413.77 174.38 L414.09 173.30 L414.40 172.25 L414.71 171.21 L415.03 170.19 L415.34 169.17 L415.65 168.16 L415.97 167.16 L416.28 166.16 L416.60 165.15 L416.91 164.15 L417.22 163.17 L417.54 162.21 L417.85 161.28 L418.16 160.38 L418.48 159.52 L418.79 158.70 L419.11 157.89 L419.42 157.09 L419.73 156.32 L420.05 155.57 L420.36 154.85 L420.68 154.17 L420.99 153.53 L421.30 152.94 L421.62 152.40 L421.93 151.88 L422.24 151.35 L422.56 150.83 L422.87 150.33 L423.19 149.86 L423.50 149.41 L423.81 149.00 L424.13 148.63 L424.44 148.31 L424.75 148.05 L425.07 147.86 L425.38 147.73 L425.70 147.61 L426.01 147.50 L426.32 147.41 L426.64 147.34 L426.95 147.30 L427.26 147.32 L427.58 147.50 L427.89 147.80 L428.21 148.21 L428.52 148.70 L428.83 149.22 L429.15 149.78 L429.46 150.52 L429.77 151.44 L430.09 152.47 L430.40 153.56 L430.72 154.71 L431.03 155.98 L431.34 157.41 L431.66 159.05 L431.97 160.97 L432.29 163.42 L432.60 166.48 L432.91 170.16 L433.23 175.19 L433.54 181.71 L433.85 188.98 L434.17 196.27 L434.48 202.85 L434.80 208.26 L435.11 213.17 L435.42 217.78 L435.74 222.19 L436.05 226.53 L436.36 230.94 L436.68 236.25 L436.99 241.72 L437.31 245.94 L437.62 247.49 L437.93 245.53 L438.25 241.07 L438.56 235.54 L438.87 230.36 L439.19 225.81 L439.50 220.94 L439.82 215.84 L440.13 210.64 L440.44 205.42 L440.76 200.30 L441.07 195.37 L441.38 190.75 L441.70 186.54 L442.01 182.85 L442.33 179.77 L442.64 177.10 L442.95 174.66 L443.27 172.48 L443.58 170.57 L443.90 168.97 L444.21 167.62 L444.52 166.37 L444.84 165.21 L445.15 164.16 L445.46 163.23 L445.78 162.45 L446.09 161.82 L446.41 161.36 L446.72 160.95 L447.03 160.55 L447.35 160.19 L447.66 159.86 L447.97 159.56 L448.29 159.32 L448.60 159.12 L448.92 158.98 L449.23 158.91 L449.54 158.91 L449.86 158.96 L450.17 159.07 L450.48 159.23 L450.80 159.42 L451.11 159.65 L451.43 159.89 L451.74 160.15 L452.05 160.42 L452.37 160.69 L452.68 160.96 L452.99 161.26 L453.31 161.59 L453.62 161.95 L453.94 162.35 L454.25 162.76 L454.56 163.20 L454.88 163.66 L455.19 164.14 L455.51 164.63 L455.82 165.14 L456.13 165.65 L456.45 166.20 L456.76 166.77 L457.07 167.38 L457.39 168.02 L457.70 168.69 L458.02 169.38 L458.33 170.09 L458.64 170.82 L458.96 171.57 L459.27 172.34 L459.58 173.11 L459.90 173.90 L460.21 174.73 L460.53 175.59 L460.84 176.48 L461.15 177.40 L461.47 178.34 L461.78 179.30 L462.09 180.27 L462.41 181.27 L462.72 182.27 L463.04 183.27 L463.35 184.28 L463.66 185.29 L463.98 186.30 L464.29 187.29 L464.61 188.28 L464.92 189.25 L465.23 190.20 L465.55 191.14 L465.86 192.07 L466.17 193.01 L466.49 193.96 L466.80 194.91 L467.12 195.86 L467.43 196.82 L467.74 197.77 L468.06 198.72 L468.37 199.67 L468.68 200.60 L469.00 201.53 L469.31 202.44 L469.63 203.34 L469.94 204.23 L470.25 205.09 L470.57 205.93 L470.88 206.75 L471.19 207.55 L471.51 208.31 L471.82 209.05 L472.14 209.77 L472.45 210.46 L472.76 211.15 L473.08 211.82 L473.39 212.47 L473.70 213.12 L474.02 213.75 L474.33 214.37 L474.65 214.98 L474.96 215.58 L475.27 216.17 L475.59 216.75 L475.90 217.32 L476.22 217.89 L476.53 218.44 L476.84 219.00 L477.16 219.55 L477.47 220.09 L477.78 220.63 L478.10 221.17 L478.41 221.70 L478.73 222.22 L479.04 222.74 L479.35 223.25 L479.67 223.75 L479.98 224.25 L480.29 224.74 L480.61 225.22 L480.92 225.70 L481.24 226.18 L481.55 226.65 L481.86 227.11 L482.18 227.58 L482.49 228.04 L482.80 228.49 L483.12 228.94 L483.43 229.39 L483.75 229.84 L484.06 230.28 L484.37 230.73 L484.69 231.17 L485.00 231.62 L485.31 232.07 L485.63 232.51 L485.94 232.95 L486.26 233.40 L486.57 233.84 L486.88 234.27 L487.20 234.70 L487.51 235.13 L487.83 235.56 L488.14 235.98 L488.45 236.39 L488.77 236.80 L489.08 237.20 L489.39 237.59 L489.71 237.97 L490.02 238.35 L490.34 238.72 L490.65 239.08 L490.96 239.43 L491.28 239.77 L491.59 240.09 L491.90 240.41 L492.22 240.73 L492.53 241.04 L492.85 241.35 L493.16 241.65 L493.47 241.94 L493.79 242.23 L494.10 242.52 L494.41 242.80 L494.73 243.08 L495.04 243.35 L495.36 243.62 L495.67 243.89 L495.98 244.15 L496.30 244.41 L496.61 244.66 L496.92 244.91 L497.24 245.16 L497.55 245.41 L497.87 245.65 L498.18 245.88 L498.49 246.12 L498.81 246.35 L499.12 246.58 L499.44 246.81 L499.75 247.03 L500.06 247.26 L500.38 247.48 L500.69 247.70 L501.00 247.92 L501.32 248.13 L501.63 248.35 L501.95 248.56 L502.26 248.77 L502.57 248.98 L502.89 249.18 L503.20 249.39 L503.51 249.58 L503.83 249.78 L504.14 249.97 L504.46 250.16 L504.77 250.35 L505.08 250.53 L505.40 250.71 L505.71 250.88 L506.02 251.06 L506.34 251.22 L506.65 251.38 L506.97 251.54 L507.28 251.70 L507.59 251.84 L507.91 251.99 L508.22 252.13 L508.53 252.28 L508.85 252.42 L509.16 252.56 L509.48 252.70 L509.79 252.83 L510.10 252.96 L510.42 253.10 L510.73 253.22 L511.05 253.35 L511.36 253.47 L511.67 253.59 L511.99 253.71 L512.30 253.83 L512.61 253.94 L512.93 254.05 L513.24 254.16 L513.56 254.26 L513.87 254.36 L514.18 254.46 L514.50 254.55 L514.81 254.64 L515.12 254.73 L515.44 254.81 L515.75 254.89 L516.07 254.97 L516.38 255.05 L516.69 255.12 L517.01 255.20 L517.32 255.27 L517.63 255.34 L517.95 255.41 L518.26 255.47 L518.58 255.54 L518.89 255.60 L519.20 255.66 L519.52 255.72 L519.83 255.77 L520.14 255.82 L520.46 255.87 L520.77 255.92 L521.09 255.96 L521.40 256.00" fill="none" stroke="#111" stroke-width="1.25" stroke-dasharray="3 1.8"/>
<rect x="396.2" y="147.3" width="125.2" height="111.7" fill="none" stroke="#404040" stroke-width="1"/>
<text x="398" y="156.6" font-size="10.2" fill="#231f20" textLength="16.6" lengthAdjust="spacingAndGlyphs" >Δω</text>
<line x1="398" y1="160.1" x2="416" y2="160.1" stroke="#231f20" stroke-width="1.2" />
<text x="401" y="170.4" font-size="10" fill="#231f20" textLength="12.6" lengthAdjust="spacingAndGlyphs" >2π</text>
<text x="467.8" y="174.5" font-size="10" fill="#231f20" textLength="17.4" lengthAdjust="spacingAndGlyphs" >Null</text>
<text x="467.8" y="187.3" font-size="10" fill="#231f20" textLength="48" lengthAdjust="spacingAndGlyphs" >frequencies</text>
<line x1="480" y1="193.6" x2="472.93" y2="214.01" stroke="#a23ee6" stroke-width="1.1" />
<path d="M471.1 219.3 L470.65 210.68 L472.93 214.01 L476.79 212.8 Z" fill="#a23ee6" stroke="none" stroke-width="1" />
<text x="487.9" y="214.5" font-size="10" fill="#231f20" textLength="27.8" lengthAdjust="spacingAndGlyphs" >Higher</text>
<text x="488" y="228.6" font-size="10.4" fill="#231f20" textLength="16.2" lengthAdjust="spacingAndGlyphs" >Δω</text>
<line x1="497.5" y1="232.4" x2="491.9" y2="254.88" stroke="#6a9a3a" stroke-width="1.1" />
<path d="M490.8 259.3 L489.7 252.33 L491.9 254.88 L495.04 253.66 Z" fill="#6a9a3a" stroke="none" stroke-width="1" />
<text x="533.6" y="149.2" font-size="13.6" fill="#231f20" font-weight="bold" >E</text>
<rect x="569.8" y="148.3" width="20.8" height="110.7" fill="#ece0f8"/>
<line x1="569.8" y1="259" x2="569.8" y2="256.8" stroke="#404040" stroke-width="0.8" />
<line x1="569.8" y1="148.3" x2="569.8" y2="150.5" stroke="#404040" stroke-width="0.8" />
<text x="569.8" y="271" font-size="10.6" fill="#231f20" text-anchor="middle" >0</text>
<line x1="607.5" y1="259" x2="607.5" y2="256.8" stroke="#404040" stroke-width="0.8" />
<line x1="607.5" y1="148.3" x2="607.5" y2="150.5" stroke="#404040" stroke-width="0.8" />
<text x="607.5" y="271" font-size="10.6" fill="#231f20" text-anchor="middle" >1</text>
<line x1="645.2" y1="259" x2="645.2" y2="256.8" stroke="#404040" stroke-width="0.8" />
<line x1="645.2" y1="148.3" x2="645.2" y2="150.5" stroke="#404040" stroke-width="0.8" />
<text x="645.2" y="271" font-size="10.6" fill="#231f20" text-anchor="middle" >2</text>
<line x1="682.9" y1="259" x2="682.9" y2="256.8" stroke="#404040" stroke-width="0.8" />
<line x1="682.9" y1="148.3" x2="682.9" y2="150.5" stroke="#404040" stroke-width="0.8" />
<text x="682.9" y="271" font-size="10.6" fill="#231f20" text-anchor="middle" >3</text>
<line x1="569.8" y1="259" x2="572" y2="259" stroke="#404040" stroke-width="0.8" />
<line x1="682.8" y1="259" x2="680.6" y2="259" stroke="#404040" stroke-width="0.8" />
<text x="566.6" y="262.7" font-size="10.6" fill="#231f20" text-anchor="end" >0.9</text>
<line x1="569.8" y1="238.8" x2="572" y2="238.8" stroke="#404040" stroke-width="0.8" />
<line x1="682.8" y1="238.8" x2="680.6" y2="238.8" stroke="#404040" stroke-width="0.8" />
<text x="566.6" y="242.5" font-size="10.6" fill="#231f20" text-anchor="end" >0.92</text>
<line x1="569.8" y1="218.6" x2="572" y2="218.6" stroke="#404040" stroke-width="0.8" />
<line x1="682.8" y1="218.6" x2="680.6" y2="218.6" stroke="#404040" stroke-width="0.8" />
<text x="566.6" y="222.3" font-size="10.6" fill="#231f20" text-anchor="end" >0.94</text>
<line x1="569.8" y1="198.4" x2="572" y2="198.4" stroke="#404040" stroke-width="0.8" />
<line x1="682.8" y1="198.4" x2="680.6" y2="198.4" stroke="#404040" stroke-width="0.8" />
<text x="566.6" y="202.1" font-size="10.6" fill="#231f20" text-anchor="end" >0.96</text>
<line x1="569.8" y1="178.2" x2="572" y2="178.2" stroke="#404040" stroke-width="0.8" />
<line x1="682.8" y1="178.2" x2="680.6" y2="178.2" stroke="#404040" stroke-width="0.8" />
<text x="566.6" y="181.9" font-size="10.6" fill="#231f20" text-anchor="end" >0.98</text>
<line x1="569.8" y1="158" x2="572" y2="158" stroke="#404040" stroke-width="0.8" />
<line x1="682.8" y1="158" x2="680.6" y2="158" stroke="#404040" stroke-width="0.8" />
<text x="566.6" y="161.7" font-size="10.6" fill="#231f20" text-anchor="end" >1</text>
<text x="589" y="287.1" font-size="11.2" fill="#231f20" textLength="80.7" lengthAdjust="spacingAndGlyphs" >Frequency [THz]</text>
<text x="0" y="0" font-size="11" fill="#231f20" textLength="74.5" lengthAdjust="spacingAndGlyphs" transform="translate(537.3 255.7) rotate(-90)">Relative Phase,</text>
<text x="0" y="0" font-size="11" fill="#231f20" textLength="6.4" lengthAdjust="spacingAndGlyphs" transform="translate(537.3 176.2) rotate(-90)">Φ</text>
<text x="0" y="0" font-size="11" fill="#231f20" textLength="5" lengthAdjust="spacingAndGlyphs" transform="translate(537.3 168) rotate(-90)">/</text>
<text x="0" y="0" font-size="11" fill="#231f20" textLength="5.6" lengthAdjust="spacingAndGlyphs" transform="translate(537.3 162.4) rotate(-90)">Φ</text>
<text x="0" y="0" font-size="8.4" fill="#231f20" textLength="4.3" lengthAdjust="spacingAndGlyphs" transform="translate(542.4 155.6) rotate(-90)">0</text>
<path d="M589.3 158.2 L590.4 161.5 L590.5 182.4 L602.4 175.8 L610 184.4 L616.2 183 L619.6 191.3 L624.4 189.2 L627.8 195.4 L632 192.53 L634.11 199.18 L638.57 197.18 L640.49 203.84 L644.56 201.84 L646.34 208.56 L650.11 206.56 L651.77 211.57 L655.29 209.77 L656.86 215.08 L660.18 213.28 L661.67 218.81 L664.82 217.01 L666.23 221.83 L669.24 220.03 L670.6 224.59 L673.47 222.79 L674.78 227.03 L677.54 225.23 L678.8 229.21 L681.46 227.41 L682.67 230.4" fill="none" stroke="#a23ee6" stroke-width="1.1" stroke-linejoin="round"/>
<path d="M570.3 259 L570.6 182 Q571.2 164 573.8 160 Q575.5 158.3 579 158.1 L604.5 158.1 Q606 158.1 607.0 159.4 L608 159.4 Q609 158.1 611 158.1 L654.5 157.8 L654.5 166 L655.6 164.6 L682.8 162.9" fill="none" stroke="#6a9a3a" stroke-width="1.15" />
<rect x="569.8" y="148.3" width="113" height="110.7" fill="none" stroke="#404040" stroke-width="1"/>
<text x="624" y="184.1" font-size="10.6" fill="#231f20" textLength="49.4" lengthAdjust="spacingAndGlyphs" >Higher Δω</text>
<line x1="645.4" y1="174.7" x2="650.26" y2="165.78" stroke="#6a9a3a" stroke-width="1.1" />
<path d="M652.1 162.4 L651.88 168.55 L650.26 165.78 L647.05 165.91 Z" fill="#6a9a3a" stroke="none" stroke-width="1" />
<line x1="598.81" y1="186.97" x2="674.89" y2="232.33" stroke="#231f20" stroke-width="1.1" />
<path d="M679.7 235.2 L671.16 233.89 L674.89 232.33 L674.49 228.31 Z" fill="#231f20" stroke="none" stroke-width="1" />
<path d="M594 184.1 L602.54 185.41 L598.81 186.97 L599.21 190.99 Z" fill="#231f20" stroke="none" stroke-width="1" />
<text transform="translate(595.2 202.2) rotate(30.81)" font-size="10.0" fill="#231f20" textLength="80.5" lengthAdjust="spacingAndGlyphs">Phase jump at null</text>
<text transform="translate(601.2 219.0) rotate(30.81)" font-size="10.0" fill="#231f20" textLength="46.5" lengthAdjust="spacingAndGlyphs">frequencies</text>
<text x="572" y="241.4" font-size="10.2" fill="#231f20" textLength="16.2" lengthAdjust="spacingAndGlyphs" >Δω</text>
<line x1="571.2" y1="245.5" x2="589" y2="245.5" stroke="#231f20" stroke-width="1.2" />
<text x="575" y="255.9" font-size="10" fill="#231f20" textLength="10.9" lengthAdjust="spacingAndGlyphs" >2π</text>
</svg>
</body></html>
